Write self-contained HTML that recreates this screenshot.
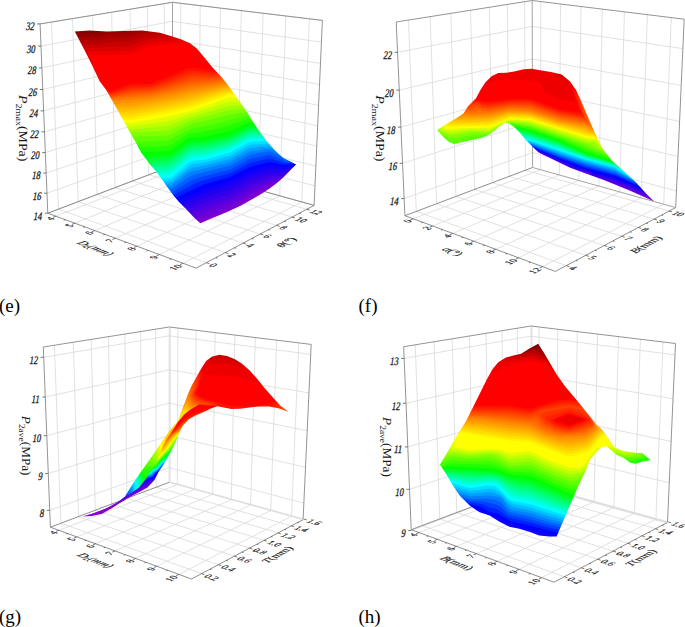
<!DOCTYPE html>
<html><head><meta charset="utf-8"><style>
html,body{margin:0;padding:0;background:#fff;}
body{width:685px;height:627px;overflow:hidden;}
svg{display:block;}
.gr{fill:none;stroke:#d9d9d9;stroke-width:0.8;}
.ed{fill:none;stroke:#7a7a7a;stroke-width:0.85;}
.ek{fill:none;stroke:#888;stroke-width:0.9;}
.tk{fill:none;stroke:#555;stroke-width:0.8;}
.em{fill:none;stroke:#a5a5a5;stroke-width:1;}
.el{fill:none;stroke:#d6d6d6;stroke-width:0.85;}
text{font-family:"Liberation Serif",serif;fill:#1a1a1a;}
.zl{font-size:11.5px;stroke:#1a1a1a;stroke-width:0.3px;}
.fl{font-size:9.5px;stroke:#1a1a1a;stroke-width:0.2px;}
.ft{font-size:11px;stroke:#1a1a1a;stroke-width:0.2px;}
.pl{font-size:19px;fill:#000;}

</style></head><body>
<svg width="685" height="627" viewBox="0 0 685 627">
<g id="pe"><path class="gr" d="M47.8 213.2L172.5 165.8M172.5 165.8L314.1 205.4M47.0 193.2L172.5 148.5M172.5 148.5L315.0 185.9M46.2 173.0L172.5 130.9M172.5 130.9L315.9 166.1M45.3 152.6L172.5 113.1M172.5 113.1L316.8 146.1M44.5 131.8L172.5 95.2M172.5 95.2L317.7 125.8M43.6 110.8L172.5 77.0M172.5 77.0L318.6 105.3M42.8 89.5L172.5 58.6M172.5 58.6L319.5 84.5M41.9 67.9L172.5 40.1M172.5 40.1L320.5 63.4M41.0 46.1L172.5 21.3M172.5 21.3L321.5 42.1M40.1 23.9L172.5 2.3M172.5 2.3L322.4 20.4M180.4 168.0L180.8 3.3M55.9 216.2L180.4 168.0M198.9 173.2L200.2 5.6M74.9 223.2L198.9 173.2M218.0 178.6L220.4 8.1M94.7 230.6L218.0 178.6M237.8 184.1L241.3 10.6M115.3 238.2L237.8 184.1M258.3 189.8L263.1 13.3M136.9 246.2L258.3 189.8M279.7 195.8L285.8 16.0M159.4 254.5L279.7 195.8M301.8 202.0L309.4 18.9M183.0 263.3L301.8 202.0M58.4 209.1L51.5 22.0M58.4 209.1L206.4 262.7M78.1 201.7L72.5 18.6M78.1 201.7L225.3 252.6M97.0 194.5L92.6 15.3M97.0 194.5L243.3 243.1M115.0 187.7L111.7 12.2M115.0 187.7L260.4 234.0M132.3 181.1L130.0 9.2M132.3 181.1L276.6 225.4M148.8 174.8L147.5 6.4M148.8 174.8L292.1 217.1M164.7 168.8L164.2 3.6M164.7 168.8L306.8 209.3"/>
<path class="ed" d="M47.8 213.2L196.1 268.1M196.1 268.1L314.1 205.4M47.8 213.2L172.5 165.8M172.5 165.8L314.1 205.4"/>
<path class="ek" d="M40.1 23.9L172.5 2.3M172.5 2.3L322.4 20.4M47.8 213.2L40.1 23.9M314.1 205.4L322.4 20.4"/>
<path class="em" d="M172.5 165.8L172.5 2.3"/>
<path class="tk" d="M55.9 216.2L53.0 217.3M74.9 223.2L72.0 224.4M94.7 230.6L91.8 231.8M115.3 238.2L112.4 239.5M136.9 246.2L134.0 247.5M159.4 254.5L156.6 255.9M183.0 263.3L180.2 264.7M65.3 219.7L63.8 220.2M84.7 226.8L83.2 227.4M104.9 234.3L103.4 235.0M126.0 242.2L124.5 242.8M148.0 250.3L146.6 251.0M171.1 258.9L169.7 259.6M206.4 262.7L209.5 263.8M225.3 252.6L228.4 253.7M243.3 243.1L246.3 244.1M260.4 234.0L263.4 235.0M276.6 225.4L279.6 226.3M292.1 217.1L295.0 218.0M306.8 209.3L309.7 210.1M216.0 257.6L217.5 258.1M234.4 247.8L235.9 248.3M251.9 238.5L253.4 239.0M268.6 229.6L270.1 230.1M284.4 221.2L285.9 221.6M299.5 213.2L301.0 213.6M44.8 213.2L47.8 213.2M44.0 193.2L47.0 193.2M43.2 173.0L46.2 173.0M42.3 152.6L45.3 152.6M41.5 131.8L44.5 131.8M40.6 110.8L43.6 110.8M39.8 89.5L42.8 89.5M38.9 67.9L41.9 67.9M38.0 46.1L41.0 46.1M37.1 23.9L40.1 23.9"/>
<text transform="matrix(0.74,0,-0.18,1,41.6,219.6)" text-anchor="end" class="zl">14</text>
<text transform="matrix(0.74,0,-0.18,1,40.8,199.6)" text-anchor="end" class="zl">16</text>
<text transform="matrix(0.74,0,-0.18,1,40.0,179.4)" text-anchor="end" class="zl">18</text>
<text transform="matrix(0.74,0,-0.18,1,39.1,159.0)" text-anchor="end" class="zl">20</text>
<text transform="matrix(0.74,0,-0.18,1,38.3,138.2)" text-anchor="end" class="zl">22</text>
<text transform="matrix(0.74,0,-0.18,1,37.4,117.2)" text-anchor="end" class="zl">24</text>
<text transform="matrix(0.74,0,-0.18,1,36.6,95.9)" text-anchor="end" class="zl">26</text>
<text transform="matrix(0.74,0,-0.18,1,35.7,74.3)" text-anchor="end" class="zl">28</text>
<text transform="matrix(0.74,0,-0.18,1,34.8,52.5)" text-anchor="end" class="zl">30</text>
<text transform="matrix(0.74,0,-0.18,1,33.9,30.3)" text-anchor="end" class="zl">32</text>
<text transform="matrix(0.933,-0.361,0.938,0.347,52.264,217.594)" y="3.3" text-anchor="end" class="fl">4</text>
<text transform="matrix(0.927,-0.374,0.938,0.347,71.270,224.681)" y="3.3" text-anchor="end" class="fl">5</text>
<text transform="matrix(0.921,-0.389,0.938,0.347,91.085,232.070)" y="3.3" text-anchor="end" class="fl">6</text>
<text transform="matrix(0.915,-0.404,0.938,0.347,111.759,239.781)" y="3.3" text-anchor="end" class="fl">7</text>
<text transform="matrix(0.907,-0.421,0.938,0.347,133.351,247.835)" y="3.3" text-anchor="end" class="fl">8</text>
<text transform="matrix(0.899,-0.439,0.938,0.347,155.923,256.255)" y="3.3" text-anchor="end" class="fl">9</text>
<text transform="matrix(0.889,-0.458,0.938,0.347,179.544,265.068)" y="3.3" text-anchor="end" class="fl">10</text>
<text transform="matrix(0.940,0.340,-0.883,0.469,211.082,264.374)" y="3.3" text-anchor="start" class="fl">0</text>
<text transform="matrix(0.945,0.327,-0.883,0.469,230.038,254.246)" y="3.3" text-anchor="start" class="fl">2</text>
<text transform="matrix(0.949,0.315,-0.883,0.469,248.026,244.637)" y="3.3" text-anchor="start" class="fl">4</text>
<text transform="matrix(0.953,0.304,-0.883,0.469,265.116,235.508)" y="3.3" text-anchor="start" class="fl">6</text>
<text transform="matrix(0.956,0.293,-0.883,0.469,281.376,226.822)" y="3.3" text-anchor="start" class="fl">8</text>
<text transform="matrix(0.959,0.283,-0.883,0.469,296.863,218.550)" y="3.3" text-anchor="start" class="fl">10</text>
<text transform="matrix(0.962,0.274,-0.883,0.469,311.632,210.662)" y="3.3" text-anchor="start" class="fl">12</text>
<text transform="matrix(0.930,0.368,-0.914,0.405,95.500,248.200)" y="3.5" text-anchor="middle" class="ft"><tspan font-style="italic">D</tspan><tspan style="font-size:7px" dy="1.5">2</tspan><tspan dy="-1.5" font-style="italic">(mm)</tspan></text>
<text transform="matrix(0.866,-0.500,0.953,0.304,286.300,242.300)" y="3.5" text-anchor="middle" class="ft"><tspan font-style="italic">θ</tspan>(°)</text>
<text transform="translate(19,95.1) rotate(90) scale(1.13,1)" style="font-size:12.3px"><tspan font-style="italic">P</tspan><tspan style="font-size:8.9px" dy="3.3">2max</tspan><tspan dy="-3.3">(MPa)</tspan></text>
<text x="-1" y="312" class="pl">(e)</text>
<g class="sf"><mask id="me0" maskUnits="userSpaceOnUse" x="0" y="0" width="685" height="627"><path d="M74.8 31.6L85.5 52.0L92.5 66.0L99.5 81.0L106.2 90.0L115.6 106.6L124.9 123.2L134.2 139.8L141.5 152.9L150.1 164.4L157.3 173.0L164.5 183.1L171.7 193.2L178.8 201.8L187.5 210.4L194.7 218.3L200.4 223.3L211.9 218.3L226.5 212.3L241.1 205.6L254.8 197.8L262.8 193.1L269.9 188.3L276.3 183.5L281.9 178.7L286.7 173.9L291.5 169.1L296.1 164.4L289.9 161.2L283.5 158.0L278.7 154.0L274.7 150.0L266.4 140.8L259.3 131.3L253.0 121.7L246.6 111.5L241.4 104.0L235.0 95.0L228.7 86.1L221.0 76.6L212.1 67.0L204.4 57.4L196.8 48.5L190.4 43.4L181.5 39.6L170.0 35.7L159.9 32.8L142.2 30.4L123.0 30.9L106.9 31.6L89.3 30.4Z" fill="#fff"/></mask>
<g mask="url(#me0)">
<path d="M74.6 29.6L73.2 30.5L72.9 32.4L97.7 81.8L104.5 91.1L139.8 153.9L177.3 203.1L193.2 219.6L199.4 225.0L201.2 225.1L241.9 207.4L263.8 194.8L283.2 180.2L297.8 165.5L298.1 164.0L297.3 162.8L284.6 156.3L280.1 152.5L267.9 139.5L230.3 84.8L198.3 47.2L191.5 41.7L182.1 37.7L160.5 30.9L142.5 28.4L106.9 29.6L89.3 28.4Z" fill="#8700cd"/>
<path d="M193.0 219.4L194.8 218.1L195.3 218.1L198.3 220.9L199.3 221.4L200.3 221.2L228.3 210.1L235.8 206.4L249.3 199.1L285.4 178.0L297.7 165.7L298.1 164.6L297.9 163.4L297.0 162.6L284.6 156.3L280.1 152.5L276.2 148.6L267.9 139.5L260.9 130.2L248.2 110.4L230.3 84.8L222.5 75.2L213.6 65.7L198.3 47.2L191.3 41.6L182.1 37.7L170.6 33.8L160.5 30.9L142.5 28.4L106.9 29.6L89.3 28.4L73.7 29.9L72.9 31.0L72.9 32.4L90.7 66.9L97.8 82.0L104.5 91.1L139.8 153.9L148.5 165.6L155.7 174.2L170.2 194.5L177.4 203.2L186.1 211.8Z" fill="#7600d3"/>
<path d="M192.8 219.0L194.8 217.4L197.8 217.9L232.3 204.4L254.3 192.1L271.3 183.5L282.8 178.6L284.3 177.5L286.1 177.3L297.7 165.7L298.1 164.6L297.9 163.4L297.0 162.6L284.6 156.3L280.1 152.5L276.2 148.6L267.9 139.5L260.9 130.2L248.2 110.4L230.3 84.8L222.5 75.2L213.6 65.7L198.3 47.2L191.3 41.6L182.1 37.7L170.6 33.8L160.5 30.9L142.5 28.4L106.9 29.6L89.3 28.4L73.7 29.9L72.9 31.0L72.9 32.4L90.7 66.9L97.8 82.0L104.5 91.1L139.8 153.9L148.5 165.6L155.7 174.2L170.2 194.5L177.4 203.2Z" fill="#6500da"/>
<path d="M192.5 218.8L194.6 216.9L194.3 215.4L194.8 214.9L207.3 209.8L231.3 201.2L252.8 189.1L270.4 181.4L282.3 177.9L285.3 175.9L286.6 176.8L297.7 165.7L298.1 164.6L297.9 163.4L297.0 162.6L284.6 156.3L280.1 152.5L276.2 148.6L267.9 139.5L260.9 130.2L248.2 110.4L230.3 84.8L222.5 75.2L213.6 65.7L198.3 47.2L191.3 41.6L182.1 37.7L170.6 33.8L160.5 30.9L142.5 28.4L106.9 29.6L89.3 28.4L73.7 29.9L72.9 31.0L72.9 32.4L90.7 66.9L97.8 82.0L104.5 91.1L139.8 153.9L148.5 165.6L155.7 174.2L170.2 194.5L177.4 203.2L186.1 211.8Z" fill="#5400e0"/>
<path d="M192.3 218.4L193.9 216.9L191.8 213.9L191.5 212.4L192.3 211.7L205.8 205.9L230.3 198.0L251.3 186.0L269.8 179.2L281.8 177.1L287.3 173.5L287.7 173.9L287.1 175.9L287.4 176.0L297.7 165.7L298.1 164.6L297.9 163.4L297.0 162.6L284.6 156.3L280.1 152.5L276.2 148.6L267.9 139.5L260.9 130.2L248.2 110.4L230.3 84.8L222.5 75.2L213.6 65.7L198.3 47.2L191.3 41.6L182.1 37.7L170.6 33.8L160.5 30.9L142.5 28.4L106.9 29.6L89.3 28.4L73.7 29.9L72.9 31.0L72.9 32.4L90.7 66.9L97.8 82.0L104.5 91.1L139.8 153.9L148.5 165.6L155.7 174.2L170.2 194.5L177.4 203.2Z" fill="#4400e6"/>
<path d="M181.4 207.2L183.0 205.9L183.8 205.8L186.8 208.6L188.3 209.3L204.3 202.1L229.3 194.3L248.8 183.4L253.8 181.4L269.8 176.3L282.3 175.3L288.3 171.6L288.8 171.7L288.9 173.4L289.5 174.0L297.7 165.7L298.0 163.8L297.0 162.6L284.6 156.3L280.1 152.5L276.2 148.6L267.9 139.5L260.9 130.2L248.2 110.4L230.3 84.8L222.5 75.2L213.6 65.7L198.3 47.2L191.3 41.6L182.1 37.7L170.6 33.8L160.5 30.9L142.5 28.4L106.9 29.6L89.3 28.4L73.7 29.9L72.9 31.0L72.9 32.4L90.7 66.9L97.8 82.0L104.5 91.1L139.8 153.9L148.5 165.6L155.7 174.2L170.2 194.5L177.4 203.2Z" fill="#3300ec"/>
<path d="M181.1 206.8L183.8 205.1L185.9 205.9L202.8 198.4L208.8 196.1L227.3 190.6L233.8 187.6L247.8 179.9L253.3 177.6L261.8 175.0L269.3 172.9L281.3 172.7L284.8 172.3L288.8 170.0L290.3 169.5L290.5 169.9L289.2 172.9L289.8 173.7L297.7 165.7L298.0 163.8L297.0 162.6L284.6 156.3L280.1 152.5L276.2 148.6L267.9 139.5L260.9 130.2L248.2 110.4L230.3 84.8L222.5 75.2L213.6 65.7L198.3 47.2L191.3 41.6L182.1 37.7L170.6 33.8L160.5 30.9L142.5 28.4L106.9 29.6L89.3 28.4L73.7 29.9L72.9 31.0L72.9 32.4L90.7 66.9L97.8 82.0L104.5 91.1L139.8 153.9L148.5 165.6L155.7 174.2L170.2 194.5L177.3 203.1Z" fill="#2200f2"/>
<path d="M180.8 206.6L183.6 204.4L183.4 202.9L184.3 201.9L192.3 198.8L207.3 192.1L225.3 186.8L231.8 184.3L245.8 176.9L252.3 174.0L268.8 169.4L271.8 169.3L281.8 169.9L287.3 169.3L290.3 167.9L291.8 167.6L292.2 167.9L291.7 169.4L289.6 172.4L290.0 173.4L297.7 165.7L298.0 163.8L297.0 162.6L284.6 156.3L280.1 152.5L276.2 148.6L267.9 139.5L260.9 130.2L248.2 110.4L230.3 84.8L222.5 75.2L213.6 65.7L198.3 47.2L191.3 41.6L182.1 37.7L170.6 33.8L160.5 30.9L142.5 28.4L106.9 29.6L89.3 28.4L73.7 29.9L72.9 31.0L72.9 32.4L90.7 66.9L97.8 82.0L104.5 91.1L139.8 153.9L148.5 165.6L155.7 174.2L170.2 194.5L177.4 203.2Z" fill="#1100f9"/>
<path d="M180.5 206.3L182.5 204.4L180.8 201.9L180.5 200.9L181.0 199.4L181.8 198.5L190.8 195.2L205.8 188.0L230.8 180.7L250.8 170.6L268.3 166.0L272.3 165.8L281.8 167.1L289.3 166.4L293.8 165.6L294.3 165.9L294.1 166.9L290.3 172.0L290.4 173.1L297.7 165.7L298.0 163.8L297.0 162.6L284.6 156.3L280.1 152.5L276.2 148.6L267.9 139.5L260.9 130.2L248.2 110.4L230.3 84.8L222.5 75.2L213.6 65.7L198.3 47.2L191.3 41.6L182.1 37.7L170.6 33.8L160.5 30.9L142.5 28.4L106.9 29.6L89.3 28.4L73.7 29.9L72.9 31.0L72.9 32.4L90.7 66.9L97.8 82.0L104.5 91.1L139.8 153.9L148.5 165.6L155.7 174.2L170.2 194.5L177.4 203.2Z" fill="#0000ff"/>
<path d="M172.0 196.7L173.8 194.9L176.3 197.0L177.6 197.4L179.6 195.4L189.3 191.5L203.8 184.4L229.3 177.3L249.3 167.2L254.3 165.7L269.8 162.0L282.8 164.8L293.3 164.0L294.3 163.6L294.4 162.9L293.3 160.7L284.6 156.3L280.1 152.5L267.9 139.5L260.9 130.2L248.2 110.4L230.3 84.8L222.5 75.2L213.6 65.7L198.3 47.2L191.5 41.7L182.1 37.7L170.6 33.8L160.5 30.9L142.5 28.4L106.9 29.6L89.3 28.4L73.7 29.9L72.9 31.0L72.9 32.4L90.7 66.9L97.8 82.0L104.5 91.1L139.8 153.9L148.5 165.6L155.7 174.2L170.1 194.4Z" fill="#0020ff"/>
<path d="M171.8 196.4L173.8 194.1L175.3 194.1L196.3 183.1L202.8 180.5L228.3 173.8L233.3 171.7L248.3 163.8L253.3 162.0L269.3 158.5L278.8 161.0L283.8 162.9L287.3 163.3L291.8 162.7L292.2 162.4L291.8 160.9L292.5 160.3L284.6 156.3L280.1 152.5L267.9 139.5L260.9 130.2L248.2 110.4L230.3 84.8L222.5 75.2L213.6 65.7L198.3 47.2L191.3 41.6L182.1 37.7L170.6 33.8L160.5 30.9L142.5 28.4L106.9 29.6L89.3 28.4L73.7 29.9L72.9 31.0L72.9 32.4L90.7 66.9L97.8 82.0L104.5 91.1L139.8 153.9L148.5 165.6L155.7 174.2Z" fill="#0040ff"/>
<path d="M171.6 196.2L173.3 193.9L172.8 191.7L191.8 180.3L201.3 176.9L226.3 170.5L231.3 168.9L247.3 160.3L252.8 158.2L269.3 155.1L271.3 155.4L279.3 158.3L284.3 160.9L287.3 161.9L289.8 161.6L289.9 160.9L288.5 158.9L289.0 158.5L284.6 156.3L280.1 152.5L267.9 139.5L260.9 130.2L248.2 110.4L230.3 84.8L222.5 75.2L213.6 65.7L198.3 47.2L191.5 41.7L182.1 37.7L170.6 33.8L160.5 30.9L142.5 28.4L106.9 29.6L89.3 28.4L73.7 29.9L72.9 31.0L72.9 32.4L90.7 66.9L97.8 82.0L104.5 91.1L139.8 153.9L148.5 165.6L155.7 174.2L170.1 194.4Z" fill="#0060ff"/>
<path d="M171.3 195.8L172.7 193.9L170.2 190.4L170.0 189.4L171.8 188.7L189.8 176.4L193.8 174.8L230.3 165.6L248.3 155.8L251.8 154.5L267.3 151.6L269.3 151.6L271.8 152.1L280.3 155.7L285.3 159.0L286.8 159.6L287.0 159.4L285.2 157.4L284.8 156.4L280.1 152.5L276.2 148.6L267.9 139.5L260.9 130.2L243.0 102.8L230.3 84.9L222.6 75.3L213.6 65.7L198.3 47.2L191.5 41.7L182.1 37.7L170.6 33.8L160.5 30.9L142.5 28.4L106.9 29.6L89.3 28.4L73.7 29.9L72.9 31.0L72.9 32.4L90.7 66.9L97.8 82.0L104.5 91.1L139.8 153.9L148.5 165.6L155.7 174.2Z" fill="#0080ff"/>
<path d="M162.9 184.4L164.6 183.9L166.3 185.6L167.8 186.5L171.3 185.5L189.8 172.2L194.8 170.7L229.3 162.5L249.8 151.4L269.3 148.4L281.4 153.7L276.2 148.6L267.9 139.5L260.9 130.2L248.2 110.4L230.3 84.8L222.5 75.2L213.6 65.7L198.3 47.2L191.3 41.6L182.1 37.7L170.6 33.8L160.5 30.9L142.5 28.4L106.9 29.6L89.3 28.4L73.9 29.8L73.0 30.8L72.9 32.4L90.7 66.9L97.8 82.0L104.5 91.1L139.8 153.9L148.5 165.6L155.7 174.2Z" fill="#009fff"/>
<path d="M162.8 184.0L164.3 183.2L167.3 183.9L171.3 182.9L187.8 170.1L192.8 167.8L205.8 165.3L228.3 159.6L232.8 157.5L248.3 149.0L251.3 148.0L268.3 146.0L273.8 148.4L278.4 150.9L267.9 139.5L260.9 130.2L248.2 110.4L230.3 84.8L222.5 75.2L213.6 65.7L198.3 47.2L191.3 41.6L182.1 37.7L170.6 33.8L160.5 30.9L142.5 28.4L106.9 29.6L89.3 28.4L73.9 29.8L73.0 30.8L72.9 32.4L90.7 66.9L97.8 82.0L104.5 91.1L139.8 153.9L148.5 165.6L155.7 174.2Z" fill="#00bfff"/>
<path d="M162.5 183.7L163.9 182.9L164.3 181.3L167.8 181.1L171.3 180.2L186.8 167.5L191.3 164.8L193.3 164.1L205.8 162.3L227.3 156.6L231.8 154.9L246.8 146.6L249.8 145.3L252.8 144.6L267.3 143.7L271.3 145.4L275.5 148.0L267.9 139.5L260.9 130.2L248.2 110.4L230.3 84.8L222.5 75.2L213.6 65.7L198.3 47.2L191.3 41.6L182.1 37.7L170.6 33.8L160.5 30.9L142.5 28.4L106.9 29.6L89.3 28.4L73.9 29.8L73.0 30.8L72.9 32.4L90.7 66.9L97.8 82.0L104.5 91.1L139.8 153.9L148.5 165.6L155.7 174.2Z" fill="#00dfff"/>
<path d="M162.3 183.4L163.4 182.4L161.9 179.4L162.3 178.4L167.8 178.3L170.6 177.9L185.8 164.8L189.3 162.2L191.8 161.1L205.3 159.4L229.8 152.5L248.3 142.6L251.8 141.6L266.3 141.3L273.1 145.3L267.9 139.5L260.9 130.2L248.2 110.4L230.3 84.8L222.5 75.2L213.6 65.7L198.3 47.2L191.3 41.6L182.1 37.7L170.6 33.8L160.5 30.9L142.5 28.4L106.9 29.6L89.3 28.4L73.9 29.8L73.0 30.8L72.9 32.4L90.7 66.9L97.8 82.0L104.5 91.1L139.8 153.9L148.5 165.6L155.7 174.2Z" fill="#00ffff"/>
<path d="M150.8 168.4L152.8 167.9L157.8 174.2L159.3 175.3L160.3 175.6L166.3 175.4L172.8 172.8L189.8 158.4L204.8 156.8L229.3 150.1L249.8 139.2L264.8 139.2L266.3 139.7L270.7 142.6L267.9 139.5L260.9 130.2L248.2 110.4L230.3 84.8L222.5 75.2L213.6 65.7L198.3 47.2L191.3 41.6L182.1 37.7L170.6 33.8L160.5 30.9L142.5 28.4L106.9 29.6L89.3 28.4L73.9 29.8L73.0 30.8L72.9 32.4L90.7 66.9L97.8 82.0L104.5 91.1L139.8 153.9L148.6 165.7Z" fill="#00ffdf"/>
<path d="M150.8 168.1L152.8 167.4L153.3 167.7L157.3 172.3L158.3 172.7L166.3 172.5L171.3 170.6L175.3 167.9L187.5 157.4L189.3 156.3L194.3 155.3L204.8 154.4L228.8 148.0L249.8 137.2L263.8 137.4L268.3 139.9L260.9 130.2L248.2 110.4L230.3 84.8L222.5 75.2L213.6 65.7L198.3 47.2L191.3 41.6L182.1 37.7L170.6 33.8L160.5 30.9L142.5 28.4L106.9 29.6L89.3 28.4L73.9 29.8L73.0 30.8L72.9 32.4L90.7 66.9L97.8 82.0L104.5 91.1L139.8 153.9L148.5 165.6Z" fill="#00ffbf"/>
<path d="M150.6 167.9L153.3 167.2L154.8 168.9L156.8 169.9L166.3 169.6L170.3 168.1L174.8 165.5L188.3 154.4L193.8 152.8L203.8 152.1L206.8 151.5L228.3 146.0L233.1 143.9L249.3 135.4L251.3 135.2L262.8 135.7L266.5 137.6L260.9 130.2L248.2 110.4L230.3 84.8L222.5 75.2L213.6 65.7L198.3 47.2L191.3 41.6L182.1 37.7L170.6 33.8L160.5 30.9L142.5 28.4L106.9 29.6L89.3 28.4L73.9 29.8L73.0 30.8L72.9 32.4L90.7 66.9L97.8 82.0L104.5 91.1L139.8 153.9L148.5 165.6Z" fill="#00ff9f"/>
<path d="M150.4 167.8L153.3 166.5L155.3 167.2L165.3 166.9L166.8 166.6L173.8 163.4L187.8 152.3L193.3 150.4L206.3 149.3L227.8 143.9L232.3 142.2L249.3 133.4L251.3 133.2L261.8 133.9L264.9 135.5L260.9 130.2L248.2 110.4L230.3 84.8L222.5 75.2L213.6 65.7L198.3 47.2L191.3 41.6L182.1 37.7L170.6 33.8L160.5 30.9L142.5 28.4L106.9 29.6L89.3 28.4L73.9 29.8L73.0 30.8L72.9 32.4L90.7 66.9L97.8 82.0L104.5 91.1L139.8 153.9L148.6 165.7Z" fill="#00ff80"/>
<path d="M150.3 167.7L152.7 166.4L152.4 164.9L152.8 164.4L165.8 163.9L172.8 161.3L186.3 150.8L192.3 148.2L205.8 147.0L227.3 141.9L231.8 140.3L249.3 131.5L251.8 131.3L257.3 132.1L260.8 132.2L263.3 133.3L248.2 110.4L230.3 84.8L222.5 75.2L213.6 65.7L198.3 47.2L191.3 41.6L182.1 37.7L170.6 33.8L160.5 30.9L142.5 28.4L106.9 29.6L89.3 28.4L73.9 29.8L73.0 30.8L72.9 32.4L90.7 66.9L97.8 82.0L104.5 91.1L139.8 153.9Z" fill="#00ff60"/>
<path d="M150.3 167.5L152.3 166.4L150.3 161.8L165.8 161.1L171.8 159.2L185.8 148.6L191.8 145.8L205.8 144.7L226.8 139.8L231.3 138.4L248.8 129.7L251.8 129.4L259.8 130.4L261.7 131.1L248.2 110.4L230.3 84.8L222.5 75.2L213.6 65.7L198.3 47.2L191.3 41.6L182.1 37.7L170.6 33.8L160.5 30.9L142.5 28.4L106.9 29.6L89.3 28.4L73.9 29.8L73.0 30.8L72.9 32.4L90.7 66.9L97.8 82.0L104.5 91.1L139.8 153.9L148.5 165.6Z" fill="#00ff40"/>
<path d="M150.0 167.4L152.0 166.4L149.3 161.9L148.3 158.9L165.3 158.2L171.1 156.9L185.3 146.5L190.3 143.8L192.8 143.0L205.4 142.4L230.3 136.7L248.8 127.7L252.3 127.5L260.2 129.0L248.2 110.4L230.3 84.8L222.5 75.2L213.6 65.7L198.3 47.2L191.3 41.6L182.1 37.7L170.6 33.8L160.5 30.9L142.5 28.4L106.9 29.6L89.3 28.4L73.9 29.8L73.0 30.8L72.9 32.4L90.7 66.9L97.8 82.0L104.5 91.1L139.8 153.9Z" fill="#00ff20"/>
<path d="M149.8 167.1L151.3 166.4L151.3 165.9L146.5 158.4L145.9 156.9L146.3 156.0L165.3 155.3L170.3 154.7L188.3 142.0L191.3 140.9L205.3 140.1L229.8 134.8L248.8 125.8L251.8 125.5L258.7 126.8L248.2 110.4L230.3 84.8L222.5 75.2L213.6 65.7L198.3 47.2L191.3 41.6L182.1 37.7L170.6 33.8L160.5 30.9L142.5 28.4L106.9 29.6L89.3 28.4L73.9 29.8L73.0 30.8L72.9 32.4L90.7 66.9L97.8 82.0L104.5 91.1L139.8 153.9Z" fill="#00ff00"/>
<path d="M135.8 146.4L137.8 145.9L141.3 150.3L143.3 151.8L165.8 151.2L172.8 148.8L189.3 137.7L204.8 136.4L227.3 131.6L231.3 130.3L249.3 122.4L255.8 123.8L256.7 123.6L248.2 110.4L230.3 84.8L222.5 75.2L213.6 65.7L198.3 47.2L191.3 41.6L182.1 37.7L170.6 33.8L160.5 30.9L142.5 28.4L106.9 29.6L89.3 28.4L73.9 29.8L73.0 30.8L72.9 32.4L90.7 66.9L97.8 82.0L104.5 91.1Z" fill="#20ff00"/>
<path d="M135.4 146.1L137.8 145.1L139.8 146.5L140.8 146.7L150.3 146.7L166.3 145.8L173.3 143.4L186.4 134.9L188.8 133.8L193.8 132.7L203.8 131.5L225.8 126.6L247.8 119.0L254.3 120.1L248.2 110.4L230.3 84.8L222.5 75.2L213.6 65.7L198.3 47.2L191.3 41.6L182.1 37.7L170.6 33.8L160.5 30.9L142.5 28.4L106.9 29.6L89.3 28.4L73.9 29.8L73.0 30.8L72.9 32.4L90.7 66.9L97.8 82.0L104.5 91.1Z" fill="#40ff00"/>
<path d="M135.3 145.8L137.4 144.4L136.7 142.4L136.8 141.7L150.3 141.5L166.3 140.6L171.8 139.1L185.3 131.2L192.3 128.5L202.8 126.5L224.8 121.4L232.8 118.9L246.3 115.5L247.3 115.4L252.1 116.4L248.2 110.4L230.3 84.9L222.6 75.3L213.6 65.7L198.3 47.2L191.3 41.6L182.1 37.7L170.6 33.8L160.5 30.9L142.5 28.4L106.9 29.6L89.3 28.4L73.9 29.8L73.0 30.8L72.9 32.4L90.7 66.9L97.7 81.8L104.5 91.1Z" fill="#60ff00"/>
<path d="M135.3 145.4L136.6 144.4L132.9 137.9L132.7 136.9L133.3 136.4L150.3 136.3L165.3 135.5L170.3 134.8L185.8 126.7L191.8 124.1L231.3 114.2L245.3 111.9L249.8 112.9L230.3 84.9L222.6 75.3L213.6 65.7L198.3 47.2L191.2 41.6L182.1 37.7L170.6 33.8L160.5 30.9L142.5 28.4L106.9 29.6L89.3 28.4L73.9 29.8L73.0 30.8L72.9 32.4L90.7 66.9L97.8 82.0L104.5 91.1Z" fill="#80ff00"/>
<path d="M126.0 128.9L126.8 129.2L129.3 131.9L130.8 132.3L150.3 131.7L167.8 130.4L171.8 129.3L189.3 121.0L207.3 115.7L230.3 109.9L243.8 108.5L247.5 109.2L230.3 84.9L222.6 75.3L213.6 65.7L198.3 47.2L191.2 41.6L182.1 37.7L170.6 33.8L160.5 30.9L142.5 28.4L106.9 29.6L89.3 28.4L73.9 29.8L73.0 30.8L72.9 32.4L90.7 66.9L97.7 81.8L104.5 91.1Z" fill="#9fff00"/>
<path d="M125.8 128.5L126.8 128.3L128.3 129.1L130.8 129.4L167.3 125.9L172.3 124.4L187.8 118.1L229.3 105.9L242.8 105.2L245.0 105.7L230.3 84.9L222.6 75.3L213.6 65.7L198.3 47.2L191.2 41.6L182.1 37.7L170.6 33.8L160.5 30.9L142.5 28.4L106.9 29.6L89.3 28.4L73.9 29.8L73.0 30.8L72.9 32.4L90.7 66.9L97.7 81.8L104.5 91.1Z" fill="#bfff00"/>
<path d="M125.4 128.2L126.4 127.4L126.3 126.2L126.8 126.0L130.8 126.4L165.8 121.6L169.3 120.8L228.8 101.9L231.8 101.6L242.5 102.1L230.3 84.9L222.6 75.3L213.6 65.7L198.3 47.2L191.2 41.6L182.1 37.7L170.6 33.8L160.5 30.9L142.5 28.4L106.9 29.6L89.3 28.4L73.9 29.8L73.0 30.8L72.9 32.4L90.7 66.9L97.7 81.8L104.5 91.1Z" fill="#dfff00"/>
<path d="M125.3 127.8L125.4 126.9L124.1 123.9L124.3 122.8L130.8 123.3L170.3 116.1L190.8 110.9L228.3 97.8L232.3 97.5L240.1 98.7L230.3 84.9L222.6 75.3L213.6 65.7L198.2 47.1L191.3 41.6L182.3 37.8L170.6 33.8L160.5 30.9L142.3 28.4L106.9 29.6L89.3 28.4L73.9 29.8L73.0 30.8L72.9 32.4L90.7 66.9L97.7 81.8L104.5 91.1Z" fill="#ffff00"/>
<path d="M104.5 91.1L119.3 116.9L121.8 119.5L127.8 120.3L131.8 120.1L149.8 116.2L169.8 112.7L189.3 108.4L229.4 94.4L230.8 94.4L238.0 95.8L230.3 84.9L222.6 75.3L213.6 65.7L198.2 47.1L191.3 41.6L182.3 37.8L170.6 33.8L160.5 30.9L142.3 28.4L106.9 29.6L89.3 28.4L73.9 29.8L73.0 30.8L72.9 32.4L90.7 66.9L97.7 81.8Z" fill="#ffef00"/>
<path d="M116.3 111.7L117.3 112.4L119.8 116.3L120.8 116.9L128.3 117.4L131.8 117.2L169.3 110.2L188.3 106.0L229.3 92.7L236.7 93.9L230.3 84.8L222.6 75.3L213.6 65.7L198.2 47.1L191.3 41.6L182.3 37.8L170.6 33.8L160.5 30.9L142.3 28.4L106.9 29.6L89.3 28.4L73.9 29.8L73.0 30.8L72.9 32.4L90.7 66.9L97.7 81.8L104.5 91.1Z" fill="#ffdf00"/>
<path d="M116.3 111.5L117.3 111.9L118.8 113.8L119.8 114.4L131.3 114.4L168.8 107.7L187.3 103.6L228.8 91.2L230.3 91.0L235.3 92.0L230.3 84.8L222.6 75.3L213.6 65.7L198.2 47.1L191.3 41.6L182.3 37.8L170.6 33.8L160.5 30.9L142.3 28.4L106.9 29.6L89.3 28.4L73.9 29.8L73.0 30.8L72.9 32.4L90.7 66.9L97.7 81.8L104.5 91.1Z" fill="#ffcf00"/>
<path d="M116.0 111.3L118.8 111.7L130.8 111.6L166.3 105.5L186.8 101.0L228.3 89.6L230.3 89.4L234.0 90.1L230.3 84.8L222.6 75.3L213.6 65.7L198.2 47.1L191.3 41.6L182.1 37.7L170.6 33.8L160.5 30.9L142.3 28.4L106.9 29.6L89.3 28.4L73.9 29.8L73.0 30.8L72.9 32.4L90.7 66.9L97.7 81.8L104.5 91.1Z" fill="#ffc000"/>
<path d="M115.9 111.2L117.0 110.4L117.1 109.4L117.8 109.1L130.8 108.7L151.3 105.6L167.8 102.6L185.8 98.6L227.8 88.1L229.8 87.8L232.7 88.2L222.6 75.3L213.6 65.7L198.2 47.1L191.3 41.6L182.1 37.7L170.6 33.8L160.5 30.9L142.3 28.4L106.9 29.6L89.3 28.4L73.9 29.8L73.0 30.8L72.9 32.4L90.7 66.9L97.7 81.8L104.5 91.1Z" fill="#ffb000"/>
<path d="M115.8 111.0L116.4 110.4L115.7 106.9L116.3 106.5L130.3 105.9L151.3 103.0L171.8 99.2L191.3 94.4L227.3 86.5L229.8 86.1L231.3 86.3L222.6 75.3L213.6 65.7L198.2 47.1L191.3 41.6L182.1 37.7L170.6 33.8L160.5 30.9L142.3 28.4L106.9 29.6L89.3 28.4L73.9 29.8L73.0 30.8L72.9 32.4L90.7 66.9L97.7 81.8L104.5 91.1Z" fill="#ffa000"/>
<path d="M115.8 110.6L115.9 109.9L114.3 105.4L114.3 104.4L114.8 103.9L129.8 103.0L150.8 100.5L170.8 96.8L190.3 92.1L201.3 89.9L230.0 84.5L222.5 75.2L213.6 65.7L198.2 47.1L191.3 41.6L182.1 37.7L170.6 33.8L160.5 30.9L142.3 28.4L106.9 29.6L89.3 28.4L73.9 29.8L73.0 30.8L72.9 32.4L90.7 66.9L97.7 81.8L104.5 91.1Z" fill="#ff9000"/>
<path d="M115.4 110.3L113.2 104.4L113.1 101.9L113.8 101.2L129.8 100.1L150.3 97.9L170.3 94.2L190.3 89.5L228.8 83.0L222.5 75.2L213.6 65.7L198.2 47.1L191.3 41.6L182.1 37.7L170.6 33.8L160.5 30.9L142.3 28.4L106.9 29.6L89.3 28.4L73.9 29.8L73.0 30.8L72.9 32.4L90.7 66.9L97.7 81.8L104.5 91.1Z" fill="#ff8000"/>
<path d="M108.3 97.1L110.4 100.4L111.3 101.1L111.9 99.9L112.7 99.4L150.3 95.8L169.3 92.1L190.3 86.9L227.5 81.5L222.5 75.2L213.6 65.7L198.0 46.9L191.2 41.6L182.1 37.7L170.6 33.8L160.2 30.8L142.3 28.4L106.9 29.6L89.3 28.4L73.9 29.8L73.0 30.8L72.9 32.4L90.7 66.9L97.7 81.8L104.5 91.1L107.9 97.0Z" fill="#ff7000"/>
<path d="M107.8 96.7L108.9 96.9L110.3 98.8L111.3 98.3L132.3 95.6L150.3 94.1L168.8 90.1L191.3 84.1L213.3 81.8L226.0 79.6L222.5 75.2L213.6 65.7L198.0 46.9L191.2 41.6L182.1 37.7L170.6 33.8L160.2 30.8L142.3 28.4L106.9 29.6L89.3 28.4L73.9 29.8L73.0 30.8L72.9 32.4L90.7 66.9L97.7 81.8L104.5 91.1Z" fill="#ff6000"/>
<path d="M107.8 96.4L112.3 97.1L132.3 93.6L150.8 92.3L168.3 88.0L190.8 81.4L213.3 80.0L223.3 78.5L224.3 77.9L222.6 75.3L213.6 65.7L198.0 46.9L191.2 41.6L182.1 37.7L170.6 33.8L160.2 30.8L142.3 28.4L106.9 29.6L89.3 28.4L73.9 29.8L73.0 30.8L72.9 32.4L90.7 66.9L97.7 81.8L104.5 91.1Z" fill="#ff5000"/>
<path d="M107.5 96.3L109.3 95.4L112.3 95.9L132.3 91.7L151.8 90.4L167.3 86.2L190.3 78.8L193.8 78.4L213.3 78.2L221.3 77.0L222.3 76.4L220.7 73.4L213.6 65.7L198.0 46.9L191.2 41.6L182.1 37.7L170.6 33.8L160.2 30.8L142.3 28.4L106.9 29.6L89.3 28.4L73.9 29.8L73.0 30.8L72.9 32.4L90.7 66.9L97.7 81.8L104.5 91.1Z" fill="#ff4000"/>
<path d="M107.4 96.2L108.5 95.4L108.3 93.9L111.8 94.8L131.8 89.8L151.3 88.7L170.8 82.8L189.3 76.3L193.8 75.7L213.3 76.4L219.8 75.4L220.3 74.9L217.5 69.8L213.6 65.7L198.0 46.9L191.2 41.6L182.1 37.7L170.6 33.8L160.2 30.8L142.3 28.4L106.9 29.6L89.3 28.4L73.9 29.8L73.0 30.8L72.9 32.4L90.7 66.9L97.7 81.8L104.5 91.1Z" fill="#ff3000"/>
<path d="M107.3 96.0L108.1 95.4L107.3 92.9L107.8 92.5L111.3 93.7L128.3 88.6L131.8 87.9L150.8 87.1L170.3 80.7L188.8 73.7L193.8 73.1L213.3 74.5L217.8 73.9L218.3 73.4L213.3 65.9L213.2 65.2L198.0 46.9L191.2 41.6L182.1 37.7L170.6 33.8L160.2 30.8L142.3 28.4L106.9 29.6L89.3 28.4L73.9 29.8L73.0 30.8L72.9 32.4L90.7 66.9L97.7 81.8L104.5 91.1Z" fill="#ff2000"/>
<path d="M107.3 95.7L107.7 95.4L106.4 91.4L106.8 91.0L110.8 92.5L128.3 86.7L131.3 86.0L150.8 85.4L171.3 78.0L187.8 71.1L193.8 70.4L213.3 72.7L215.8 72.4L216.3 71.9L210.2 62.9L209.7 61.4L210.6 61.9L198.0 46.9L191.2 41.6L182.1 37.7L170.6 33.8L160.2 30.8L142.3 28.4L106.9 29.6L89.3 28.4L73.9 29.8L73.0 30.8L72.9 32.4L90.7 66.9L97.7 81.8L104.5 91.1Z" fill="#ff1000"/>
<path d="M107.0 95.4L105.4 90.9L105.3 89.4L110.3 91.4L127.8 84.9L131.3 84.1L150.3 83.7L170.3 76.0L186.8 68.6L194.3 67.7L213.3 70.8L214.3 70.4L206.6 59.4L205.6 56.9L205.8 56.7L206.7 57.1L198.0 46.9L191.2 41.6L182.1 37.7L170.6 33.8L160.2 30.8L142.3 28.4L106.9 29.6L89.3 28.4L73.9 29.8L73.0 30.8L72.9 32.4L90.7 66.9L97.7 81.8L104.5 91.1Z" fill="#ff0000"/>
<path d="M96.7 72.4L90.3 58.0L89.7 56.4L89.8 55.3L128.3 54.5L132.3 53.5L150.3 46.2L169.8 44.3L180.8 42.7L185.8 43.0L189.8 42.7L193.3 45.4L194.6 45.9L191.9 42.9L192.4 42.4L191.3 41.6L185.7 39.2L185.3 39.6L178.8 37.5L178.4 36.9L178.7 36.5L170.6 33.8L160.2 30.8L142.5 28.4L106.9 29.6L89.3 28.4L73.9 29.8L73.0 30.8L72.9 32.4L80.4 46.6L81.3 46.5L81.8 47.1L95.1 71.9L96.8 73.9ZM198.7 47.6L198.1 48.9L198.8 49.9L200.8 51.6L202.0 51.5ZM194.9 46.4L195.3 46.9L195.7 46.4L195.3 46.3ZM196.3 46.9L195.8 46.4L195.3 46.9L196.3 47.6Z" fill="#ee0000"/>
<path d="M91.6 62.9L87.8 53.8L87.5 52.4L87.8 51.6L100.3 51.6L104.3 50.9L128.3 50.4L131.8 49.6L140.3 46.0L150.3 42.6L166.3 41.4L176.8 40.0L183.3 40.6L184.6 40.4L177.8 37.7L177.5 37.4L178.2 36.4L160.5 30.9L142.5 28.4L106.9 29.6L89.3 28.4L73.9 29.8L73.0 30.8L72.9 32.4L80.2 46.3L81.3 46.1L81.9 46.4L90.8 62.8L91.3 63.3ZM187.4 40.0L187.8 41.1L191.0 41.5Z" fill="#dc0000"/>
<path d="M86.8 53.9L85.2 48.9L85.3 48.2L85.8 48.0L99.3 48.0L105.3 46.8L128.8 46.3L131.3 45.7L138.8 42.6L150.3 39.0L172.3 37.3L176.3 37.6L177.7 36.2L160.5 30.9L142.3 28.4L106.9 29.6L89.3 28.4L73.9 29.8L73.0 30.8L72.9 32.4L80.1 46.1L81.8 45.9L82.3 46.4L85.8 53.1Z" fill="#ca0000"/>
<path d="M80.1 45.9L81.8 45.6L82.8 46.1L83.0 44.9L83.8 44.4L98.3 44.3L106.8 42.6L129.3 42.2L136.8 39.4L150.3 35.5L163.1 34.4L160.7 32.9L161.0 31.0L142.3 28.4L106.9 29.6L89.3 28.4L74.1 29.7L73.0 30.8L72.9 32.4Z" fill="#b90000"/>
<path d="M80.0 45.8L81.9 44.9L80.8 41.7L80.8 41.1L81.3 40.8L97.3 40.7L107.8 38.5L129.3 38.1L134.8 36.1L150.3 31.9L154.3 31.9L159.3 32.5L160.0 30.8L142.1 28.4L106.9 29.6L89.3 28.4L74.1 29.7L73.0 30.8L72.9 32.4Z" fill="#a80000"/>
<path d="M79.9 45.6L81.4 44.9L78.8 38.8L78.8 37.2L96.3 37.1L108.8 34.5L129.8 33.9L139.8 31.1L140.1 28.5L106.9 29.6L89.3 28.4L74.1 29.7L73.0 30.8L72.9 32.4Z" fill="#960000"/>
<path d="M79.8 45.3L80.7 44.9L80.7 44.4L77.2 36.9L76.3 33.8L77.3 33.5L95.8 33.5L102.9 31.9L105.5 30.9L103.3 30.2L103.2 29.3L89.4 28.4L73.9 29.8L73.0 30.8L72.9 32.4Z" fill="#840000"/>
</g></g></g><g id="pf"><path class="gr" d="M404.1 198.6L532.5 152.6M532.5 152.6L676.4 190.9M402.6 163.3L532.4 122.0M532.4 122.0L678.0 156.5M400.9 127.1L532.4 90.8M532.4 90.8L679.6 121.4M399.3 90.1L532.3 58.9M532.3 58.9L681.2 85.4M397.6 52.3L532.2 26.4M532.2 26.4L682.8 48.6M540.7 169.7L540.8 1.6M413.3 218.8L540.7 169.7M559.4 175.0L560.5 4.0M432.6 226.0L559.4 175.0M578.8 180.4L581.0 6.5M452.8 233.4L578.8 180.4M598.9 186.0L602.3 9.2M473.8 241.2L598.9 186.0M619.7 191.9L624.4 11.9M495.7 249.3L619.7 191.9M641.2 197.9L647.4 14.7M518.5 257.8L641.2 197.9M663.7 204.2L671.3 17.7M542.5 266.6L663.7 204.2M416.3 211.4L408.4 20.1M416.3 211.4L566.3 265.6M436.6 203.7L430.2 16.7M436.6 203.7L585.7 255.3M455.9 196.4L450.9 13.4M455.9 196.4L604.2 245.5M474.5 189.4L470.6 10.3M474.5 189.4L621.6 236.3M492.2 182.7L489.4 7.3M492.2 182.7L638.2 227.4M509.1 176.3L507.4 4.5M509.1 176.3L654.0 219.1M525.4 170.2L524.6 1.7M525.4 170.2L669.1 211.1"/>
<path class="ed" d="M404.9 215.7L555.4 271.4M555.4 271.4L675.7 207.6M404.9 215.7L532.6 167.5"/>
<path class="ek" d="M396.2 22.0L532.2 0.5M532.2 0.5L684.2 19.2M404.9 215.7L396.2 22.0M675.7 207.6L684.2 19.2"/>
<path class="em" d="M532.6 167.5L532.2 0.5M532.6 167.5L675.7 207.6"/>
<path class="tk" d="M413.3 218.8L410.3 220.0M432.6 226.0L429.7 227.2M452.8 233.4L449.8 234.7M473.8 241.2L470.8 242.5M495.7 249.3L492.7 250.6M518.5 257.8L515.6 259.2M542.5 266.6L539.6 268.1M422.9 222.3L421.4 222.9M442.6 229.6L441.1 230.2M463.2 237.2L461.7 237.9M484.6 245.2L483.1 245.8M507.0 253.5L505.5 254.2M530.4 262.1L528.9 262.9M566.3 265.6L569.5 266.7M585.7 255.3L588.9 256.4M604.2 245.5L607.2 246.5M621.6 236.3L624.7 237.2M638.2 227.4L641.2 228.4M654.0 219.1L657.0 219.9M669.1 211.1L672.0 211.9M576.2 260.4L577.7 260.9M595.1 250.3L596.6 250.9M613.0 240.8L614.5 241.3M630.0 231.8L631.5 232.3M646.2 223.2L647.7 223.6M661.7 215.0L663.1 215.4M401.1 198.6L404.1 198.6M399.6 163.3L402.6 163.3M397.9 127.1L400.9 127.1M396.3 90.1L399.3 90.1M394.6 52.3L397.6 52.3"/>
<text transform="matrix(0.74,0,-0.18,1,397.9,205.0)" text-anchor="end" class="zl">14</text>
<text transform="matrix(0.74,0,-0.18,1,396.4,169.7)" text-anchor="end" class="zl">16</text>
<text transform="matrix(0.74,0,-0.18,1,394.7,133.5)" text-anchor="end" class="zl">18</text>
<text transform="matrix(0.74,0,-0.18,1,393.1,96.5)" text-anchor="end" class="zl">20</text>
<text transform="matrix(0.74,0,-0.18,1,391.4,58.7)" text-anchor="end" class="zl">22</text>
<text transform="matrix(0.933,-0.359,0.938,0.347,409.683,220.201)" y="3.3" text-anchor="end" class="fl">0</text>
<text transform="matrix(0.928,-0.373,0.938,0.347,429.023,227.406)" y="3.3" text-anchor="end" class="fl">2</text>
<text transform="matrix(0.922,-0.388,0.938,0.347,449.174,234.914)" y="3.3" text-anchor="end" class="fl">4</text>
<text transform="matrix(0.915,-0.403,0.938,0.347,470.189,242.745)" y="3.3" text-anchor="end" class="fl">6</text>
<text transform="matrix(0.907,-0.420,0.938,0.347,492.125,250.920)" y="3.3" text-anchor="end" class="fl">8</text>
<text transform="matrix(0.899,-0.438,0.938,0.347,515.043,259.462)" y="3.3" text-anchor="end" class="fl">10</text>
<text transform="matrix(0.889,-0.458,0.938,0.347,539.011,268.398)" y="3.3" text-anchor="end" class="fl">12</text>
<text transform="matrix(0.941,0.340,-0.883,0.469,571.035,267.290)" y="3.3" text-anchor="start" class="fl">4</text>
<text transform="matrix(0.945,0.327,-0.883,0.469,590.474,256.922)" y="3.3" text-anchor="start" class="fl">5</text>
<text transform="matrix(0.949,0.315,-0.883,0.469,608.899,247.096)" y="3.3" text-anchor="start" class="fl">6</text>
<text transform="matrix(0.953,0.303,-0.883,0.469,626.388,237.769)" y="3.3" text-anchor="start" class="fl">7</text>
<text transform="matrix(0.956,0.293,-0.883,0.469,643.009,228.906)" y="3.3" text-anchor="start" class="fl">8</text>
<text transform="matrix(0.959,0.283,-0.883,0.469,658.827,220.471)" y="3.3" text-anchor="start" class="fl">9</text>
<text transform="matrix(0.962,0.274,-0.883,0.469,673.898,212.435)" y="3.3" text-anchor="start" class="fl">10</text>
<text transform="matrix(0.930,0.368,-0.915,0.404,452.700,251.500)" y="3.5" text-anchor="middle" class="ft"><tspan font-style="italic">α</tspan>(°)</text>
<text transform="matrix(0.866,-0.500,0.953,0.304,646.000,244.600)" y="3.5" text-anchor="middle" class="ft"><tspan font-style="italic">B</tspan>(mm)</text>
<text transform="translate(375.6,95.2) rotate(90) scale(1.13,1)" style="font-size:12.3px"><tspan font-style="italic">P</tspan><tspan style="font-size:8.9px" dy="3.3">2max</tspan><tspan dy="-3.3">(MPa)</tspan></text>
<text x="358.5" y="312" class="pl">(f)</text>
<g class="sf"><mask id="mf0" maskUnits="userSpaceOnUse" x="0" y="0" width="685" height="627"><path d="M437.2 130.1L443.0 136.7L448.8 141.8L453.9 144.0L460.5 142.6L469.6 140.5L480.7 138.1L488.7 135.0L495.1 130.2L500.7 125.4L504.7 122.7L509.4 123.8L514.2 127.0L520.6 133.4L527.0 141.3L533.4 147.5L538.6 152.6L570.1 167.8L605.1 180.6L630.8 191.1L654.2 201.6L646.0 193.5L635.5 181.8L623.8 171.3L612.1 160.7L602.8 149.0L595.8 135.0L588.8 118.7L580.6 100.0L576.0 90.0L570.0 81.6L561.8 74.4L550.9 72.0L541.3 70.4L531.8 68.8L523.8 69.3L514.2 71.5L506.3 72.8L498.3 73.1L491.9 76.0L485.5 82.3L480.7 89.5L476.0 98.3L468.0 106.3L463.4 113.4L454.7 119.2L445.9 124.3Z" fill="#fff"/></mask>
<g mask="url(#mf0)">
<path d="M436.1 128.4L435.2 129.7L435.5 131.1L441.7 138.2L447.6 143.4L453.9 146.0L481.4 140.0L489.7 136.7L505.1 124.8L508.6 125.7L512.9 128.6L525.6 142.7L537.7 154.4L569.4 169.7L604.4 182.5L653.6 203.5L655.1 203.4L656.1 202.2L655.7 200.3L637.0 180.5L613.6 159.3L604.5 147.9L597.6 134.2L577.7 89.0L571.5 80.3L562.4 72.5L531.9 66.8L523.5 67.3L506.1 70.8L497.5 71.3L490.8 74.4L484.0 81.0L474.4 97.1L466.4 105.0L461.9 112.0Z" fill="#8700cd"/>
<path d="M617.5 187.8L639.7 197.0L640.2 196.8L640.2 196.3L640.7 196.2L649.7 199.2L650.2 199.3L650.7 198.8L649.3 195.8L650.4 195.0L636.8 180.3L613.6 159.3L604.5 147.9L597.6 134.2L577.7 89.0L571.5 80.3L562.4 72.5L551.2 70.0L531.9 66.8L523.5 67.3L513.8 69.5L506.1 70.8L497.5 71.3L490.8 74.4L484.0 81.0L478.9 88.6L474.4 97.1L466.4 105.0L461.9 112.0L453.6 117.5L444.8 122.6L436.1 128.4L435.3 129.5L435.6 131.3L441.7 138.2L447.6 143.4L453.9 146.0L481.4 140.0L489.7 136.7L505.1 124.8L508.6 125.7L512.9 128.6L519.1 134.7L525.6 142.7L537.7 154.4L569.4 169.7L611.0 185.2L610.6 184.8L613.5 185.8L617.2 187.3L616.4 187.4L618.4 187.8ZM619.7 188.3L620.2 188.8L621.0 188.8L620.2 188.8L619.7 188.3L618.7 188.3ZM622.3 189.3L621.7 189.3L621.6 189.3ZM623.2 189.8L623.2 189.7L623.6 189.8ZM624.7 190.3L624.4 190.3L624.9 190.3ZM626.2 190.8L626.2 190.8L625.9 190.8ZM627.2 191.3L627.3 191.3L627.2 191.3ZM628.7 191.8L628.7 191.8L628.7 191.8Z" fill="#7600d3"/>
<path d="M601.6 181.4L595.8 178.3L596.8 178.3L604.1 180.8L648.2 197.6L648.7 197.7L649.1 197.3L648.6 195.8L648.9 195.3L650.0 194.7L636.8 180.3L613.6 159.3L604.5 147.9L597.6 134.2L577.7 89.0L571.5 80.3L562.4 72.5L551.2 70.0L531.9 66.8L523.5 67.3L513.8 69.5L506.1 70.8L497.5 71.3L490.8 74.4L484.0 81.0L478.9 88.6L474.4 97.1L466.4 105.0L461.9 112.0L453.6 117.5L444.8 122.6L436.1 128.4L435.3 129.5L435.6 131.3L441.7 138.2L447.6 143.4L453.9 146.0L481.4 140.0L489.7 136.7L505.1 124.8L508.6 125.7L512.9 128.6L519.1 134.7L525.6 142.7L536.4 153.2L537.7 153.0L539.2 153.3L571.4 168.3L568.2 167.8L559.7 165.0L569.2 169.6ZM588.7 174.9L585.5 173.8L584.0 172.8L587.8 173.8L589.4 174.8Z" fill="#6500da"/>
<path d="M595.9 179.3L591.7 176.9L591.7 176.5L595.5 177.3L614.7 183.5L646.7 196.1L647.7 196.3L648.3 195.3L649.8 194.4L636.8 180.3L613.6 159.3L604.5 147.9L597.6 134.2L577.7 89.0L571.5 80.3L562.4 72.5L551.2 70.0L531.9 66.8L523.5 67.3L513.8 69.5L506.1 70.8L497.5 71.3L490.8 74.4L484.0 81.0L478.9 88.6L474.4 97.1L466.4 105.0L461.9 112.0L453.6 117.5L444.8 122.6L436.1 128.4L435.3 129.5L435.6 131.3L441.7 138.2L447.6 143.4L453.9 146.0L481.4 140.0L489.7 136.7L505.1 124.8L508.6 125.7L512.9 128.6L519.1 134.7L525.6 142.7L535.4 152.3L537.2 152.1L539.1 152.8L577.5 170.8L576.1 170.8L563.6 166.9L569.2 169.6ZM578.8 171.3L580.0 171.3L579.7 171.8ZM581.7 171.5L581.9 172.3L581.4 172.3L581.3 171.8ZM589.7 175.7L583.7 173.4L583.2 172.8L583.4 172.3L584.7 172.0L589.7 173.8L590.0 174.8Z" fill="#5400e0"/>
<path d="M590.3 177.3L587.9 175.8L582.2 173.1L566.6 168.3L569.4 169.7ZM534.7 151.4L536.7 151.4L537.7 151.7L578.2 170.5L582.2 170.7L582.7 171.7L584.7 171.4L589.7 173.1L590.4 173.8L590.7 175.6L614.7 182.2L644.7 194.3L647.2 195.0L649.5 194.1L636.8 180.3L613.6 159.3L604.5 147.9L597.6 134.2L577.7 89.0L571.5 80.3L562.4 72.5L551.2 70.0L531.9 66.8L523.5 67.3L513.8 69.5L506.1 70.8L497.5 71.3L490.8 74.4L484.0 81.0L478.9 88.6L474.4 97.1L466.4 105.0L461.9 112.0L453.6 117.5L444.8 122.6L435.9 128.6L435.2 129.7L435.6 131.3L441.5 138.0L447.5 143.3L454.1 146.0L481.3 140.0L489.4 136.9L505.1 124.8L508.6 125.7L512.9 128.6L519.1 134.7L525.6 142.7Z" fill="#4400e6"/>
<path d="M583.6 174.9L580.3 173.3L569.8 169.8ZM533.8 150.6L536.7 150.7L578.2 169.9L582.2 170.0L583.2 170.8L584.7 170.7L590.2 172.6L590.7 173.1L591.1 174.8L591.7 175.2L615.2 181.1L643.2 192.6L645.7 193.5L646.2 193.3L644.8 189.2L637.0 180.5L613.6 159.3L604.5 147.9L597.6 134.2L577.7 89.0L571.5 80.3L562.4 72.5L551.2 70.0L531.9 66.8L523.5 67.3L513.8 69.5L506.1 70.8L497.5 71.3L490.8 74.4L484.0 81.0L478.9 88.6L474.4 97.1L466.4 105.0L461.9 112.0L453.6 117.5L444.8 122.6L435.9 128.6L435.2 129.7L435.6 131.3L441.5 138.0L447.5 143.3L454.1 146.0L481.3 140.0L489.4 136.9L505.1 124.8L508.6 125.7L512.9 128.6L519.1 134.7L525.6 142.7Z" fill="#3300ec"/>
<path d="M533.2 149.9L536.2 150.0L539.2 151.7L578.7 169.2L582.2 169.3L590.2 171.8L591.0 172.3L591.7 173.8L592.2 174.1L615.2 179.8L644.2 191.9L644.9 191.8L644.0 189.3L644.4 188.7L637.0 180.5L613.6 159.3L604.5 147.9L597.6 134.2L577.7 89.0L571.5 80.3L562.4 72.5L551.2 70.0L531.9 66.8L523.5 67.3L513.8 69.5L506.1 70.8L497.5 71.3L490.8 74.4L484.0 81.0L478.9 88.6L474.4 97.1L466.4 105.0L461.9 112.0L453.6 117.5L444.8 122.6L435.9 128.6L435.2 129.7L435.6 131.3L441.5 138.0L447.5 143.3L454.1 146.0L481.3 140.0L489.4 136.9L505.1 124.8L508.6 125.7L512.9 128.6L519.1 134.7L525.6 142.7Z" fill="#2200f2"/>
<path d="M532.2 149.1L535.7 149.3L539.2 151.3L579.7 168.4L582.7 168.7L590.7 171.3L592.7 172.8L615.2 178.6L640.2 188.9L643.2 190.5L643.7 190.7L643.9 190.3L643.5 188.8L644.1 188.4L637.0 180.5L613.6 159.3L604.5 147.9L597.6 134.2L577.7 89.0L571.5 80.3L562.4 72.5L551.2 70.0L531.9 66.8L523.5 67.3L513.8 69.5L506.1 70.8L497.5 71.3L490.8 74.4L484.0 81.0L478.9 88.6L474.4 97.1L466.4 105.0L461.9 112.0L453.6 117.5L444.8 122.6L435.9 128.6L435.2 129.7L435.6 131.3L441.5 138.0L447.5 143.3L454.1 146.0L481.3 140.0L489.4 136.9L505.1 124.8L508.6 125.7L512.9 128.6L519.1 134.7L525.6 142.7Z" fill="#1100f9"/>
<path d="M531.4 148.3L534.7 148.3L539.1 150.8L556.9 158.3L580.2 167.4L591.2 170.7L593.2 171.6L615.2 177.3L638.2 186.9L642.7 189.4L642.7 186.8L643.7 187.9L636.8 180.3L613.6 159.3L604.5 147.9L597.6 134.2L577.7 89.0L571.5 80.3L562.4 72.5L551.2 70.0L531.9 66.8L523.5 67.3L513.8 69.5L506.1 70.8L497.5 71.3L490.8 74.4L484.0 81.0L478.9 88.6L474.4 97.1L466.4 105.0L461.9 112.0L453.6 117.5L444.8 122.6L435.9 128.6L435.2 129.7L435.6 131.3L441.5 138.0L447.5 143.3L454.1 146.0L481.3 140.0L489.4 136.9L505.1 124.8L508.6 125.7L512.9 128.6L519.1 134.7L525.6 142.7Z" fill="#0000ff"/>
<path d="M530.7 147.5L534.2 147.6L538.2 149.8L560.0 158.8L585.7 168.2L615.2 176.1L637.7 185.7L641.2 187.9L641.9 187.8L640.4 184.3L637.0 180.5L613.6 159.3L604.5 147.9L597.6 134.2L577.7 89.0L571.5 80.3L562.4 72.5L551.2 70.0L531.9 66.8L523.5 67.3L513.8 69.5L506.1 70.8L497.5 71.3L490.8 74.4L484.0 81.0L478.9 88.6L474.4 97.1L466.4 105.0L461.9 112.0L453.6 117.5L444.8 122.6L435.9 128.6L435.2 129.7L435.6 131.3L441.5 138.0L447.5 143.3L454.1 146.0L481.3 140.0L489.4 136.9L505.1 124.8L508.6 125.7L512.9 128.6L519.1 134.7L525.6 142.7Z" fill="#0020ff"/>
<path d="M529.7 146.7L533.7 146.8L537.7 148.8L559.7 157.6L585.7 166.9L614.7 174.6L636.7 184.4L640.8 186.8L639.3 183.1L637.0 180.5L613.6 159.3L604.5 147.9L597.6 134.2L577.7 89.0L571.5 80.3L562.4 72.5L551.2 70.0L531.9 66.8L523.5 67.3L513.8 69.5L506.1 70.8L497.5 71.3L490.8 74.4L484.0 81.0L478.9 88.6L474.4 97.1L466.4 105.0L461.9 112.0L453.6 117.5L444.8 122.6L435.9 128.6L435.2 129.7L435.6 131.3L441.5 138.0L447.5 143.3L454.1 146.0L481.3 140.0L489.4 136.9L505.1 124.8L508.6 125.7L512.9 128.6L519.1 134.7L525.6 142.7Z" fill="#0040ff"/>
<path d="M529.2 145.9L533.2 146.0L560.2 156.7L586.2 165.7L614.7 173.4L635.7 183.1L639.2 185.4L639.8 185.3L638.5 182.2L637.0 180.5L613.6 159.3L604.5 147.9L597.6 134.2L577.7 89.0L571.5 80.3L562.2 72.4L551.2 70.0L531.9 66.8L523.5 67.3L513.8 69.5L506.1 70.8L497.5 71.3L490.8 74.4L484.0 81.0L478.9 88.6L474.4 97.1L466.4 105.0L461.9 112.0L453.6 117.5L444.8 122.6L435.9 128.6L435.2 129.7L435.6 131.3L441.5 138.0L447.5 143.3L454.1 146.0L481.3 140.0L489.4 136.9L505.1 124.8L508.6 125.7L512.9 128.6L519.1 134.7L525.6 142.7Z" fill="#0060ff"/>
<path d="M528.2 145.2L532.7 145.1L560.2 155.6L585.2 164.0L614.7 172.1L634.2 181.6L638.8 184.3L637.0 180.5L613.6 159.3L604.5 147.9L597.6 134.2L577.7 89.0L571.5 80.3L562.2 72.4L551.2 70.0L531.9 66.8L523.5 67.3L513.8 69.5L506.1 70.8L497.5 71.3L490.8 74.4L484.0 81.0L478.9 88.6L474.4 97.1L466.4 105.0L461.9 112.0L453.6 117.5L444.8 122.6L435.9 128.6L435.2 129.7L435.6 131.3L441.5 138.0L447.5 143.3L454.1 146.0L481.3 140.0L489.4 136.9L505.1 124.8L508.6 125.7L512.9 128.6L519.1 134.7L525.4 142.6Z" fill="#0080ff"/>
<path d="M527.3 144.4L532.2 144.1L560.2 154.4L585.2 162.8L614.7 170.8L633.2 180.3L637.2 182.9L637.8 182.8L636.5 180.0L613.6 159.3L604.5 147.9L597.6 134.2L577.7 89.0L571.5 80.3L562.2 72.4L551.2 70.0L531.9 66.8L523.5 67.3L513.8 69.5L506.1 70.8L497.5 71.3L490.8 74.4L484.0 81.0L478.9 88.6L474.4 97.1L466.4 105.0L461.9 112.0L453.6 117.5L444.8 122.6L435.9 128.6L435.2 129.7L435.6 131.3L441.5 138.0L447.5 143.3L454.1 146.0L481.3 140.0L489.4 136.9L505.1 124.8L508.6 125.7L512.9 128.6L519.1 134.7L525.6 142.7Z" fill="#009fff"/>
<path d="M526.7 143.5L530.2 142.8L531.7 143.0L560.7 153.4L585.7 161.8L614.7 169.6L636.8 181.8L635.8 179.4L613.6 159.3L604.5 147.9L597.6 134.2L577.7 89.0L571.5 80.3L562.2 72.4L551.2 70.0L531.9 66.8L523.5 67.3L513.8 69.5L506.1 70.8L497.5 71.3L490.8 74.4L484.0 81.0L478.9 88.6L474.4 97.1L466.4 105.0L461.9 112.0L453.6 117.5L444.8 122.6L435.9 128.6L435.2 129.7L435.6 131.3L441.5 138.0L447.5 143.3L454.1 146.0L481.3 140.0L489.4 136.9L505.1 124.8L508.6 125.7L512.9 128.6L519.1 134.7L525.4 142.6Z" fill="#00bfff"/>
<path d="M525.7 142.5L529.2 141.6L530.7 141.8L585.7 160.6L614.7 168.3L635.2 180.4L635.8 180.3L635.2 178.8L613.6 159.3L604.5 147.9L597.6 134.2L577.7 89.0L571.5 80.3L562.2 72.4L551.2 70.0L531.9 66.8L523.5 67.3L513.8 69.5L506.1 70.8L497.5 71.3L490.8 74.4L484.0 81.0L478.9 88.6L474.4 97.1L466.4 105.0L461.9 112.0L453.6 117.5L444.8 122.6L435.9 128.6L435.2 129.7L435.6 131.3L441.5 138.0L447.5 143.3L454.1 146.0L481.3 140.0L489.4 136.9L505.1 124.8L508.6 125.7L512.9 128.6L519.1 134.7Z" fill="#00dfff"/>
<path d="M524.6 141.3L528.2 140.3L529.7 140.5L585.7 159.5L614.7 167.1L634.8 179.3L634.4 178.1L613.6 159.3L604.5 147.9L597.6 134.2L577.7 89.0L571.5 80.3L562.2 72.4L551.2 70.0L531.9 66.8L523.5 67.3L513.8 69.5L506.1 70.8L497.5 71.3L490.8 74.4L484.0 81.0L478.9 88.6L474.4 97.1L466.4 105.0L461.9 112.0L436.1 128.4L435.2 129.9L435.6 131.3L441.5 138.0L447.5 143.3L454.1 146.0L481.3 140.0L489.4 136.9L505.1 124.8L508.6 125.7L512.9 128.6L519.1 134.7Z" fill="#00ffff"/>
<path d="M523.7 140.0L526.7 139.0L528.7 139.2L559.7 149.4L585.7 158.6L614.7 166.3L633.7 178.1L633.7 177.5L613.6 159.3L604.5 147.9L597.6 134.2L577.7 89.0L571.5 80.3L562.2 72.4L551.2 70.0L531.9 66.8L523.5 67.3L513.8 69.5L506.1 70.8L497.5 71.3L490.8 74.4L484.0 81.0L478.9 88.6L474.4 97.1L466.4 105.0L461.9 112.0L436.1 128.4L435.2 129.9L435.6 131.3L441.5 138.0L447.5 143.3L453.7 146.0L481.1 140.1L489.4 136.9L505.1 124.8L508.6 125.7L512.9 128.6L519.1 134.7Z" fill="#00ffdf"/>
<path d="M522.6 138.8L525.2 137.4L528.7 138.0L557.7 147.6L585.7 157.9L614.7 165.7L632.2 176.8L632.8 176.8L613.6 159.3L604.5 147.9L597.6 134.2L577.7 89.0L571.5 80.3L562.2 72.4L551.2 70.0L531.9 66.8L523.5 67.3L513.8 69.5L506.1 70.8L497.5 71.3L490.8 74.4L484.0 81.0L478.9 88.6L474.4 97.1L466.4 105.0L461.9 112.0L436.1 128.4L435.2 129.9L435.6 131.3L441.5 138.0L447.5 143.3L453.7 146.0L481.1 140.1L489.4 136.9L505.1 124.8L508.6 125.7L512.9 128.6Z" fill="#00ffbf"/>
<path d="M521.4 137.3L523.2 135.8L528.7 136.9L558.2 146.6L585.7 157.2L614.7 165.1L631.8 175.8L613.6 159.3L604.5 147.9L597.6 134.2L577.7 89.0L571.5 80.3L562.2 72.4L551.2 70.0L531.9 66.8L523.5 67.3L513.8 69.5L506.1 70.8L497.5 71.3L490.8 74.4L484.0 81.0L478.9 88.6L474.4 97.1L466.4 105.0L461.9 112.0L436.1 128.4L435.2 129.9L435.6 131.3L441.5 138.0L447.5 143.3L453.7 146.0L481.1 140.1L489.4 136.9L505.1 124.8L508.6 125.7L512.9 128.6Z" fill="#00ff9f"/>
<path d="M519.7 135.4L520.7 134.4L521.7 134.3L529.2 135.9L558.7 145.7L585.7 156.5L614.7 164.6L630.4 174.6L613.6 159.3L604.5 147.9L597.6 134.2L577.7 89.0L571.5 80.3L562.2 72.4L551.2 70.0L531.9 66.8L523.5 67.3L513.8 69.5L506.1 70.8L497.5 71.3L490.8 74.4L484.0 81.0L478.9 88.6L474.4 97.1L466.4 105.0L461.9 112.0L436.1 128.4L435.2 129.9L435.6 131.3L441.5 138.0L447.5 143.3L453.7 146.0L481.1 140.1L489.4 136.9L505.1 124.8L508.6 125.7L512.9 128.6Z" fill="#00ff80"/>
<path d="M517.9 133.6L518.8 132.8L520.2 132.7L529.7 134.9L558.7 144.5L585.7 155.8L614.7 164.0L628.8 173.1L613.6 159.3L604.5 147.9L597.6 134.2L577.7 89.0L571.5 80.3L562.2 72.4L551.2 70.0L531.9 66.8L523.5 67.3L513.8 69.5L506.1 70.8L497.5 71.3L490.8 74.4L484.0 81.0L478.9 88.6L474.4 97.1L466.4 105.0L461.9 112.0L436.1 128.4L435.2 129.9L435.6 131.3L441.5 138.0L447.5 143.3L453.9 146.0L481.1 140.1L489.4 136.9L505.1 124.8L508.6 125.7L512.9 128.6Z" fill="#00ff60"/>
<path d="M516.2 131.7L517.2 131.1L518.2 131.2L529.2 133.6L558.7 143.4L585.7 155.1L614.7 163.5L627.1 171.5L613.6 159.3L604.5 147.9L597.6 134.2L577.8 89.2L571.6 80.4L562.8 72.7L551.3 70.0L531.9 66.8L523.7 67.3L513.8 69.5L506.1 70.8L497.8 71.2L490.9 74.3L484.0 81.0L478.9 88.6L474.4 97.1L466.4 105.0L461.9 112.0L436.1 128.4L435.2 130.1L435.7 131.4L441.5 138.0L447.5 143.3L453.9 146.0L481.1 140.1L489.4 136.9L505.1 124.8L508.6 125.7L512.9 128.6Z" fill="#00ff40"/>
<path d="M514.4 130.0L516.7 129.7L529.7 132.6L559.2 142.4L585.7 154.4L614.7 163.0L625.0 169.7L613.6 159.3L604.5 147.9L597.6 134.2L577.8 89.2L571.6 80.4L562.8 72.7L551.3 70.0L531.9 66.8L523.7 67.3L513.8 69.5L506.1 70.8L497.8 71.2L490.9 74.3L484.0 81.0L478.9 88.6L474.4 97.1L466.4 105.0L461.9 112.0L436.1 128.4L435.2 130.1L435.7 131.4L441.5 138.0L447.5 143.3L453.9 146.0L481.1 140.1L489.4 136.9L505.1 124.8L508.6 125.7L512.9 128.6Z" fill="#00ff20"/>
<path d="M512.7 128.2L514.7 128.1L529.7 131.5L559.7 141.5L586.2 153.8L614.7 162.4L622.5 167.4L613.6 159.3L604.5 147.9L597.6 134.2L577.8 89.2L571.6 80.4L562.8 72.7L551.3 70.0L531.9 66.8L523.7 67.3L513.8 69.5L506.1 70.8L497.8 71.2L490.9 74.3L484.0 81.0L478.9 88.6L474.4 97.1L466.4 105.0L461.9 112.0L436.1 128.4L435.2 130.1L435.7 131.4L441.5 138.0L447.5 143.3L453.9 146.0L481.1 140.1L489.4 136.9L505.1 124.8L508.6 125.7Z" fill="#00ff00"/>
<path d="M476.7 141.0L483.9 139.0L489.7 136.7L505.1 124.8L509.2 126.1L513.2 126.6L530.2 130.3L559.7 140.1L586.2 152.3L612.7 160.6L619.2 164.4L613.6 159.3L604.5 147.9L597.6 134.2L577.8 89.2L571.5 80.3L562.4 72.5L551.2 70.0L532.1 66.8L523.5 67.3L513.8 69.5L506.1 70.8L498.0 71.1L490.8 74.4L484.0 81.0L478.9 88.6L474.4 97.1L466.4 105.0L461.9 112.0L453.6 117.5L444.8 122.6L436.1 128.4L435.3 129.5L435.6 131.3L441.7 138.2L447.6 143.4L453.3 145.9L454.3 146.0Z" fill="#20ff00"/>
<path d="M459.5 144.8L459.2 144.3L460.3 143.8L490.8 136.0L501.9 127.0L505.1 124.8L507.3 125.4L511.2 125.1L530.2 128.8L560.7 139.0L587.3 150.3L610.7 158.3L615.2 160.8L613.6 159.3L604.5 147.9L597.6 134.2L577.8 89.2L571.5 80.3L562.4 72.5L551.2 70.0L531.9 66.8L523.5 67.3L513.8 69.5L506.1 70.8L498.0 71.1L490.8 74.4L484.0 81.0L478.9 88.6L474.4 97.1L466.4 105.0L461.9 112.0L453.6 117.5L444.8 122.6L435.5 129.0L435.2 130.1L435.7 131.4L441.5 138.0L447.6 143.4L453.7 146.0Z" fill="#40ff00"/>
<path d="M442.7 138.7L443.7 138.4L446.2 140.0L452.7 142.6L457.5 142.8L493.3 134.0L501.9 127.0L505.1 124.8L506.0 125.1L508.7 124.4L511.7 124.1L530.2 127.3L561.7 137.8L603.7 154.3L608.2 155.7L612.4 157.9L604.5 147.9L597.6 134.2L577.8 89.2L571.5 80.3L562.4 72.5L551.2 70.0L532.1 66.8L523.5 67.3L513.8 69.5L506.1 70.8L498.0 71.1L490.6 74.5L484.0 81.0L478.9 88.6L474.4 97.1L466.4 105.0L461.9 112.0L453.6 117.5L444.8 122.6L435.6 128.8L435.2 129.9L435.6 131.3L441.5 138.0Z" fill="#60ff00"/>
<path d="M441.7 137.9L442.9 137.3L442.2 135.3L442.7 135.2L449.7 138.3L452.7 138.5L455.7 138.3L470.7 135.2L489.2 134.0L494.2 132.1L503.5 125.3L508.7 123.7L512.2 123.1L531.2 126.2L585.2 144.4L607.2 153.7L610.5 155.5L604.5 147.9L597.6 134.2L577.8 89.2L571.5 80.3L562.4 72.5L551.2 70.0L531.9 66.8L523.5 67.3L513.8 69.5L506.1 70.8L497.8 71.2L490.6 74.5L484.0 81.0L478.9 88.6L474.4 97.1L466.4 105.0L461.9 112.0L453.6 117.5L444.8 122.6L435.6 128.8L435.2 129.9L435.6 131.3Z" fill="#80ff00"/>
<path d="M439.2 126.4L439.6 127.8L438.3 129.8L438.6 130.8L447.7 134.8L451.7 135.4L469.9 132.3L489.7 132.7L502.7 124.7L511.7 122.1L529.2 124.2L587.2 143.2L590.5 143.8L593.7 145.2L598.7 148.3L608.5 153.0L604.5 147.9L597.6 134.2L577.8 89.2L571.5 80.3L562.4 72.5L551.2 70.0L532.1 66.8L523.5 67.3L513.8 69.5L506.1 70.8L498.0 71.1L490.8 74.4L484.0 81.0L478.9 88.6L474.4 97.1L466.4 105.0L461.9 112.0L453.6 117.5L444.8 122.6Z" fill="#9fff00"/>
<path d="M439.6 126.3L440.5 127.8L440.2 129.5L441.0 130.3L444.7 131.9L448.7 133.0L451.7 133.2L469.7 130.8L489.7 131.1L502.2 124.1L511.2 121.1L529.2 122.8L587.2 141.4L594.2 141.9L595.7 142.7L599.7 146.9L606.5 150.5L604.5 147.9L597.6 134.2L577.8 89.2L571.5 80.3L562.4 72.5L551.2 70.0L532.1 66.8L523.5 67.3L513.8 69.5L506.1 70.8L498.0 71.1L490.8 74.4L484.0 81.0L478.9 88.6L474.4 97.1L466.4 105.0L461.9 112.0L453.6 117.5L444.8 122.6Z" fill="#bfff00"/>
<path d="M439.8 125.9L440.7 127.0L442.2 126.8L442.2 128.8L443.2 129.7L444.7 130.3L449.2 130.9L451.7 131.0L469.7 129.3L489.2 129.4L490.2 129.3L501.9 123.3L510.7 120.1L529.7 121.5L586.7 139.5L596.2 140.0L600.7 145.6L604.6 148.0L597.6 134.2L577.8 89.2L571.5 80.3L562.4 72.5L551.2 70.0L532.1 66.8L523.5 67.3L513.8 69.5L506.1 70.8L498.0 71.1L490.8 74.4L484.0 81.0L478.9 88.6L474.4 97.1L466.4 105.0L461.9 112.0L453.6 117.5L444.8 122.6Z" fill="#dfff00"/>
<path d="M440.2 125.7L440.7 126.3L441.2 126.1L444.2 123.5L444.6 124.3L444.1 127.8L444.7 128.6L445.7 128.8L451.7 128.8L469.7 127.8L489.2 127.8L510.2 119.2L529.7 120.1L585.7 137.5L595.7 138.6L596.7 139.4L600.2 143.8L603.6 146.1L597.6 134.2L577.8 89.2L571.5 80.3L562.4 72.5L551.2 70.0L532.1 66.8L523.5 67.3L513.8 69.5L506.1 70.8L498.0 71.1L490.8 74.4L484.0 81.0L478.9 88.6L474.4 97.1L466.4 105.0L461.9 112.0Z" fill="#ffff00"/>
<path d="M447.0 121.4L446.2 126.3L446.4 126.8L447.2 127.0L469.7 126.2L487.7 126.1L492.2 125.2L509.7 118.2L529.7 118.9L560.2 128.5L585.7 136.0L595.2 137.4L599.7 142.3L602.6 144.2L597.6 134.2L577.8 89.2L571.5 80.3L562.4 72.5L551.2 70.0L532.1 66.8L523.5 67.3L513.8 69.5L506.1 70.8L498.0 71.1L490.8 74.4L484.0 81.0L478.9 88.6L474.4 97.1L466.4 105.0L461.9 112.0L453.6 117.5Z" fill="#ffef00"/>
<path d="M449.0 120.3L448.4 124.3L448.7 125.1L449.2 125.3L487.2 124.5L491.7 123.7L509.7 117.0L529.7 117.8L557.7 126.6L587.2 135.1L594.7 136.1L598.7 140.4L601.7 142.4L597.6 134.2L577.8 89.2L571.5 80.3L562.4 72.5L551.2 70.0L532.1 66.8L523.5 67.3L513.8 69.5L506.1 70.8L498.0 71.1L490.8 74.4L484.0 81.0L478.9 88.6L474.4 97.1L466.4 105.0L461.9 112.0Z" fill="#ffdf00"/>
<path d="M451.0 119.3L450.5 122.8L451.2 123.5L487.2 122.8L491.7 122.0L509.7 115.9L529.7 116.7L558.2 125.6L582.7 132.0L588.2 134.0L594.2 134.9L598.2 138.9L600.8 140.5L597.6 134.2L577.8 89.2L571.5 80.3L562.4 72.5L551.2 70.0L532.1 66.8L523.5 67.3L513.8 69.5L506.1 70.8L498.0 71.1L490.8 74.4L484.0 81.0L478.9 88.6L474.4 97.1L466.4 105.0L461.9 112.0Z" fill="#ffcf00"/>
<path d="M453.1 117.8L452.7 121.3L453.6 121.8L487.2 121.2L491.2 120.5L509.7 114.7L529.7 115.6L558.7 124.6L583.2 130.7L588.7 132.9L593.7 133.6L597.2 136.9L599.8 138.6L577.8 89.2L571.5 80.3L562.4 72.5L551.2 70.0L532.1 66.8L523.5 67.3L513.8 69.5L506.1 70.8L498.0 71.1L490.8 74.4L484.0 81.0L478.9 88.6L474.4 97.1L466.4 105.0L461.9 112.0Z" fill="#ffc000"/>
<path d="M455.1 116.8L454.7 119.3L454.9 119.8L455.7 120.0L486.7 119.5L491.2 118.9L509.7 113.6L529.7 114.6L558.7 123.5L584.2 129.4L589.2 131.7L593.2 132.4L596.7 135.4L598.8 136.5L577.8 89.2L571.5 80.3L562.4 72.5L551.2 70.0L532.1 66.8L523.5 67.3L513.8 69.5L506.1 70.8L498.0 71.1L490.8 74.4L484.0 81.0L478.9 88.6L474.4 97.1L466.4 105.0L461.9 112.0Z" fill="#ffb000"/>
<path d="M597.3 133.8L577.8 89.2L571.5 80.3L562.4 72.5L551.2 70.0L532.1 66.8L523.5 67.3L513.8 69.5L506.1 70.8L498.0 71.1L490.8 74.4L483.8 81.2L478.9 88.6L474.4 97.1L466.4 105.0L461.9 112.0L457.2 115.1L456.9 116.8L456.9 117.8L458.1 118.3L470.2 118.4L487.2 117.8L490.7 117.4L509.7 112.5L529.7 113.5L559.2 122.5L584.7 128.0L590.2 130.7L592.7 131.1L595.7 133.4L596.7 133.9Z" fill="#ffa000"/>
<path d="M595.2 130.8L594.9 127.9L577.8 89.2L571.5 80.3L562.4 72.5L551.2 70.0L532.1 66.8L523.5 67.3L513.8 69.5L506.1 70.8L498.0 71.1L490.8 74.4L484.0 81.0L478.9 88.6L474.4 97.1L466.4 105.0L461.9 112.0L459.3 113.7L459.0 115.3L459.2 116.3L460.2 116.5L470.2 116.8L486.7 116.2L490.7 115.7L509.7 111.4L529.7 112.4L559.7 121.6L584.7 126.5L594.7 131.3Z" fill="#ff9000"/>
<path d="M461.3 112.8L461.2 114.3L461.7 114.8L470.2 115.3L490.2 114.2L510.2 110.2L529.7 111.3L559.7 120.4L585.2 125.1L591.2 128.3L592.2 128.6L592.9 128.3L592.3 121.8L582.4 99.2L577.7 89.0L571.5 80.3L562.4 72.5L551.2 70.0L532.1 66.8L523.5 67.3L513.8 69.5L506.1 70.8L498.0 71.1L490.8 74.4L484.0 81.0L478.9 88.6L474.4 97.1L466.4 105.0Z" fill="#ff8000"/>
<path d="M590.7 126.2L589.7 115.8L577.8 89.2L571.5 80.3L562.4 72.5L551.2 70.0L531.9 66.8L523.5 67.3L513.8 69.5L506.1 70.8L498.0 71.1L490.8 74.4L483.8 81.2L478.9 88.6L474.4 97.1L466.3 105.2L463.8 109.1L463.3 111.8L463.4 112.8L464.2 113.2L470.2 113.5L479.7 112.6L482.7 113.0L489.7 112.7L510.2 108.9L529.7 110.0L560.1 119.3L584.7 123.6L590.2 126.3Z" fill="#ff7000"/>
<path d="M589.2 123.8L588.2 119.3L587.2 110.8L586.4 108.3L577.7 89.0L571.5 80.3L562.4 72.5L551.2 70.0L531.9 66.8L523.5 67.3L513.8 69.5L506.1 70.8L498.0 71.1L490.8 74.4L483.8 81.2L478.9 88.6L474.4 97.1L466.4 105.2L465.3 110.3L465.7 111.3L469.7 111.7L472.2 111.5L478.7 109.9L482.2 111.3L488.7 111.2L510.2 107.5L529.7 108.5L560.2 117.9L583.7 122.0L588.7 124.2Z" fill="#ff6000"/>
<path d="M587.7 121.8L585.7 114.3L584.3 105.3L584.7 104.9L585.4 105.9L577.7 89.0L571.5 80.3L562.4 72.5L551.2 70.0L531.9 66.8L523.5 67.3L513.8 69.5L506.1 70.8L498.0 71.1L490.8 74.4L484.0 81.0L478.9 88.6L474.4 97.1L468.6 102.9L467.3 108.8L467.4 109.3L468.2 109.7L471.2 109.7L477.7 107.2L482.2 109.6L489.2 109.6L510.2 106.1L527.7 106.7L531.2 107.2L560.7 116.6L583.2 120.4L587.2 122.2Z" fill="#ff5000"/>
<path d="M586.2 119.8L583.3 109.8L582.4 102.8L582.7 102.4L583.2 102.7L584.7 104.4L577.7 89.0L571.3 80.1L562.4 72.5L551.2 70.0L532.1 66.8L523.5 67.3L513.8 69.5L506.1 70.8L498.0 71.1L490.8 74.4L484.0 81.0L478.9 88.6L474.4 97.1L470.8 100.7L469.3 106.8L469.7 107.8L470.7 107.7L476.2 104.6L477.7 105.1L481.7 107.7L483.2 108.0L490.2 108.0L510.2 104.8L528.2 105.2L531.7 105.8L558.7 114.8L582.2 118.8L585.7 120.2Z" fill="#ff4000"/>
<path d="M584.7 117.8L580.8 104.8L579.9 98.8L580.2 98.4L584.2 103.1L577.7 89.0L571.3 80.1L562.4 72.5L551.2 70.0L532.1 66.8L523.5 67.3L513.8 69.5L506.1 70.8L498.0 71.1L490.9 74.3L484.0 81.0L479.0 88.4L474.4 97.1L472.9 98.6L471.4 104.3L471.7 105.3L475.7 103.0L476.7 102.9L482.2 106.3L489.2 106.5L510.2 103.4L528.2 103.6L531.7 104.2L559.2 113.5L581.2 117.2L584.2 118.2Z" fill="#ff3000"/>
<path d="M583.2 115.8L578.7 101.5L577.9 95.8L578.7 96.1L580.7 98.2L583.9 102.6L577.7 89.0L571.3 80.1L562.4 72.5L551.2 70.0L532.1 66.8L523.5 67.3L513.8 69.5L506.1 70.8L498.0 71.1L490.9 74.3L484.0 81.0L479.0 88.4L475.2 95.6L472.9 102.8L473.2 103.4L475.7 102.1L477.2 102.0L478.7 102.4L482.2 104.6L489.2 104.9L510.2 102.0L528.2 102.0L532.2 102.8L559.2 112.2L582.7 116.2Z" fill="#ff2000"/>
<path d="M581.4 114.3L581.7 113.8L581.5 112.8L576.2 96.5L575.5 92.3L578.3 94.8L583.6 101.9L577.7 89.0L571.3 80.1L562.4 72.5L551.2 70.0L532.1 66.8L523.5 67.3L513.8 69.5L506.1 70.8L498.0 71.1L490.9 74.3L484.0 81.0L479.0 88.4L478.1 90.2L474.5 100.8L474.7 101.6L476.2 101.2L478.7 101.3L482.7 103.0L489.7 103.3L510.2 100.6L528.2 100.5L532.2 101.2L559.7 110.9Z" fill="#ff1000"/>
<path d="M480.5 86.3L476.1 98.8L475.9 99.8L476.2 100.3L480.2 100.6L482.7 101.3L489.7 101.7L510.2 99.2L528.2 98.9L532.2 99.6L559.7 109.5L579.7 112.6L580.2 112.3L580.2 111.8L574.2 93.2L573.3 89.8L573.6 89.3L578.9 94.8L582.8 100.1L577.7 89.0L571.6 80.4L563.0 72.8L551.2 70.0L532.1 66.8L523.5 67.3L513.8 69.5L506.1 70.8L497.7 71.2L490.6 74.5L484.0 81.0Z" fill="#ff0000"/>
<path d="M575.2 101.6L574.7 98.2L571.2 86.2L571.7 86.0L572.7 86.7L578.2 93.8L579.2 94.1L580.0 93.9L577.7 89.0L571.6 80.4L562.8 72.7L551.3 70.0L531.7 66.8L523.5 67.3L513.8 69.5L506.1 70.8L498.0 71.1L490.8 74.4L483.4 81.8L483.5 84.3L485.2 84.5L493.2 81.0L507.2 78.6L521.2 80.2L531.2 80.5L537.2 81.2L539.2 81.9L540.2 82.9L544.3 91.8L545.2 92.9L561.7 99.6L574.2 101.7Z" fill="#ee0000"/>
<path d="M548.5 69.8L548.2 71.3L552.7 72.9L555.1 75.3L567.2 81.6L569.2 81.3L573.6 86.3L578.2 92.8L578.7 93.1L579.5 92.9L577.7 89.0L571.5 80.3L563.0 72.8L551.3 70.0Z" fill="#dc0000"/>
</g></g></g><g id="pg"><path class="gr" d="M49.8 510.3L169.1 467.6M169.1 467.6L303.9 503.1M48.3 473.5L169.1 435.7M169.1 435.7L305.5 467.3M46.8 435.7L169.2 403.1M169.2 403.1L307.2 430.6M45.3 397.0L169.2 369.8M169.2 369.8L309.0 392.9M43.7 357.3L169.2 335.8M169.2 335.8L310.8 354.4M177.3 484.6L177.9 328.1M58.9 530.3L177.3 484.6M194.7 489.4L196.2 330.3M76.8 536.9L194.7 489.4M212.7 494.4L215.2 332.6M95.6 543.7L212.7 494.4M231.3 499.6L234.9 335.1M115.1 550.9L231.3 499.6M250.6 505.0L255.4 337.6M135.4 558.4L250.6 505.0M270.7 510.5L276.7 340.2M156.7 566.2L270.7 510.5M291.5 516.3L298.8 342.9M178.9 574.4L291.5 516.3M60.8 523.2L54.4 345.2M60.8 523.2L201.4 573.6M78.5 516.6L73.3 342.2M78.5 516.6L218.3 564.7M95.3 510.2L91.2 339.4M95.3 510.2L234.3 556.2M111.5 504.1L108.4 336.7M111.5 504.1L249.6 548.1M127.0 498.2L124.9 334.1M127.0 498.2L264.1 540.3M141.9 492.6L140.6 331.6M141.9 492.6L278.0 532.9M156.3 487.1L155.7 329.2M156.3 487.1L291.3 525.9M170.1 481.9L170.3 326.9M170.1 481.9L304.0 519.1"/>
<path class="ed" d="M50.4 527.2L191.5 579.0M191.5 579.0L303.1 519.6M50.4 527.2L169.1 482.3"/>
<path class="ek" d="M43.3 347.0L169.3 327.0M169.3 327.0L311.2 344.4M50.4 527.2L43.3 347.0M303.1 519.6L311.2 344.4"/>
<path class="el" d="M169.1 482.3L169.3 327.0M169.1 482.3L303.1 519.6"/>
<path class="tk" d="M58.9 530.3L56.1 531.3M76.8 536.9L74.1 538.0M95.6 543.7L92.8 544.9M115.1 550.9L112.3 552.1M135.4 558.4L132.7 559.7M156.7 566.2L154.0 567.5M178.9 574.4L176.2 575.7M67.8 533.5L66.4 534.1M86.1 540.3L84.7 540.8M105.2 547.3L103.8 547.9M125.2 554.6L123.8 555.2M146.0 562.3L144.6 562.9M167.7 570.2L166.3 570.9M201.4 573.6L204.4 574.7M218.3 564.7L221.2 565.7M234.3 556.2L237.2 557.1M249.6 548.1L252.4 549.0M264.1 540.3L266.9 541.2M278.0 532.9L280.8 533.8M291.3 525.9L294.0 526.7M304.0 519.1L306.7 519.9M210.0 569.1L211.4 569.6M226.4 560.4L227.8 560.9M242.0 552.1L243.5 552.5M256.9 544.1L258.3 544.6M271.1 536.6L272.5 537.0M284.7 529.4L286.1 529.8M297.7 522.5L299.1 522.8M46.8 510.3L49.8 510.3M45.3 473.5L48.3 473.5M43.8 435.7L46.8 435.7M42.3 397.0L45.3 397.0M40.7 357.3L43.7 357.3"/>
<text transform="matrix(0.74,0,-0.18,1,43.6,516.7)" text-anchor="end" class="zl">8</text>
<text transform="matrix(0.74,0,-0.18,1,42.1,479.9)" text-anchor="end" class="zl">9</text>
<text transform="matrix(0.74,0,-0.18,1,40.6,442.1)" text-anchor="end" class="zl">10</text>
<text transform="matrix(0.74,0,-0.18,1,39.1,403.4)" text-anchor="end" class="zl">11</text>
<text transform="matrix(0.74,0,-0.18,1,37.5,363.7)" text-anchor="end" class="zl">12</text>
<text transform="matrix(0.933,-0.360,0.939,0.345,55.216,531.674)" y="3.3" text-anchor="end" class="fl">4</text>
<text transform="matrix(0.928,-0.374,0.939,0.345,73.219,538.329)" y="3.3" text-anchor="end" class="fl">5</text>
<text transform="matrix(0.922,-0.388,0.939,0.345,91.970,545.262)" y="3.3" text-anchor="end" class="fl">6</text>
<text transform="matrix(0.915,-0.404,0.939,0.345,111.517,552.489)" y="3.3" text-anchor="end" class="fl">7</text>
<text transform="matrix(0.907,-0.421,0.939,0.345,131.910,560.031)" y="3.3" text-anchor="end" class="fl">8</text>
<text transform="matrix(0.899,-0.439,0.939,0.345,153.206,567.908)" y="3.3" text-anchor="end" class="fl">9</text>
<text transform="matrix(0.889,-0.458,0.939,0.345,175.468,576.143)" y="3.3" text-anchor="end" class="fl">10</text>
<text transform="matrix(0.941,0.337,-0.883,0.470,206.148,575.325)" y="3.3" text-anchor="start" class="fl">0.2</text>
<text transform="matrix(0.946,0.325,-0.883,0.470,223.009,566.310)" y="3.3" text-anchor="start" class="fl">0.4</text>
<text transform="matrix(0.949,0.314,-0.883,0.470,239.049,557.735)" y="3.3" text-anchor="start" class="fl">0.6</text>
<text transform="matrix(0.953,0.304,-0.883,0.470,254.324,549.568)" y="3.3" text-anchor="start" class="fl">0.8</text>
<text transform="matrix(0.956,0.294,-0.883,0.470,268.890,541.782)" y="3.3" text-anchor="start" class="fl">1.0</text>
<text transform="matrix(0.959,0.284,-0.883,0.470,282.794,534.350)" y="3.3" text-anchor="start" class="fl">1.2</text>
<text transform="matrix(0.961,0.276,-0.883,0.470,296.080,527.248)" y="3.3" text-anchor="start" class="fl">1.4</text>
<text transform="matrix(0.964,0.268,-0.883,0.470,308.789,520.455)" y="3.3" text-anchor="start" class="fl">1.6</text>
<text transform="matrix(0.931,0.365,-0.915,0.404,95.600,560.400)" y="3.5" text-anchor="middle" class="ft"><tspan font-style="italic">D</tspan><tspan style="font-size:7px" dy="1.5">2</tspan><tspan dy="-1.5" font-style="italic">(mm)</tspan></text>
<text transform="matrix(0.866,-0.501,0.953,0.302,277.300,554.800)" y="3.5" text-anchor="middle" class="ft"><tspan font-style="italic">T</tspan>(mm)</text>
<text transform="translate(22.4,415.8) rotate(90) scale(1.13,1)" style="font-size:11.7px"><tspan font-style="italic">P</tspan><tspan style="font-size:8.4px" dy="3.2">2ave</tspan><tspan dy="-3.2">(MPa)</tspan></text>
<text x="-1" y="623" class="pl">(g)</text>
<g class="sf"><mask id="mg0" maskUnits="userSpaceOnUse" x="0" y="0" width="685" height="627"><path d="M82.4 516.6L105.0 511.0L125.0 500.0L138.0 489.0L148.0 478.0L157.0 465.0L166.0 450.0L177.0 432.0L190.0 418.0L205.0 409.0L217.0 406.3L221.2 407.0L231.3 408.9L240.2 408.7L249.7 407.4L259.2 406.4L268.7 406.4L278.2 408.3L288.6 411.7L280.1 405.5L272.5 396.9L264.9 388.4L257.3 378.9L249.7 370.4L242.1 363.7L234.5 359.0L226.9 356.1L219.3 354.8L211.7 356.7L206.1 360.9L201.3 368.5L196.6 377.0L192.0 385.0L188.4 393.1L184.0 404.8L178.2 420.6L169.5 431.0L163.5 439.6L156.9 449.1L150.2 458.7L145.8 465.0L142.3 470.0L135.3 480.0L130.5 487.4L125.0 496.6L118.2 502.0L110.9 506.4L102.1 510.1L91.9 513.7Z" fill="#fff"/></mask>
<g mask="url(#mg0)">
<path d="M101.4 508.2L80.7 515.5L80.4 517.0L82.5 518.6L105.6 512.9L126.3 501.5L139.3 490.5L149.6 479.1L158.7 466.0L178.6 433.2L191.3 419.6L205.8 410.9L217.1 408.3L231.3 410.9L240.5 410.7L259.3 408.4L268.5 408.4L277.7 410.2L288.6 413.7L290.2 412.9L290.4 410.8L281.5 404.0L251.2 369.1L243.3 362.1L235.4 357.2L227.4 354.2L219.2 352.8L210.8 354.9L204.5 359.7L190.3 384.0L176.4 419.6L167.9 429.9L133.7 478.9L123.5 495.3L117.1 500.4L110.0 504.6Z" fill="#8700cd"/>
<path d="M87.4 513.0L86.8 514.3L87.4 514.6L91.9 513.4L92.4 513.6L93.4 515.9L105.8 512.8L126.1 501.6L139.3 490.5L149.6 479.1L158.6 466.1L178.6 433.2L191.3 419.6L205.8 410.9L217.1 408.3L231.3 410.9L240.5 410.7L259.3 408.4L268.5 408.4L277.7 410.2L288.6 413.7L290.2 412.9L290.6 412.0L290.4 410.8L281.5 404.0L266.4 387.1L258.9 377.7L251.2 369.1L243.3 362.1L235.4 357.2L227.4 354.2L219.2 352.8L210.8 354.9L204.5 359.7L199.5 367.5L190.3 384.0L186.5 392.4L176.4 419.6L167.9 429.9L133.7 478.9L123.5 495.3L117.1 500.4L110.0 504.6L101.4 508.2Z" fill="#7600d3"/>
<path d="M89.4 512.7L104.4 508.9L104.9 509.3L106.3 512.6L126.1 501.6L139.3 490.5L149.6 479.1L158.6 466.1L178.6 433.2L191.3 419.6L205.8 410.9L217.1 408.3L231.3 410.9L240.5 410.7L259.3 408.4L268.5 408.4L277.7 410.2L288.6 413.7L290.2 412.9L290.6 412.0L290.4 410.8L281.5 404.0L266.4 387.1L258.9 377.7L251.2 369.1L243.3 362.1L235.4 357.2L227.4 354.2L219.2 352.8L210.8 354.9L204.5 359.7L199.5 367.5L190.3 384.0L186.5 392.4L176.4 419.6L167.9 429.9L133.7 478.9L123.5 495.3L117.1 500.4L110.0 504.6L101.4 508.2L89.1 512.5Z" fill="#6500da"/>
<path d="M101.2 508.3L104.4 507.6L105.1 507.8L107.0 512.2L126.1 501.6L139.3 490.5L149.6 479.1L158.6 466.1L178.6 433.2L191.3 419.6L205.8 410.9L217.1 408.3L231.3 410.9L240.5 410.7L259.3 408.4L268.5 408.4L277.7 410.2L288.6 413.7L290.2 412.9L290.6 412.0L290.4 410.8L281.5 404.0L266.4 387.1L258.9 377.7L251.2 369.1L243.3 362.1L235.4 357.2L227.4 354.2L219.2 352.8L210.8 354.9L204.5 359.7L199.5 367.5L190.3 384.0L186.5 392.4L176.4 419.6L167.9 429.9L133.7 478.9L123.5 495.3L117.1 500.4L110.0 504.6Z" fill="#5400e0"/>
<path d="M107.6 505.6L113.9 504.8L115.6 507.5L126.1 501.6L139.5 490.3L149.6 479.1L158.6 466.1L178.6 433.2L191.3 419.6L205.8 410.9L217.1 408.3L231.3 410.9L240.5 410.7L259.3 408.4L268.5 408.4L277.7 410.2L288.6 413.7L290.2 412.9L290.6 412.0L290.4 410.8L281.5 404.0L266.4 387.1L258.9 377.7L251.2 369.1L243.3 362.1L235.4 357.2L227.4 354.2L219.2 352.8L210.8 354.9L204.5 359.7L199.5 367.5L190.3 384.0L186.5 392.4L176.4 419.6L167.9 429.9L133.7 478.9L123.5 495.3L117.1 500.4L110.0 504.6Z" fill="#4400e6"/>
<path d="M111.9 503.4L113.9 503.8L116.1 507.2L126.1 501.6L139.5 490.3L149.6 479.1L158.6 466.1L178.6 433.2L191.3 419.6L205.8 410.9L217.1 408.3L231.3 410.9L240.5 410.7L259.3 408.4L268.5 408.4L277.7 410.2L288.6 413.7L290.2 412.9L290.6 412.0L290.4 410.8L281.5 404.0L266.4 387.1L258.9 377.7L251.2 369.1L243.3 362.1L235.4 357.2L227.4 354.2L219.2 352.8L210.8 354.9L204.5 359.7L199.5 367.5L190.3 384.0L186.5 392.4L176.4 419.6L167.9 429.9L133.7 478.9L123.5 495.3L117.1 500.4Z" fill="#3300ec"/>
<path d="M114.9 501.7L115.5 502.3L114.7 503.8L116.5 507.0L126.1 501.6L139.5 490.3L149.6 479.1L158.6 466.1L178.6 433.2L191.3 419.6L205.8 410.9L217.1 408.3L231.3 410.9L240.5 410.7L259.3 408.4L268.5 408.4L277.7 410.2L288.6 413.7L290.2 412.9L290.6 412.0L290.4 410.8L281.5 404.0L266.4 387.1L258.9 377.7L251.2 369.1L243.3 362.1L235.4 357.2L227.4 354.2L219.2 352.8L210.8 354.9L204.5 359.7L199.5 367.5L190.3 384.0L186.5 392.4L176.4 419.6L167.9 429.9L133.7 478.9L123.5 495.3Z" fill="#2200f2"/>
<path d="M117.4 500.1L119.4 501.2L121.9 500.3L122.4 500.5L124.2 502.7L126.3 501.5L139.5 490.3L149.6 479.1L158.6 466.1L178.6 433.2L191.3 419.6L205.8 410.9L217.1 408.3L231.3 410.9L240.5 410.7L259.3 408.4L268.5 408.4L277.7 410.2L288.6 413.7L290.2 412.9L290.6 412.0L290.4 410.8L281.5 404.0L266.4 387.1L258.9 377.7L251.2 369.1L243.3 362.1L235.4 357.2L227.4 354.2L219.2 352.8L210.8 354.9L204.5 359.7L199.5 367.5L190.3 384.0L186.5 392.4L176.4 419.6L167.9 429.9L133.7 478.9L123.5 495.3Z" fill="#1100f9"/>
<path d="M119.7 498.3L120.9 499.3L122.4 499.3L124.9 502.3L126.3 501.5L139.5 490.3L149.6 479.1L158.6 466.1L178.6 433.2L191.3 419.6L205.8 410.9L217.1 408.3L231.3 410.9L240.5 410.7L259.3 408.4L268.5 408.4L277.7 410.2L288.6 413.7L290.2 412.9L290.6 412.0L290.4 410.8L281.5 404.0L266.4 387.1L258.9 377.7L251.2 369.1L243.3 362.1L235.4 357.2L227.4 354.2L219.2 352.8L210.8 354.9L204.5 359.7L199.5 367.5L190.3 384.0L186.5 392.4L176.4 419.6L167.9 429.9L133.7 478.9L123.5 495.3Z" fill="#0000ff"/>
<path d="M121.9 496.5L122.9 497.8L123.8 498.3L123.3 499.3L125.3 502.1L139.5 490.3L149.6 479.1L158.6 466.1L178.6 433.2L191.3 419.6L205.8 410.9L217.1 408.3L231.3 410.9L240.5 410.7L259.3 408.4L268.5 408.4L277.7 410.2L288.6 413.7L290.2 412.9L290.6 412.0L290.4 410.8L281.5 404.0L266.4 387.1L258.9 377.7L251.2 369.1L243.3 362.1L235.4 357.2L227.4 354.2L219.2 352.8L210.8 354.9L204.5 359.7L199.5 367.5L190.3 384.0L186.5 392.4L176.4 419.6L167.9 429.9L133.7 478.9L123.5 495.3Z" fill="#0020ff"/>
<path d="M123.9 494.5L125.4 496.5L127.3 496.8L127.2 497.3L125.9 498.7L124.7 499.3L124.5 499.8L125.9 501.8L139.5 490.3L149.6 479.1L158.6 466.1L178.6 433.2L191.3 419.6L205.8 410.9L217.1 408.3L231.3 410.9L240.5 410.7L259.3 408.4L268.5 408.4L277.7 410.2L288.6 413.7L290.2 412.9L290.6 412.0L290.4 410.8L281.5 404.0L266.4 387.1L258.9 377.7L251.2 369.1L243.3 362.1L235.4 357.2L227.4 354.2L219.2 352.8L210.8 354.9L204.5 359.7L199.5 367.5L190.3 384.0L186.5 392.4L176.4 419.6L167.9 429.9L133.7 478.9Z" fill="#0040ff"/>
<path d="M125.4 492.0L126.8 493.3L127.4 494.9L128.7 495.8L128.2 496.8L128.6 499.6L139.5 490.3L149.6 479.1L158.6 466.1L178.6 433.2L191.3 419.6L205.8 410.9L217.1 408.3L231.3 410.9L240.5 410.7L259.3 408.4L268.5 408.4L277.7 410.2L288.6 413.7L290.2 412.9L290.6 412.0L290.4 410.8L281.5 404.0L266.4 387.1L258.9 377.7L251.2 369.1L243.3 362.1L235.4 357.2L227.4 354.2L219.2 352.8L210.8 354.9L204.5 359.7L199.5 367.5L190.3 384.0L186.5 392.4L176.4 419.6L167.9 429.9L133.7 478.9Z" fill="#0060ff"/>
<path d="M126.9 489.5L128.9 491.1L129.8 493.8L134.5 492.8L134.0 493.8L128.9 496.7L129.1 499.1L139.5 490.3L149.6 479.1L158.7 466.0L178.6 433.2L191.3 419.6L205.8 410.9L217.1 408.3L231.3 410.9L240.5 410.7L259.3 408.4L268.5 408.4L277.7 410.2L288.6 413.7L290.2 412.9L290.6 412.0L290.4 410.8L281.5 404.0L266.4 387.1L258.9 377.7L251.2 369.1L243.3 362.1L235.4 357.2L227.4 354.2L219.2 352.8L210.8 354.9L204.5 359.7L199.5 367.5L190.3 384.0L186.5 392.4L176.4 419.6L167.9 429.9L133.7 478.9Z" fill="#0080ff"/>
<path d="M128.4 487.3L130.9 488.7L131.5 492.3L131.9 492.8L135.4 491.8L136.1 493.2L139.5 490.3L149.6 479.1L158.6 466.1L178.6 433.2L191.3 419.6L205.8 410.9L217.1 408.3L231.3 410.9L240.5 410.7L259.3 408.4L268.5 408.4L277.7 410.2L288.6 413.7L290.2 412.9L290.6 412.0L290.4 410.8L281.5 404.0L266.4 387.1L258.9 377.7L251.2 369.1L243.3 362.1L235.4 357.2L227.4 354.2L219.2 352.8L210.8 354.9L204.5 359.7L199.5 367.5L190.3 384.0L186.5 392.4L176.4 419.6L167.9 429.9L133.7 478.9Z" fill="#009fff"/>
<path d="M129.5 485.3L132.2 486.3L133.1 491.8L137.4 490.7L136.3 491.8L136.4 493.0L139.5 490.3L149.6 479.1L158.6 466.1L178.6 433.2L191.3 419.6L205.8 410.9L217.1 408.3L231.3 410.9L240.5 410.7L259.3 408.4L268.5 408.4L277.7 410.2L288.6 413.7L290.2 412.9L290.6 412.0L290.4 410.8L281.5 404.0L266.4 387.1L258.9 377.7L251.2 369.1L243.3 362.1L235.4 357.2L227.4 354.2L219.2 352.8L210.8 354.9L204.5 359.7L199.5 367.5L190.3 384.0L186.5 392.4L176.4 419.6L167.9 429.9L133.7 478.9Z" fill="#00bfff"/>
<path d="M130.5 483.7L132.4 483.3L133.4 483.8L134.0 490.3L134.4 490.9L136.4 490.4L141.3 488.4L149.6 479.1L158.6 466.1L178.6 433.2L191.3 419.6L205.8 410.9L217.1 408.3L231.3 410.9L240.5 410.7L259.3 408.4L268.5 408.4L277.7 410.2L288.6 413.7L290.2 412.9L290.6 412.0L290.4 410.8L281.5 404.0L266.4 387.1L258.9 377.7L251.2 369.1L243.3 362.1L235.4 357.2L227.4 354.2L219.2 352.8L210.8 354.9L204.5 359.7L199.5 367.5L190.3 384.0L186.5 392.4L176.4 419.6L167.9 429.9ZM139.7 490.1L136.9 491.6L136.4 492.3L136.6 492.8Z" fill="#00dfff"/>
<path d="M131.4 482.4L133.9 481.4L134.7 481.8L135.6 489.8L136.9 489.7L142.0 487.6L149.6 479.1L158.6 466.1L178.6 433.2L191.3 419.6L205.8 410.9L217.1 408.3L231.3 410.9L240.5 410.7L259.3 408.4L268.5 408.4L277.7 410.2L288.6 413.7L290.2 412.9L290.6 412.0L290.4 410.8L281.5 404.0L266.4 387.1L258.9 377.7L251.2 369.1L243.3 362.1L235.4 357.2L227.4 354.2L219.2 352.8L210.8 354.9L204.5 359.7L199.5 367.5L190.3 384.0L186.5 392.4L176.4 419.6L167.9 429.9ZM139.1 490.7L137.0 491.8L136.8 492.7Z" fill="#00ffff"/>
<path d="M132.2 481.3L134.9 480.1L136.0 480.3L136.8 488.8L137.9 488.8L142.7 486.8L149.6 479.1L158.6 466.1L178.6 433.2L191.3 419.6L205.8 410.9L217.1 408.3L231.3 410.9L240.5 410.7L259.3 408.4L268.5 408.4L277.7 410.2L288.6 413.7L290.2 412.9L290.6 412.0L290.4 410.8L281.5 404.0L266.4 387.1L258.9 377.7L251.2 369.1L243.3 362.1L235.4 357.2L227.4 354.2L219.2 352.8L210.8 354.9L204.5 359.7L199.5 367.5L190.3 384.0L186.5 392.4L176.4 419.6L167.9 429.9ZM138.4 491.3L137.4 491.8L137.0 492.5Z" fill="#00ffdf"/>
<path d="M132.8 480.3L135.9 478.9L136.9 479.3L137.3 480.8L137.8 487.3L138.2 487.8L139.4 487.7L143.4 486.0L149.6 479.1L158.6 466.1L178.6 433.2L191.3 419.6L205.8 410.9L217.1 408.3L231.3 410.9L240.5 410.7L259.3 408.4L268.5 408.4L277.7 410.2L288.6 413.7L290.2 412.9L290.6 412.0L290.4 410.8L281.5 404.0L266.4 387.1L258.9 377.7L251.2 369.1L243.3 362.1L235.4 357.2L227.4 354.2L219.2 352.8L210.8 354.9L204.5 359.7L199.5 367.5L190.3 384.0L186.5 392.4L176.4 419.6L167.9 429.9Z" fill="#00ffbf"/>
<path d="M133.4 479.3L136.4 477.9L137.4 478.0L138.5 480.3L139.0 485.8L139.4 486.8L144.2 485.2L149.6 479.1L158.6 466.1L178.6 433.2L191.3 419.6L205.8 410.9L217.1 408.3L231.3 410.9L240.5 410.7L259.3 408.4L268.5 408.4L277.7 410.2L288.6 413.7L290.2 412.9L290.6 412.0L290.4 410.8L281.5 404.0L266.4 387.1L258.9 377.7L251.2 369.1L243.3 362.1L235.4 357.2L227.4 354.2L219.2 352.8L210.8 354.9L204.5 359.7L199.5 367.5L190.3 384.0L186.5 392.4L176.4 419.6L167.9 429.9Z" fill="#00ff9f"/>
<path d="M134.1 478.3L137.4 476.8L138.3 477.3L139.6 480.3L140.4 485.5L141.4 485.5L145.1 484.2L149.6 479.1L158.6 466.1L178.6 433.2L191.3 419.6L205.8 410.9L217.1 408.3L231.3 410.9L240.5 410.7L259.3 408.4L268.5 408.4L277.7 410.2L288.6 413.7L290.2 412.9L290.6 412.0L290.4 410.8L281.5 404.0L266.4 387.1L258.9 377.7L251.2 369.1L243.3 362.1L235.4 357.2L227.4 354.2L219.2 352.8L210.8 354.9L204.5 359.7L199.5 367.5L190.3 384.0L186.5 392.4L176.4 419.6L167.9 429.9Z" fill="#00ff80"/>
<path d="M134.9 477.2L137.9 475.8L138.9 476.2L140.7 479.8L141.4 484.1L142.4 484.2L146.2 482.9L149.6 479.1L158.6 466.1L178.6 433.2L191.3 419.6L205.8 410.9L217.1 408.3L231.3 410.9L240.5 410.7L259.3 408.4L268.5 408.4L277.7 410.2L288.6 413.7L290.2 412.9L290.5 411.0L289.8 410.1L281.5 404.0L266.4 387.1L258.9 377.7L251.2 369.1L243.3 362.1L235.4 357.2L227.4 354.2L219.2 352.8L210.8 354.9L204.5 359.7L199.5 367.5L190.3 384.0L186.5 392.4L176.4 419.6L167.9 429.9Z" fill="#00ff60"/>
<path d="M135.6 476.0L138.4 474.9L139.4 474.9L141.9 479.8L142.5 482.8L143.4 482.9L147.5 481.5L149.6 479.1L158.7 466.0L178.6 433.2L191.3 419.6L205.8 410.9L217.1 408.3L231.3 410.9L240.5 410.7L259.3 408.4L268.5 408.4L277.7 410.2L288.6 413.7L290.2 412.9L290.5 411.0L289.8 410.1L281.5 404.0L266.4 387.1L258.9 377.7L251.2 369.1L243.3 362.1L235.4 357.2L227.4 354.2L219.2 352.8L210.8 354.9L204.5 359.7L199.5 367.5L190.3 384.0L186.5 392.4L176.4 419.6L167.9 429.9Z" fill="#00ff40"/>
<path d="M136.9 474.5L139.9 473.8L142.9 479.3L143.4 481.3L143.9 481.6L148.8 480.1L158.7 466.0L178.6 433.2L191.3 419.6L205.8 410.9L217.1 408.3L231.3 410.9L240.5 410.7L259.3 408.4L268.5 408.4L277.7 410.2L288.6 413.7L290.2 412.9L290.5 411.0L289.8 410.1L281.5 404.0L266.4 387.1L258.9 377.7L251.2 369.1L243.3 362.1L235.4 357.2L227.4 354.2L219.2 352.8L211.0 354.8L204.5 359.7L199.5 367.5L190.3 384.0L186.5 392.4L176.4 419.6L167.9 429.9Z" fill="#00ff20"/>
<path d="M138.5 472.3L138.9 472.7L140.4 472.7L140.9 473.0L144.9 480.3L149.9 478.8L158.7 466.0L178.6 433.2L191.3 419.6L205.8 410.9L217.1 408.3L231.3 410.9L240.5 410.7L259.3 408.4L268.5 408.4L277.7 410.2L288.6 413.7L290.2 412.9L290.5 411.0L289.8 410.1L281.5 404.0L266.4 387.1L258.9 377.7L251.2 369.1L243.3 362.1L235.4 357.2L227.4 354.2L219.2 352.8L211.0 354.8L204.5 359.7L199.5 367.5L190.3 384.0L186.5 392.4L176.4 419.6L167.9 429.9Z" fill="#00ff00"/>
<path d="M140.8 468.8L140.9 470.8L144.4 475.5L147.9 477.7L150.9 477.3L158.7 466.0L178.6 433.2L191.3 419.6L205.8 410.9L217.1 408.3L231.3 410.9L240.5 410.7L259.3 408.4L268.5 408.4L277.7 410.2L288.6 413.7L290.2 412.9L290.5 411.0L289.8 410.1L281.5 404.0L266.4 387.1L258.9 377.7L251.2 369.1L243.3 362.1L235.4 357.2L227.4 354.2L219.2 352.8L211.0 354.8L204.5 359.7L199.5 367.5L190.3 384.0L186.5 392.4L176.4 419.6L167.9 429.9Z" fill="#20ff00"/>
<path d="M143.7 464.8L143.1 466.8L143.4 468.4L149.2 470.8L153.7 473.3L158.7 466.0L178.6 433.2L191.3 419.6L205.8 410.9L217.1 408.3L231.3 410.9L240.5 410.7L259.3 408.4L268.5 408.4L277.7 410.2L288.6 413.7L290.2 412.9L290.5 411.0L289.8 410.1L281.5 404.0L266.4 387.1L258.9 377.7L251.2 369.1L243.3 362.1L235.4 357.2L227.4 354.2L219.2 352.8L211.0 354.8L204.5 359.7L199.5 367.5L190.3 384.0L186.5 392.4L176.4 419.6L167.9 429.9Z" fill="#40ff00"/>
<path d="M147.1 459.8L145.9 463.3L146.0 464.8L152.9 467.5L157.4 468.0L178.6 433.2L191.3 419.6L205.8 410.9L217.1 408.3L231.3 410.9L240.5 410.7L259.3 408.4L268.5 408.4L277.7 410.2L288.6 413.7L290.2 412.9L290.5 411.0L289.8 410.1L281.5 404.0L266.4 387.1L258.9 377.7L251.2 369.1L243.3 362.1L235.4 357.2L227.4 354.2L219.2 352.8L211.0 354.8L204.5 359.7L199.5 367.5L190.3 384.0L186.5 392.4L176.4 419.6L167.9 429.9Z" fill="#60ff00"/>
<path d="M150.3 455.3L148.9 459.3L148.9 460.9L155.9 464.0L159.8 464.2L178.6 433.2L191.3 419.6L205.8 410.9L217.1 408.3L231.3 410.9L240.5 410.7L259.3 408.4L268.5 408.4L277.7 410.2L288.4 413.7L290.1 413.0L290.5 411.2L289.8 410.1L281.5 404.0L266.4 387.1L258.9 377.7L251.2 369.1L243.3 362.1L235.4 357.2L227.4 354.2L219.2 352.8L211.0 354.8L204.5 359.7L199.5 367.5L190.3 384.0L186.5 392.4L176.4 419.6L167.9 429.9Z" fill="#80ff00"/>
<path d="M153.3 450.8L152.1 455.3L152.4 456.9L157.0 460.8L161.7 461.1L178.6 433.2L191.3 419.6L205.8 410.9L217.1 408.3L231.3 410.9L240.5 410.7L259.3 408.4L268.5 408.4L277.7 410.2L288.4 413.7L290.1 413.0L290.5 411.2L289.8 410.1L281.5 404.0L266.4 387.1L258.9 377.7L251.2 369.1L243.3 362.1L235.4 357.2L227.4 354.2L219.2 352.8L211.2 354.8L204.5 359.7L199.5 367.5L190.3 384.0L186.5 392.4L176.4 419.6L167.9 429.9Z" fill="#9fff00"/>
<path d="M156.2 446.8L155.4 450.8L158.0 457.3L158.9 457.9L163.4 458.2L178.6 433.2L191.3 419.6L205.8 410.9L217.1 408.3L231.3 410.9L240.5 410.7L259.3 408.4L268.5 408.4L277.7 410.2L288.4 413.7L290.1 413.0L290.5 411.2L289.8 410.1L281.5 404.0L266.4 387.1L258.9 377.7L251.2 369.1L243.3 362.1L235.4 357.2L227.4 354.2L219.2 352.8L211.2 354.8L204.6 359.5L199.6 367.4L190.3 384.0L186.6 392.3L176.4 419.6L167.9 429.9Z" fill="#bfff00"/>
<path d="M159.0 442.8L157.5 448.8L159.0 453.8L159.9 454.7L165.2 455.1L178.6 433.2L191.3 419.6L205.8 410.9L217.1 408.3L231.3 410.9L240.5 410.7L259.3 408.4L268.5 408.4L277.7 410.2L288.4 413.7L290.1 413.0L290.5 411.2L289.8 410.1L281.5 404.0L266.4 387.1L258.9 377.7L251.2 369.1L243.4 362.2L235.4 357.2L227.6 354.2L218.8 352.9L210.8 354.9L204.4 359.8L199.5 367.5L190.2 384.2L186.5 392.4L176.4 419.6L167.9 429.9Z" fill="#dfff00"/>
<path d="M162.0 438.3L159.7 445.3L160.0 450.3L160.9 451.5L167.1 452.1L178.6 433.2L191.3 419.6L205.8 410.9L217.1 408.3L231.3 410.9L240.5 410.7L259.3 408.4L268.5 408.4L277.7 410.2L288.6 413.7L290.1 413.0L290.6 411.4L289.9 410.2L281.5 404.0L266.4 387.1L258.9 377.7L251.2 369.1L243.4 362.2L235.4 357.2L227.6 354.2L218.8 352.9L210.8 354.9L204.4 359.8L199.5 367.5L190.2 384.2L186.5 392.4L176.4 419.6L168.0 429.7Z" fill="#ffff00"/>
<path d="M164.8 434.3L161.9 441.8L162.0 446.8L162.4 447.7L163.4 448.4L169.0 449.0L178.6 433.2L191.3 419.6L205.8 410.9L217.1 408.3L231.3 410.9L240.5 410.7L259.3 408.4L268.5 408.4L277.7 410.2L288.6 413.7L290.1 413.0L290.6 411.4L289.9 410.2L281.5 404.0L266.4 387.1L258.9 377.7L251.2 369.1L243.4 362.2L235.2 357.1L227.4 354.2L219.0 352.8L210.8 354.9L204.4 359.8L199.5 367.5L190.2 384.2L186.5 392.4L176.4 419.6L168.0 429.7Z" fill="#ffef00"/>
<path d="M167.6 430.3L164.3 438.3L163.9 440.3L164.0 442.3L164.4 443.2L165.9 443.6L167.4 445.3L170.8 445.9L178.6 433.2L191.3 419.6L205.8 410.9L217.1 408.3L231.3 410.9L240.5 410.7L259.3 408.4L268.5 408.4L277.7 410.2L288.4 413.7L290.1 413.0L290.6 411.4L289.9 410.2L281.5 404.0L266.4 387.1L258.9 377.7L251.2 369.1L243.4 362.2L235.2 357.1L227.4 354.2L219.0 352.8L210.8 354.9L204.4 359.8L199.5 367.5L190.2 384.2L186.5 392.4L176.4 419.6Z" fill="#ffdf00"/>
<path d="M169.7 427.8L166.5 435.3L166.3 438.3L166.9 438.9L167.9 438.6L168.7 438.8L171.7 442.3L172.7 442.8L178.6 433.2L191.3 419.6L205.8 410.9L217.1 408.3L231.3 410.9L240.5 410.7L259.3 408.4L268.5 408.4L277.7 410.2L288.4 413.7L290.1 413.0L290.6 411.4L289.9 410.2L281.5 404.0L266.4 387.1L258.9 377.7L251.2 369.1L243.4 362.2L235.2 357.1L227.4 354.2L219.0 352.8L210.8 354.9L204.4 359.8L199.5 367.5L190.2 384.2L186.5 392.4L176.4 419.6ZM177.3 420.8L178.4 418.2L181.4 413.5L183.9 410.8L184.9 410.7L185.6 411.3L185.5 412.3L179.4 419.3L177.9 420.7Z" fill="#ffcf00"/>
<path d="M171.7 425.3L168.9 431.8L168.8 433.3L169.4 433.8L171.4 433.9L175.4 438.5L178.6 433.2L191.3 419.6L205.8 410.9L217.1 408.3L231.3 410.9L240.5 410.7L259.3 408.4L268.5 408.4L277.7 410.2L288.4 413.7L290.1 413.0L290.6 411.4L289.9 410.2L281.5 404.0L266.4 387.1L258.9 377.7L251.2 369.1L243.4 362.2L235.2 357.1L227.4 354.2L219.0 352.8L210.8 354.9L204.4 359.8L199.5 367.5L190.2 384.2L186.5 392.4L176.4 419.6ZM173.3 427.8L172.9 427.8L172.7 427.3L173.3 425.8L178.9 416.3L182.9 410.3L184.4 408.7L185.4 408.5L186.5 409.8L188.3 410.8L188.3 411.3L175.9 425.8Z" fill="#ffc000"/>
<path d="M176.9 418.4L182.9 409.2L185.4 406.3L186.0 406.3L187.9 408.8L190.6 409.8L191.0 410.3L175.2 429.3L175.3 430.3L178.2 433.8L191.3 419.6L205.8 410.9L217.1 408.3L231.3 410.9L240.5 410.7L259.3 408.4L268.5 408.4L277.7 410.2L288.6 413.7L290.1 413.0L290.6 411.6L289.9 410.2L281.5 404.0L266.4 387.1L258.9 377.7L251.2 369.1L243.4 362.2L235.2 357.1L227.4 354.2L219.2 352.8L210.8 354.9L204.4 359.8L199.5 367.5L190.2 384.2L186.5 392.4Z" fill="#ffb000"/>
<path d="M181.1 406.8L179.7 411.8L179.6 412.3L179.9 412.4L184.9 405.3L186.4 404.0L188.9 407.5L192.9 409.0L193.6 409.8L179.7 426.3L179.3 427.3L181.8 429.8L191.3 419.6L205.8 410.9L217.1 408.3L231.3 410.9L240.5 410.7L259.3 408.4L268.5 408.4L277.7 410.2L288.4 413.7L289.8 413.3L290.6 411.8L289.9 410.2L281.5 404.0L266.4 387.1L258.9 377.7L251.2 369.1L243.4 362.2L235.2 357.1L227.4 354.2L219.4 352.8L210.8 354.9L204.5 359.7L199.5 367.5L190.2 384.2L186.5 392.4Z" fill="#ffa000"/>
<path d="M183.1 401.5L183.9 402.8L183.6 404.8L183.9 405.1L186.9 401.9L187.6 402.3L190.4 406.6L196.2 408.8L195.8 409.8L183.8 423.8L183.4 424.8L185.3 426.0L191.3 419.6L205.8 410.9L217.1 408.3L231.3 410.9L240.5 410.7L259.3 408.4L268.5 408.4L277.7 410.2L288.4 413.7L289.8 413.3L290.6 412.0L289.9 410.2L281.5 404.0L266.4 387.1L258.9 377.7L251.2 369.1L243.4 362.2L235.2 357.1L227.4 354.2L219.4 352.8L210.8 354.9L204.5 359.7L199.5 367.5L190.2 384.2L186.5 392.4Z" fill="#ff9000"/>
<path d="M184.6 397.5L186.5 399.3L187.9 399.7L191.4 405.4L198.4 407.8L198.8 408.3L188.0 421.3L187.5 422.3L188.2 422.9L191.3 419.6L205.8 410.9L217.1 408.3L231.3 410.9L240.5 410.7L259.3 408.4L268.5 408.4L277.7 410.2L288.4 413.7L289.8 413.3L290.6 412.0L289.9 410.2L281.5 404.0L266.4 387.1L258.9 377.7L251.2 369.1L243.4 362.2L235.2 357.1L227.4 354.2L219.6 352.8L210.8 354.9L204.5 359.7L199.5 367.5L190.3 384.0L186.5 392.4Z" fill="#ff8000"/>
<path d="M186.1 393.6L188.4 395.8L188.9 398.3L192.6 404.3L201.4 407.3L201.1 408.3L191.9 419.2L205.8 410.9L217.1 408.3L231.3 410.9L240.5 410.7L259.3 408.4L268.5 408.4L277.7 410.2L288.4 413.7L289.8 413.3L290.6 412.0L289.9 410.2L281.5 404.0L266.4 387.1L258.8 377.6L251.0 368.9L243.2 362.0L235.4 357.2L227.2 354.1L218.8 352.9L210.8 354.9L204.8 359.4L199.5 367.5L190.3 384.0L186.5 392.4Z" fill="#ff7000"/>
<path d="M187.8 389.8L190.4 392.4L190.5 393.8L189.8 397.3L193.4 403.0L194.4 403.6L203.4 406.3L204.1 406.8L196.0 416.7L205.8 410.9L217.1 408.3L231.3 410.9L240.5 410.7L259.3 408.4L268.5 408.4L277.7 410.2L288.4 413.7L289.8 413.3L290.5 412.2L290.5 411.2L289.9 410.2L281.5 404.0L266.4 387.1L258.8 377.6L251.0 368.9L243.2 362.0L235.4 357.2L227.2 354.1L218.8 352.9L210.8 354.9L204.8 359.4L199.5 367.5L190.3 384.0Z" fill="#ff6000"/>
<path d="M188.6 387.8L189.4 386.9L190.2 386.8L192.3 388.8L192.2 391.8L190.8 396.3L194.4 401.9L196.2 402.8L206.5 405.8L206.4 406.8L200.2 414.2L205.8 410.9L217.1 408.3L231.3 410.9L240.5 410.7L259.3 408.4L268.5 408.4L277.7 410.2L288.4 413.7L289.8 413.3L290.5 412.2L290.5 411.2L289.9 410.2L281.5 404.0L266.4 387.1L258.8 377.6L251.0 368.9L243.2 362.0L235.4 357.2L227.4 354.2L218.8 352.9L210.8 354.9L204.8 359.4L199.5 367.5L190.3 384.0Z" fill="#ff5000"/>
<path d="M281.9 411.6L283.9 411.2L284.6 410.8L284.6 410.3L285.9 409.9L285.1 408.3L266.4 387.1L258.9 377.7L251.2 369.1L243.2 362.0L235.4 357.2L227.4 354.2L218.8 352.9L210.8 354.9L204.8 359.4L199.5 367.5L189.2 386.4L191.4 384.2L192.4 383.7L194.2 385.3L194.3 386.8L193.7 390.3L191.8 395.8L195.4 400.8L197.4 401.8L209.3 405.3L208.9 406.3L204.3 411.8L205.8 410.9L217.1 408.3L231.3 410.9L240.5 410.7L259.3 408.4L268.5 408.4L277.7 410.2Z" fill="#ff4000"/>
<path d="M276.4 410.0L277.4 409.8L278.7 408.3L282.8 407.3L280.8 404.3L281.2 403.7L266.4 387.1L258.8 377.6L251.2 369.1L243.3 362.1L235.4 357.2L227.4 354.2L218.8 352.9L210.8 354.9L204.8 359.4L199.5 367.5L189.5 385.7L193.4 381.4L194.9 380.6L195.9 381.4L196.2 383.3L195.2 388.3L192.9 394.3L193.0 395.3L196.4 399.6L197.4 400.3L211.5 404.3L211.9 404.8L211.7 405.3L208.4 409.3L208.1 410.4L217.1 408.3L231.3 410.9L240.5 410.7L259.3 408.4L268.5 408.4Z" fill="#ff3000"/>
<path d="M269.9 408.5L280.0 405.3L280.1 403.8L281.0 403.5L266.4 387.1L258.8 377.6L251.0 368.9L243.2 362.0L235.4 357.2L227.4 354.2L218.8 352.9L210.8 354.9L204.9 359.3L199.5 367.5L189.8 385.1L194.9 379.1L196.9 377.5L197.8 377.8L198.1 379.8L196.6 387.3L194.0 393.3L193.9 394.3L197.4 398.5L198.4 399.2L214.4 403.8L214.2 404.8L212.3 407.3L212.1 407.8L212.9 408.4L214.8 408.8L217.1 408.3L231.3 410.9L240.5 410.7L259.3 408.4Z" fill="#ff2000"/>
<path d="M245.4 409.1L266.4 406.7L269.4 405.9L277.4 403.3L277.6 402.3L276.4 400.2L279.9 403.1L280.7 403.2L266.4 387.1L258.9 377.7L251.2 369.1L243.3 362.1L235.6 357.3L227.4 354.2L219.2 352.8L210.8 354.9L204.8 359.4L199.5 367.5L190.5 383.6L196.9 376.3L198.9 374.6L199.4 374.4L199.9 374.6L199.9 376.8L197.9 386.3L194.9 392.8L195.4 394.2L198.4 397.4L199.9 398.2L202.9 399.4L216.5 402.8L217.1 403.3L216.2 405.3L217.4 406.1L226.4 408.4Z" fill="#ff1000"/>
<path d="M249.9 406.2L263.4 405.2L275.1 401.3L275.4 400.8L274.8 399.8L269.4 393.3L268.9 392.2L280.1 402.5L266.4 387.1L258.9 377.7L251.2 369.1L243.3 362.1L235.6 357.3L227.4 354.2L219.2 352.8L210.8 354.9L204.6 359.5L199.5 367.5L191.3 382.2L196.4 376.0L200.9 371.7L201.4 371.5L201.9 371.7L199.2 385.8L195.9 392.3L196.4 393.3L199.4 396.3L204.0 398.3L218.4 401.9L219.6 402.3L220.9 403.5L227.4 405.0L231.4 405.6Z" fill="#ff0000"/>
<path d="M257.9 381.9L257.2 380.8L257.4 380.3L259.9 379.0L251.2 369.1L243.3 362.1L235.2 357.1L227.4 354.2L219.6 352.8L210.8 354.9L204.8 359.4L199.6 367.4L196.1 373.8L197.4 373.9L198.4 373.4L202.4 369.0L203.4 368.5L203.8 369.3L203.3 374.3L203.9 375.1L229.9 375.9L236.9 376.4L250.4 380.6L255.4 381.3L257.9 382.8Z" fill="#ee0000"/>
<path d="M242.9 367.8L241.1 365.3L239.3 363.8L240.0 362.8L242.2 361.4L235.4 357.2L227.4 354.2L219.0 352.8L210.8 354.9L206.5 358.1L210.1 360.8L209.3 362.8L209.4 363.3L209.9 363.5L222.9 363.8L237.9 365.7Z" fill="#dc0000"/>
<path d="M239.4 362.3L241.4 360.9L235.4 357.2L227.4 354.2L219.6 352.8L211.0 354.8L207.2 357.6L210.9 360.0L214.4 358.6L223.9 358.1L226.9 358.6L235.9 361.5L237.9 362.6Z" fill="#ca0000"/>
</g>
<mask id="mg1" maskUnits="userSpaceOnUse" x="0" y="0" width="685" height="627"><path d="M217.0 406.3L210.0 405.5L199.6 404.3L190.4 409.4L184.3 414.5L178.2 421.7L173.0 430.0L166.4 439.6L161.6 449.1L158.0 458.0L155.0 465.0L150.0 472.0L145.0 480.0L139.0 487.4L130.0 494.0L118.0 502.0L105.0 509.0L95.0 513.0L82.4 516.6L91.9 515.9L102.1 513.7L112.3 507.9L121.1 502.0L131.3 496.2L140.1 491.6L147.5 487.4L154.5 480.0L158.5 472.0L163.2 465.0L167.0 458.7L171.6 450.0L176.5 440.0L180.5 430.0L183.3 424.7L188.4 419.6L195.5 415.5L203.7 412.0L210.9 408.4Z" fill="#fff"/></mask>
<g mask="url(#mg1)">
<path d="M217.7 408.2L219.0 406.4L217.6 404.4L199.6 402.3L189.1 407.9L182.9 413.1L176.5 420.6L164.6 438.7L153.2 464.0L143.4 478.8L137.6 485.9L117.0 500.3L104.2 507.2L94.4 511.1L81.5 514.8L80.4 516.2L80.8 517.8L82.4 518.6L92.0 517.9L102.9 515.5L122.2 503.7L148.8 488.9L156.2 481.1L160.2 473.0L168.7 459.7L184.9 425.9L189.6 421.2L196.4 417.3Z" fill="#8700cd"/>
<path d="M87.5 513.3L87.1 514.3L87.9 514.5L101.9 510.6L111.7 505.8L114.9 504.6L132.0 495.8L132.9 495.7L134.1 497.0L148.8 488.9L156.2 481.1L160.2 473.0L168.7 459.7L178.3 440.9L182.3 430.8L184.9 425.9L189.6 421.2L196.4 417.3L204.5 413.8L211.7 410.2L218.0 408.0L218.9 406.8L218.6 405.1L217.2 404.3L199.4 402.3L189.1 407.9L182.9 413.1L176.5 420.6L164.6 438.7L159.7 448.4L153.2 464.0L148.3 470.9L143.4 478.8L137.6 485.9L128.9 492.4L117.0 500.3L104.2 507.2L94.4 511.1Z" fill="#7600d3"/>
<path d="M89.4 512.6L104.9 508.2L125.4 497.9L132.4 493.8L136.9 491.8L137.9 491.8L133.9 494.0L133.7 495.3L134.8 496.6L144.2 491.6L143.7 488.8L143.9 488.6L147.4 487.2L150.6 484.8L151.4 484.8L152.1 485.5L156.2 481.1L160.2 473.0L168.8 459.6L178.3 440.9L182.3 430.8L184.9 425.9L189.6 421.2L196.4 417.3L204.5 413.8L211.7 410.2L218.0 408.0L218.9 406.8L218.6 405.1L217.2 404.3L199.4 402.3L189.1 407.9L182.9 413.1L176.5 420.6L164.6 438.7L159.7 448.4L153.2 464.0L148.3 470.9L143.4 478.8L137.6 485.9L128.9 492.4L117.0 500.3L104.2 507.2L94.4 511.1ZM139.4 490.8L139.5 490.8L139.3 490.8ZM138.0 491.3L138.4 491.2L138.7 491.3L138.4 491.4Z" fill="#6500da"/>
<path d="M104.4 507.1L108.9 505.4L124.4 497.6L136.4 490.3L141.7 487.8L146.9 486.0L150.4 483.7L151.4 483.9L152.6 485.0L156.2 481.1L160.2 473.0L168.8 459.6L178.3 440.9L182.3 430.8L184.9 425.9L189.6 421.2L196.4 417.3L204.5 413.8L211.7 410.2L218.0 408.0L219.0 406.6L218.5 404.9L217.2 404.3L199.2 402.3L189.3 407.8L183.0 413.0L176.5 420.6L164.8 438.5L159.7 448.4L153.2 464.0L148.3 470.9L143.4 478.8L137.6 485.9L128.9 492.4L117.0 500.3ZM143.5 491.8L143.4 490.4L142.9 490.0L134.7 494.3L134.3 495.3L135.2 496.4Z" fill="#5400e0"/>
<path d="M111.4 503.3L128.4 494.7L139.9 487.2L146.9 484.8L154.4 480.1L156.9 477.7L158.0 477.5L160.2 473.0L168.7 459.7L173.4 450.9L178.3 440.9L182.3 430.8L184.9 425.9L189.6 421.2L196.4 417.3L204.5 413.8L211.7 410.2L218.0 408.0L219.0 406.6L218.5 404.9L217.2 404.3L199.2 402.3L189.3 407.8L182.9 413.1L176.5 420.6L164.8 438.5L159.7 448.4L153.2 464.0L148.3 470.9L143.4 478.8L137.6 485.9L128.9 492.4L117.0 500.3Z" fill="#4400e6"/>
<path d="M120.5 497.9L130.4 492.8L140.9 485.7L146.9 483.5L150.9 480.8L153.9 479.3L156.6 476.8L157.4 476.6L158.2 477.0L160.2 473.0L168.7 459.7L173.4 450.9L178.3 440.9L182.3 430.8L184.9 425.9L189.6 421.2L196.4 417.3L204.5 413.8L211.7 410.2L218.0 408.0L219.0 406.6L218.5 404.9L217.2 404.3L199.2 402.3L189.3 407.8L182.9 413.1L176.5 420.6L164.8 438.5L159.7 448.4L153.2 464.0L148.3 470.9L143.4 478.8L137.6 485.9Z" fill="#3300ec"/>
<path d="M125.6 494.5L132.4 490.9L141.9 484.3L146.4 482.6L149.9 480.3L153.5 478.8L156.9 475.3L157.4 475.3L158.4 476.6L160.2 473.0L168.7 459.7L173.4 450.9L178.3 440.9L182.3 430.8L184.9 425.9L189.6 421.2L196.4 417.3L204.5 413.8L211.7 410.2L218.0 408.0L219.0 406.6L218.5 404.9L217.2 404.3L199.2 402.3L189.3 407.8L182.9 413.1L176.5 420.6L164.8 438.5L159.7 448.4L153.2 464.0L148.3 470.9L143.4 478.8L137.6 485.9Z" fill="#2200f2"/>
<path d="M130.3 491.3L133.9 489.3L143.4 482.7L149.1 479.8L153.4 478.1L158.4 472.7L159.7 474.1L168.7 459.7L173.4 450.9L178.3 440.9L182.3 430.8L184.9 425.9L189.6 421.2L196.4 417.3L204.5 413.8L211.7 410.2L218.0 408.0L219.0 406.6L218.5 404.9L217.2 404.3L199.2 402.3L189.3 407.8L182.9 413.1L176.5 420.6L164.8 438.5L159.7 448.4L153.2 464.0L148.3 470.9L143.4 478.8L137.6 485.9Z" fill="#1100f9"/>
<path d="M134.0 488.6L144.4 481.3L147.2 479.8L153.4 477.4L157.1 472.8L159.4 470.9L159.9 470.6L160.4 471.3L161.4 471.3L168.7 459.7L173.4 450.9L178.3 440.9L182.3 430.8L184.9 425.9L189.6 421.2L196.4 417.3L204.5 413.8L211.7 410.2L218.0 408.0L219.0 406.6L218.5 404.9L217.2 404.3L199.2 402.3L189.3 407.8L182.9 413.1L176.5 420.6L164.6 438.7L159.7 448.4L153.2 464.0L148.3 470.9L143.4 478.8L137.6 485.9Z" fill="#0000ff"/>
<path d="M138.2 485.3L145.9 479.7L152.9 477.0L156.9 472.3L160.9 468.7L161.4 468.5L161.8 469.8L162.3 469.9L168.7 459.7L173.4 450.9L178.3 440.9L182.3 430.8L184.9 425.9L189.6 421.2L196.4 417.3L204.5 413.8L211.7 410.2L218.0 408.0L219.0 406.6L218.5 404.9L217.2 404.3L199.2 402.3L189.3 407.8L182.9 413.1L176.5 420.6L164.8 438.5L159.7 448.4L153.2 464.0L148.3 470.9L143.4 478.8Z" fill="#0020ff"/>
<path d="M139.1 484.2L146.4 478.8L152.8 476.3L156.1 472.3L158.2 470.8L162.4 466.5L163.0 466.8L163.2 468.7L168.7 459.7L173.4 450.9L178.3 440.9L182.3 430.8L184.9 425.9L189.6 421.2L196.4 417.3L204.5 413.8L211.7 410.2L218.0 408.0L219.0 406.6L218.5 404.9L217.2 404.3L199.2 402.3L189.3 407.8L182.9 413.1L176.5 420.6L164.8 438.5L159.7 448.4L153.2 464.0L148.3 470.9L143.4 478.8Z" fill="#0040ff"/>
<path d="M140.2 482.8L146.9 478.0L152.4 475.9L155.4 472.3L158.2 470.3L163.4 464.7L164.3 464.8L164.5 466.7L168.8 459.6L173.4 450.9L178.3 440.9L182.3 430.8L184.9 425.9L189.6 421.2L196.4 417.3L204.5 413.8L211.7 410.2L218.0 408.0L219.0 406.6L218.5 404.9L217.2 404.3L199.2 402.3L189.3 407.8L182.9 413.1L176.5 420.6L164.8 438.5L159.7 448.4L153.2 464.0L148.3 470.9L143.4 478.8Z" fill="#0060ff"/>
<path d="M141.1 481.6L147.4 477.2L152.1 475.3L154.7 472.3L157.9 470.2L163.4 464.1L165.4 463.1L165.8 464.6L173.4 450.9L178.3 440.9L182.3 430.8L184.9 425.9L189.6 421.2L196.4 417.3L204.5 413.8L211.7 410.2L218.0 408.0L219.0 406.6L218.5 404.9L217.2 404.3L199.2 402.3L189.3 407.8L182.9 413.1L176.5 420.6L164.8 438.5L159.7 448.4L153.2 464.0L148.3 470.9L143.4 478.8Z" fill="#0080ff"/>
<path d="M142.4 480.2L147.9 476.4L151.9 474.7L154.0 472.3L157.9 469.7L163.4 463.5L166.4 461.7L166.9 461.7L167.1 462.5L173.4 450.9L178.3 440.9L182.3 430.8L184.9 425.9L189.6 421.2L196.4 417.3L204.5 413.8L211.7 410.2L218.0 408.0L219.0 406.6L218.5 404.9L217.2 404.3L199.2 402.3L189.3 407.8L182.9 413.1L176.5 420.6L164.8 438.5L159.7 448.4L153.2 464.0Z" fill="#009fff"/>
<path d="M143.4 478.9L148.4 475.5L151.4 474.3L153.9 471.8L157.8 469.3L162.9 463.4L167.4 460.3L168.4 460.3L178.3 440.9L182.3 430.8L184.9 425.9L189.6 421.2L196.4 417.3L204.5 413.8L211.7 410.2L218.0 408.0L219.0 406.6L218.5 404.9L217.2 404.3L199.2 402.3L189.3 407.8L182.9 413.1L176.5 420.6L164.8 438.5L159.7 448.4L153.2 464.0L148.3 470.9Z" fill="#00bfff"/>
<path d="M144.0 477.8L151.0 473.8L153.2 471.8L157.3 469.3L162.4 463.4L169.3 458.6L178.3 440.9L182.3 430.8L184.9 425.9L189.6 421.2L196.4 417.3L204.5 413.8L211.7 410.2L218.0 408.0L219.0 406.6L218.5 404.9L217.2 404.3L199.2 402.3L189.3 407.8L182.9 413.1L176.5 420.6L164.8 438.5L159.7 448.4L153.2 464.0L148.4 470.8Z" fill="#00dfff"/>
<path d="M144.9 476.5L150.9 473.2L152.5 471.8L156.9 469.2L162.4 462.9L170.0 457.4L178.3 440.9L182.3 430.8L184.9 425.9L189.6 421.2L196.4 417.3L204.5 413.8L211.7 410.2L218.0 408.0L219.0 406.6L218.5 404.9L217.2 404.3L199.2 402.3L189.3 407.8L182.9 413.1L176.5 420.6L164.8 438.5L159.7 448.4L153.2 464.0Z" fill="#00ffff"/>
<path d="M145.6 475.2L156.9 468.8L161.9 462.8L170.5 456.4L178.3 440.9L182.3 430.8L184.9 425.9L189.6 421.2L196.4 417.3L204.5 413.8L211.7 410.2L218.0 408.0L219.0 406.6L218.5 404.9L217.2 404.3L199.2 402.3L189.3 407.8L182.9 413.1L176.5 420.6L164.8 438.5L159.7 448.4L153.2 464.0Z" fill="#00ffdf"/>
<path d="M146.4 474.1L156.9 468.4L161.9 462.3L170.9 455.5L178.3 440.9L182.3 430.8L184.9 425.9L189.6 421.2L196.4 417.3L204.5 413.8L211.7 410.2L218.0 408.0L219.0 406.6L218.5 404.9L217.2 404.3L199.2 402.3L189.3 407.8L182.9 413.1L176.5 420.6L164.8 438.5L159.7 448.4L153.2 464.0Z" fill="#00ffbf"/>
<path d="M147.0 473.1L156.4 468.3L161.4 462.3L171.4 454.7L178.3 440.9L182.3 430.8L184.9 425.9L189.6 421.2L196.4 417.3L204.5 413.8L211.7 410.2L218.0 408.0L219.0 406.6L218.5 404.9L217.2 404.3L199.2 402.3L189.3 407.8L182.9 413.1L176.5 420.6L164.8 438.5L159.7 448.4L153.2 464.0Z" fill="#00ff9f"/>
<path d="M147.6 472.1L152.9 469.8L156.4 467.9L161.4 461.8L171.8 453.9L178.3 440.9L182.3 430.8L184.9 425.9L189.6 421.2L196.4 417.3L204.5 413.8L211.7 410.2L218.0 408.0L219.0 406.6L218.5 404.9L217.2 404.3L199.2 402.3L189.3 407.8L182.9 413.1L176.5 420.6L164.8 438.5L159.7 448.4L153.2 464.0Z" fill="#00ff80"/>
<path d="M148.4 471.0L150.9 469.8L152.9 469.4L156.4 467.4L160.9 461.7L164.9 458.8L168.9 455.1L172.3 453.0L178.3 440.9L182.3 430.8L184.9 425.9L189.6 421.2L196.4 417.3L204.5 413.8L211.7 410.2L218.0 408.0L219.0 406.6L218.5 404.9L217.2 404.3L199.2 402.3L189.3 407.8L182.9 413.1L176.5 420.6L164.8 438.5L159.7 448.4L153.2 464.0Z" fill="#00ff60"/>
<path d="M149.0 470.0L151.9 468.7L153.4 468.7L156.4 467.0L160.9 461.2L164.4 458.7L169.4 453.9L172.8 452.0L178.3 440.9L182.3 430.8L184.9 425.9L189.6 421.2L196.4 417.3L204.5 413.8L211.7 410.2L218.0 408.0L219.0 406.6L218.5 404.9L217.2 404.3L199.2 402.3L189.3 407.8L182.9 413.1L176.5 420.6L164.6 438.7L159.7 448.4L153.2 464.0Z" fill="#00ff40"/>
<path d="M149.9 468.8L152.4 467.8L153.9 468.0L156.1 466.8L160.8 460.8L164.2 458.3L169.9 452.7L173.4 450.8L178.3 440.9L182.3 430.8L184.9 425.9L189.6 421.2L196.4 417.3L204.5 413.8L211.7 410.2L218.0 408.0L219.0 406.6L218.5 404.9L217.2 404.3L199.2 402.3L189.3 407.8L182.9 413.1L176.5 420.6L164.6 438.7L159.7 448.4L153.2 464.0Z" fill="#00ff20"/>
<path d="M150.6 467.8L152.9 466.8L153.9 467.4L155.9 466.5L160.4 460.7L163.5 458.3L170.4 451.5L174.0 449.6L178.4 440.7L182.3 430.8L184.9 425.9L189.6 421.2L196.4 417.3L204.5 413.8L211.7 410.2L218.0 408.0L219.0 406.6L218.5 404.9L217.2 404.3L199.2 402.3L189.3 407.8L182.9 413.1L176.5 420.6L164.6 438.7L159.7 448.4L153.2 464.0Z" fill="#00ff00"/>
<path d="M151.4 466.7L153.4 465.9L154.4 466.7L155.9 466.1L160.2 460.3L162.9 458.3L165.4 455.4L171.9 449.4L174.7 448.2L178.4 440.7L182.3 430.8L184.9 425.9L189.6 421.2L196.4 417.3L204.5 413.8L211.7 410.2L218.0 408.0L219.0 406.6L218.5 404.9L217.2 404.3L199.2 402.3L189.3 407.8L182.9 413.1L176.5 420.6L164.6 438.7L159.7 448.4L153.2 464.0Z" fill="#20ff00"/>
<path d="M152.0 465.7L153.9 464.9L154.9 466.0L155.9 465.6L159.9 460.1L162.4 458.1L165.3 454.8L170.6 449.8L172.9 447.0L173.9 446.3L174.4 446.8L175.4 446.8L178.4 440.7L182.3 430.8L184.9 425.9L189.6 421.2L196.4 417.3L204.5 413.8L211.7 410.2L218.0 408.0L219.0 406.6L218.5 404.9L217.2 404.3L199.2 402.3L189.3 407.8L182.9 413.1L176.5 420.6L164.6 438.7L159.8 448.2L153.2 464.0Z" fill="#40ff00"/>
<path d="M152.9 464.6L154.4 463.9L154.9 464.0L155.4 465.2L155.9 465.0L159.7 459.8L161.9 458.0L164.9 454.5L169.9 449.8L174.4 443.9L175.4 443.2L176.3 445.0L182.3 430.8L184.9 425.9L189.6 421.2L196.4 417.3L204.5 413.8L211.7 410.2L218.0 408.0L219.0 406.6L218.5 404.9L217.2 404.3L199.2 402.3L189.3 407.8L183.0 413.0L176.5 420.6L164.6 438.7L159.7 448.4Z" fill="#60ff00"/>
<path d="M153.4 463.6L155.4 463.0L155.9 463.8L156.4 463.6L159.4 459.6L169.5 449.3L176.4 440.3L177.1 440.3L177.6 442.2L182.3 430.8L184.9 425.9L189.6 421.2L196.4 417.3L204.5 413.8L211.7 410.2L218.0 408.0L219.0 406.6L218.5 404.9L217.2 404.3L199.2 402.3L189.3 407.8L183.0 413.0L176.5 420.6L164.6 438.7L159.7 448.4Z" fill="#80ff00"/>
<path d="M153.9 462.7L155.4 462.0L156.9 462.2L157.4 461.7L164.2 453.8L168.8 449.3L177.9 437.1L178.6 437.3L179.1 438.9L182.3 430.8L184.9 425.9L189.6 421.2L196.4 417.3L204.5 413.8L211.7 410.2L218.0 408.0L219.0 406.6L218.5 404.9L217.2 404.3L199.2 402.3L189.3 407.8L183.0 413.0L176.5 420.6L164.6 438.7L159.7 448.4Z" fill="#9fff00"/>
<path d="M154.4 461.7L157.4 460.7L163.9 453.4L167.6 449.8L178.2 435.3L179.9 434.7L180.4 435.5L182.3 430.8L184.9 425.9L189.6 421.2L196.4 417.3L204.5 413.8L211.7 410.2L218.0 408.0L219.0 406.6L218.5 404.9L217.2 404.3L199.2 402.3L189.3 407.8L183.0 413.0L176.5 420.6L164.6 438.7L159.7 448.4Z" fill="#bfff00"/>
<path d="M154.9 460.5L157.9 459.4L166.9 449.8L175.3 438.8L177.5 435.3L179.4 433.9L181.4 433.1L184.9 425.9L189.6 421.2L196.4 417.3L204.5 413.8L211.7 410.2L218.0 408.0L219.0 406.6L218.5 404.9L217.2 404.3L199.2 402.3L189.3 407.8L183.0 413.0L176.5 420.6L164.6 438.7L159.7 448.4Z" fill="#dfff00"/>
<path d="M155.4 459.1L157.9 458.5L159.4 457.2L168.9 446.4L174.9 438.5L176.9 435.3L181.8 432.1L184.9 425.9L189.6 421.2L196.4 417.3L204.5 413.8L211.7 410.2L218.0 408.0L219.0 406.6L218.5 404.9L217.2 404.3L199.2 402.3L189.3 407.8L183.0 413.0L176.5 420.6L164.8 438.5L159.7 448.4Z" fill="#ffff00"/>
<path d="M157.4 457.3L159.4 456.3L165.8 449.3L174.5 438.3L176.8 434.8L182.1 431.4L184.9 425.9L189.6 421.2L196.4 417.3L204.5 413.8L211.7 410.2L218.0 408.0L218.9 406.8L218.6 405.1L217.2 404.3L199.2 402.3L189.3 407.8L183.0 413.0L176.5 420.6L164.6 438.7L159.8 448.2L156.1 457.4Z" fill="#ffef00"/>
<path d="M156.9 455.7L158.9 455.5L160.4 454.4L168.3 445.3L174.2 437.8L175.8 435.3L182.3 430.8L184.9 425.9L189.6 421.2L196.4 417.3L204.5 413.8L211.7 410.2L218.0 408.0L218.9 406.8L218.6 405.1L217.2 404.3L199.4 402.3L189.1 407.9L182.9 413.1L176.5 420.6L164.6 438.7L159.7 448.4Z" fill="#ffdf00"/>
<path d="M159.7 453.8L160.9 453.0L164.3 449.3L175.7 434.8L182.7 430.2L184.9 425.9L189.6 421.2L196.4 417.3L204.5 413.8L211.7 410.2L218.0 408.0L218.9 406.8L218.6 405.1L217.2 404.3L199.4 402.3L189.1 407.9L182.9 413.1L176.7 420.4L164.8 438.5L159.8 448.2L157.4 454.0Z" fill="#ffcf00"/>
<path d="M158.4 452.1L160.4 452.1L161.9 451.0L175.1 434.8L183.0 429.6L184.9 425.9L189.6 421.2L196.4 417.3L204.5 413.8L211.7 410.2L218.0 408.0L218.9 406.8L218.6 405.1L217.2 404.3L199.4 402.3L189.1 407.9L182.9 413.1L176.5 420.6L164.6 438.7L159.8 448.2Z" fill="#ffc000"/>
<path d="M159.1 450.0L160.9 450.4L162.4 449.6L174.5 434.8L183.3 429.0L184.9 425.9L189.6 421.2L196.4 417.3L204.5 413.8L211.7 410.2L218.0 408.0L218.9 406.8L218.6 405.1L217.2 404.3L199.4 402.3L189.1 407.9L182.9 413.1L176.5 420.6L164.6 438.7L159.8 448.2Z" fill="#ffb000"/>
<path d="M160.0 447.9L161.9 448.3L163.4 447.5L174.0 434.8L183.6 428.4L184.9 425.9L189.6 421.2L196.4 417.3L204.5 413.8L211.7 410.2L218.0 408.0L218.9 406.8L218.6 405.1L217.2 404.3L199.4 402.3L189.3 407.8L182.9 413.1L176.5 420.6L164.6 438.7Z" fill="#ffa000"/>
<path d="M161.0 445.8L162.9 446.2L163.9 445.8L173.4 434.8L184.0 427.7L184.9 425.9L189.6 421.2L196.4 417.3L204.5 413.8L211.7 410.2L218.0 408.0L218.9 406.8L218.6 405.1L217.2 404.3L199.4 402.3L189.3 407.8L182.9 413.1L176.5 420.6L164.8 438.5Z" fill="#ff9000"/>
<path d="M162.1 443.7L163.9 444.1L164.9 443.6L172.9 434.8L181.4 428.5L184.4 426.8L184.9 425.9L189.6 421.2L196.4 417.3L204.5 413.8L211.7 410.2L218.0 408.0L218.9 406.8L218.7 405.2L217.2 404.3L199.4 402.3L189.3 407.8L182.9 413.1L176.7 420.4L164.8 438.5Z" fill="#ff8000"/>
<path d="M163.0 442.0L164.9 442.0L165.9 441.5L172.9 434.3L178.6 430.3L181.9 427.2L185.4 425.5L189.6 421.2L196.4 417.3L204.5 413.8L211.7 410.2L218.0 408.0L218.9 406.8L218.7 405.2L217.2 404.3L199.4 402.3L189.3 407.8L182.9 413.1L176.7 420.4L164.8 438.5Z" fill="#ff7000"/>
<path d="M176.7 420.4L164.0 439.9L164.4 440.3L166.9 439.4L172.3 434.3L178.6 429.8L182.4 426.0L187.3 423.5L189.6 421.2L196.4 417.3L204.5 413.8L211.7 410.2L218.0 408.0L218.9 406.8L218.7 405.2L217.2 404.3L199.4 402.3L189.4 407.7L182.9 413.1ZM164.0 440.0L163.9 440.4L164.3 440.3Z" fill="#ff6000"/>
<path d="M166.6 435.8L167.2 435.8L165.9 438.5L168.4 437.4L171.8 434.3L177.3 430.3L183.9 424.0L189.4 421.4L196.4 417.3L204.5 413.8L211.7 410.2L218.0 408.0L218.9 406.8L218.7 405.2L217.2 404.3L199.4 402.3L189.4 407.7L182.9 413.1L176.7 420.4Z" fill="#ff5000"/>
<path d="M168.0 433.8L169.4 432.6L170.0 432.8L168.0 435.8L167.9 436.6L176.7 430.3L182.4 424.3L184.9 422.4L187.9 420.7L194.4 418.4L211.7 410.2L217.8 408.1L218.9 406.8L218.7 405.2L217.2 404.3L199.4 402.3L189.4 407.7L182.9 413.1L176.7 420.4Z" fill="#ff4000"/>
<path d="M169.4 432.0L170.5 432.8L169.9 434.5L176.0 430.3L182.9 423.1L186.9 420.3L190.4 418.4L198.9 415.7L204.9 412.8L207.6 412.3L211.7 410.2L217.8 408.1L218.9 407.0L218.8 405.4L217.2 404.3L199.8 402.3L198.6 402.6L189.3 407.8L182.9 413.1L176.5 420.6Z" fill="#ff3000"/>
<path d="M169.5 431.6L171.1 432.3L171.4 432.9L174.7 430.8L183.4 421.8L190.4 417.2L202.1 413.3L206.9 411.2L208.9 410.9L210.1 411.0L217.8 408.1L218.9 407.0L218.8 405.4L217.2 404.3L199.8 402.3L198.6 402.6L189.3 407.8L182.9 413.1L176.5 420.6Z" fill="#ff2000"/>
<path d="M169.6 431.3L170.9 431.7L172.9 430.5L173.4 430.9L174.4 430.4L183.9 420.6L191.4 415.7L200.4 412.3L208.4 409.8L211.4 409.4L211.8 409.8L211.7 410.3L217.7 408.2L218.8 407.2L218.8 405.4L217.2 404.3L199.8 402.3L198.6 402.6L189.3 407.8L182.9 413.1L176.5 420.6Z" fill="#ff1000"/>
<path d="M170.4 431.2L171.4 430.8L185.9 418.0L192.9 413.7L203.9 409.7L210.4 408.2L213.4 408.0L213.6 408.8L212.9 409.8L218.2 407.9L218.9 406.8L218.8 405.4L217.2 404.3L199.8 402.3L198.6 402.6L189.3 407.8L182.9 413.1L176.5 420.6L169.9 431.0Z" fill="#ff0000"/>
</g></g></g><g id="ph"><path class="gr" d="M411.2 530.5L531.1 485.1M531.1 485.1L667.4 523.2M409.5 489.3L531.1 449.2M531.1 449.2L669.2 482.8M407.8 446.9L531.1 412.4M531.1 412.4L671.1 441.4M406.0 403.3L531.0 374.7M531.0 374.7L673.0 398.8M404.1 358.4L531.0 336.1M531.0 336.1L674.9 354.9M538.8 486.5L539.1 327.0M419.1 532.6L538.8 486.5M556.6 491.5L557.8 329.3M437.4 539.3L556.6 491.5M575.0 496.6L577.3 331.6M456.5 546.4L575.0 496.6M594.1 501.9L597.5 334.1M476.4 553.7L594.1 501.9M613.9 507.5L618.5 336.6M497.2 561.3L613.9 507.5M634.5 513.2L640.4 339.3M518.9 569.3L634.5 513.2M655.9 519.1L663.1 342.0M541.6 577.7L655.9 519.1M422.0 525.6L415.2 344.8M422.0 525.6L564.4 576.7M439.7 518.9L434.1 341.7M439.7 518.9L581.4 567.8M456.7 512.5L452.2 338.8M456.7 512.5L597.6 559.2M473.0 506.3L469.5 336.0M473.0 506.3L613.1 551.1M488.6 500.4L486.1 333.3M488.6 500.4L627.8 543.3M503.7 494.7L502.0 330.7M503.7 494.7L641.9 535.8M518.1 489.3L517.3 328.3M518.1 489.3L655.4 528.7M532.1 484.0L532.0 325.9M532.1 484.0L668.3 521.9"/>
<path class="ed" d="M411.2 529.7L554.0 582.2M554.0 582.2L667.5 522.4M411.2 529.7L531.1 484.4"/>
<path class="ek" d="M403.7 346.7L531.0 326.0M531.0 326.0L675.5 343.5M411.2 529.7L403.7 346.7M667.5 522.4L675.5 343.5"/>
<path class="el" d="M531.1 484.4L531.0 326.0M531.1 484.4L667.5 522.4"/>
<path class="tk" d="M419.1 532.6L416.3 533.7M437.4 539.3L434.6 540.5M456.5 546.4L453.7 547.5M476.4 553.7L473.6 554.9M497.2 561.3L494.4 562.6M518.9 569.3L516.1 570.7M541.6 577.7L538.9 579.1M428.1 535.9L426.7 536.5M446.8 542.8L445.4 543.4M466.3 550.0L464.9 550.6M486.7 557.5L485.3 558.1M507.9 565.3L506.5 565.9M530.1 573.5L528.7 574.1M564.4 576.7L567.4 577.8M581.4 567.8L584.4 568.8M597.6 559.2L600.6 560.2M613.1 551.1L616.0 552.0M627.8 543.3L630.7 544.2M641.9 535.8L644.8 536.7M655.4 528.7L658.2 529.5M668.3 521.9L671.1 522.7M573.0 572.2L574.5 572.7M589.6 563.4L591.1 563.9M605.5 555.1L606.9 555.6M620.5 547.1L622.0 547.6M635.0 539.5L636.4 540.0M648.8 532.2L650.2 532.7M662.0 525.3L663.4 525.7M408.2 530.5L411.2 530.5M406.5 489.3L409.5 489.3M404.8 446.9L407.8 446.9M403.0 403.3L406.0 403.3M401.1 358.4L404.1 358.4"/>
<text transform="matrix(0.74,0,-0.18,1,405.0,536.9)" text-anchor="end" class="zl">9</text>
<text transform="matrix(0.74,0,-0.18,1,403.3,495.7)" text-anchor="end" class="zl">10</text>
<text transform="matrix(0.74,0,-0.18,1,401.6,453.3)" text-anchor="end" class="zl">11</text>
<text transform="matrix(0.74,0,-0.18,1,399.8,409.7)" text-anchor="end" class="zl">12</text>
<text transform="matrix(0.74,0,-0.18,1,397.9,364.8)" text-anchor="end" class="zl">13</text>
<text transform="matrix(0.933,-0.359,0.938,0.345,415.419,534.002)" y="3.3" text-anchor="end" class="fl">4</text>
<text transform="matrix(0.928,-0.373,0.938,0.345,433.761,540.795)" y="3.3" text-anchor="end" class="fl">5</text>
<text transform="matrix(0.922,-0.387,0.938,0.345,452.875,547.876)" y="3.3" text-anchor="end" class="fl">6</text>
<text transform="matrix(0.915,-0.402,0.938,0.345,472.811,555.261)" y="3.3" text-anchor="end" class="fl">7</text>
<text transform="matrix(0.908,-0.419,0.938,0.345,493.624,562.973)" y="3.3" text-anchor="end" class="fl">8</text>
<text transform="matrix(0.900,-0.437,0.938,0.345,515.373,571.032)" y="3.3" text-anchor="end" class="fl">9</text>
<text transform="matrix(0.890,-0.456,0.938,0.345,538.123,579.463)" y="3.3" text-anchor="end" class="fl">10</text>
<text transform="matrix(0.941,0.338,-0.884,0.467,569.132,578.427)" y="3.3" text-anchor="start" class="fl">0.2</text>
<text transform="matrix(0.945,0.326,-0.884,0.467,586.162,569.393)" y="3.3" text-anchor="start" class="fl">0.4</text>
<text transform="matrix(0.949,0.315,-0.884,0.467,602.383,560.788)" y="3.3" text-anchor="start" class="fl">0.6</text>
<text transform="matrix(0.953,0.304,-0.884,0.467,617.852,552.583)" y="3.3" text-anchor="start" class="fl">0.8</text>
<text transform="matrix(0.956,0.294,-0.884,0.467,632.619,544.750)" y="3.3" text-anchor="start" class="fl">1.0</text>
<text transform="matrix(0.959,0.285,-0.884,0.467,646.732,537.264)" y="3.3" text-anchor="start" class="fl">1.2</text>
<text transform="matrix(0.961,0.276,-0.884,0.467,660.234,530.104)" y="3.3" text-anchor="start" class="fl">1.4</text>
<text transform="matrix(0.963,0.268,-0.884,0.467,673.162,523.247)" y="3.3" text-anchor="start" class="fl">1.6</text>
<text transform="matrix(0.931,0.366,-0.915,0.403,456.800,563.100)" y="3.5" text-anchor="middle" class="ft"><tspan font-style="italic">B</tspan>(mm)</text>
<text transform="matrix(0.868,-0.497,0.953,0.302,640.900,557.800)" y="3.5" text-anchor="middle" class="ft"><tspan font-style="italic">T</tspan>(mm)</text>
<text transform="translate(383.4,417.1) rotate(90) scale(1.13,1)" style="font-size:11.7px"><tspan font-style="italic">P</tspan><tspan style="font-size:8.4px" dy="3.2">2ave</tspan><tspan dy="-3.2">(MPa)</tspan></text>
<text x="358.5" y="623" class="pl">(h)</text>
<g class="sf"><mask id="mh0" maskUnits="userSpaceOnUse" x="0" y="0" width="685" height="627"><path d="M439.9 464.7L444.9 472.1L452.3 484.5L459.8 495.7L469.7 505.6L479.6 512.3L489.6 515.5L499.5 521.7L509.4 526.7L519.3 528.7L529.3 531.7L539.2 535.4L549.1 536.6L556.6 536.6L564.0 519.3L571.4 501.9L578.9 484.5L586.3 469.6L590.0 459.7L597.0 451.5L601.7 446.9L606.4 446.3L609.9 449.2L616.9 455.0L623.9 458.0L629.7 462.6L635.6 463.8L642.6 461.5L650.7 460.3L642.6 453.3L634.4 452.7L623.9 451.0L614.5 447.5L608.7 438.7L601.7 429.3L596.5 424.8L589.5 416.0L582.5 407.3L573.8 396.8L565.0 386.3L556.3 374.0L549.5 362.3L543.9 352.8L538.2 343.7L528.7 349.0L521.1 353.7L513.5 355.6L505.9 357.5L498.3 362.3L492.6 368.9L486.9 379.3L481.2 390.7L473.6 405.9L466.1 421.1L457.3 434.9L447.4 452.3Z" fill="#fff"/></mask>
<g mask="url(#mh0)">
<path d="M438.2 463.7L438.1 465.7L458.3 497.0L468.4 507.1L478.5 514.0L488.8 517.3L498.6 523.5L508.8 528.6L518.8 530.6L538.7 537.3L548.9 538.6L556.6 538.6L558.4 537.4L580.7 485.3L588.1 470.5L591.8 460.7L602.6 448.8L605.8 448.4L615.8 456.7L622.9 459.7L629.3 464.6L636.0 465.8L643.1 463.5L651.4 462.2L652.7 460.2L652.0 458.8L643.3 451.4L624.4 449.1L615.8 445.9L603.3 428.1L597.9 423.4L566.6 385.1L558.0 372.9L539.9 342.6L538.2 341.7L520.3 351.8L505.0 355.7L497.1 360.7L491.1 367.6L464.4 420.1Z" fill="#1100f9"/>
<path d="M476.1 512.4L478.4 510.3L479.9 510.7L489.4 515.8L495.9 517.7L509.4 523.9L520.4 527.5L551.4 534.9L551.9 535.2L553.5 538.6L557.2 538.5L558.4 537.4L580.7 485.3L588.1 470.5L591.8 460.7L598.5 452.9L602.6 448.8L605.8 448.4L615.8 456.7L622.9 459.7L629.3 464.6L636.0 465.8L643.1 463.5L651.4 462.2L652.5 461.1L652.6 459.8L652.0 458.8L643.3 451.4L634.6 450.7L624.4 449.1L615.8 445.9L610.3 437.5L603.3 428.1L597.9 423.4L566.6 385.1L558.0 372.9L539.9 342.6L539.0 341.9L537.6 341.8L520.3 351.8L505.0 355.7L497.1 360.7L491.1 367.6L485.1 378.4L464.4 420.1L455.6 433.9L438.0 464.0L438.2 465.8L443.2 473.2L450.6 485.6L458.3 497.0L468.4 507.1Z" fill="#0000ff"/>
<path d="M463.4 501.8L467.4 504.1L480.4 506.8L489.4 511.9L492.4 512.7L497.4 513.4L504.4 517.7L510.4 520.9L529.9 525.5L550.4 531.0L558.4 532.5L559.9 532.5L560.7 532.2L580.7 485.3L588.1 470.5L591.8 460.7L598.5 452.9L602.6 448.8L605.8 448.4L615.8 456.7L622.9 459.7L629.3 464.6L636.0 465.8L643.1 463.5L651.4 462.2L652.5 461.1L652.6 459.8L652.0 458.8L643.3 451.4L634.6 450.7L624.4 449.1L615.8 445.9L610.3 437.5L603.3 428.1L597.9 423.4L566.6 385.1L558.0 372.9L539.9 342.6L539.0 341.9L537.8 341.7L527.7 347.3L520.3 351.8L505.0 355.7L497.1 360.7L491.1 367.6L485.1 378.4L464.4 420.1L455.6 433.9L438.1 463.8L438.1 465.7L443.2 473.2L450.6 485.6L458.3 497.0Z" fill="#0020ff"/>
<path d="M462.9 501.5L464.4 501.0L470.4 502.8L481.4 504.1L490.9 507.8L494.9 508.5L498.9 510.0L505.9 515.7L510.9 518.1L528.4 522.0L551.4 528.3L560.9 530.2L561.6 529.9L580.7 485.3L588.1 470.5L591.8 460.7L598.5 452.9L602.6 448.8L605.8 448.4L615.8 456.7L622.9 459.7L629.3 464.6L636.0 465.8L643.1 463.5L651.4 462.2L652.5 461.1L652.6 459.8L652.0 458.8L643.3 451.4L634.6 450.7L624.4 449.1L615.8 445.9L610.3 437.5L603.3 428.1L597.9 423.4L566.6 385.1L558.0 372.9L539.9 342.6L539.0 341.9L537.8 341.7L527.7 347.3L520.3 351.8L505.0 355.7L497.1 360.7L491.1 367.6L485.1 378.4L464.4 420.1L455.6 433.9L438.1 463.8L438.1 465.7L443.2 473.2L450.6 485.6L458.3 497.0Z" fill="#0040ff"/>
<path d="M462.7 501.2L463.4 500.7L462.9 499.2L463.4 498.8L469.9 500.7L482.4 501.4L495.4 504.2L500.4 506.6L507.4 513.6L509.4 514.7L528.9 519.1L550.4 525.2L561.9 527.8L562.6 527.6L580.7 485.3L588.1 470.5L591.8 460.7L598.5 452.9L602.6 448.8L605.8 448.4L615.8 456.7L622.9 459.7L629.3 464.6L636.0 465.8L643.1 463.5L651.4 462.2L652.5 461.1L652.6 459.8L652.0 458.8L643.3 451.4L634.6 450.7L624.4 449.1L615.8 445.9L610.3 437.5L603.3 428.1L597.9 423.4L566.6 385.1L558.0 372.9L539.9 342.6L539.0 341.9L537.8 341.7L527.7 347.3L520.3 351.8L505.0 355.7L497.1 360.7L491.1 367.6L485.1 378.4L464.4 420.1L455.6 433.9L438.1 463.8L438.1 465.7L443.2 473.2L450.6 485.6L458.3 497.0Z" fill="#0060ff"/>
<path d="M462.4 500.8L462.6 500.2L460.4 496.7L460.4 496.0L470.4 498.8L489.4 498.8L495.4 499.8L501.9 503.2L508.7 511.2L509.9 512.1L529.9 516.2L549.9 522.2L562.9 525.5L563.6 525.3L580.7 485.3L588.1 470.5L591.8 460.7L598.5 452.9L602.6 448.8L605.8 448.4L615.8 456.7L622.9 459.7L629.3 464.6L636.0 465.8L643.1 463.5L651.4 462.2L652.4 461.3L652.7 460.0L652.0 458.8L643.3 451.4L634.6 450.7L624.4 449.1L615.8 445.9L610.3 437.5L603.3 428.1L597.9 423.4L566.6 385.1L558.0 372.9L539.9 342.6L539.0 341.9L537.8 341.7L527.7 347.3L520.3 351.8L505.0 355.7L497.1 360.7L491.1 367.6L485.1 378.4L464.4 420.1L455.6 433.9L438.1 463.8L438.1 465.7L443.2 473.2L450.6 485.6L458.3 497.0Z" fill="#0080ff"/>
<path d="M453.4 489.7L454.7 489.7L457.9 492.6L469.9 496.3L489.9 495.4L499.9 497.2L500.9 497.8L509.4 507.9L512.4 509.8L530.4 513.3L550.4 519.5L563.9 523.1L564.6 523.0L580.7 485.3L588.1 470.5L591.8 460.7L598.5 452.9L602.6 448.8L605.8 448.4L615.8 456.7L622.9 459.7L629.3 464.6L636.0 465.8L643.1 463.5L651.4 462.2L652.4 461.3L652.7 460.0L652.0 458.8L643.3 451.4L634.6 450.7L624.4 449.1L615.8 445.9L610.3 437.5L603.3 428.1L597.9 423.4L566.6 385.1L558.0 372.9L539.9 342.6L539.0 341.9L538.0 341.7L527.7 347.3L520.3 351.8L505.0 355.7L496.9 360.9L490.8 367.9L485.1 378.4L464.4 420.1L455.6 433.9L438.0 464.2L438.1 465.7L443.2 473.2Z" fill="#009fff"/>
<path d="M453.2 489.4L454.9 488.8L456.4 489.6L470.4 493.6L488.4 492.1L492.9 492.4L501.1 495.7L507.4 503.1L512.9 506.9L530.9 510.5L551.4 516.9L565.4 520.7L580.7 485.3L588.1 470.5L591.8 460.7L598.5 452.9L602.6 448.8L605.8 448.4L615.8 456.7L622.9 459.7L629.3 464.6L636.0 465.8L643.1 463.5L651.4 462.2L652.4 461.3L652.7 460.0L652.0 458.8L643.3 451.4L634.6 450.7L624.4 449.1L615.8 445.9L610.3 437.5L603.3 428.1L597.9 423.4L566.6 385.1L558.0 372.9L539.9 342.6L539.0 341.9L538.0 341.7L527.7 347.3L520.3 351.8L505.0 355.7L496.9 360.9L490.8 367.9L485.1 378.4L464.4 420.1L455.6 433.9L438.0 464.2L438.2 465.8L443.2 473.2L450.6 485.6Z" fill="#00bfff"/>
<path d="M453.0 489.1L454.2 488.2L453.8 486.7L454.4 486.4L470.4 490.8L488.4 488.7L493.4 489.1L496.9 490.7L501.9 494.0L508.4 501.5L513.4 504.1L529.4 507.1L551.9 514.2L566.4 518.3L580.7 485.3L588.1 470.5L591.8 460.7L598.5 452.9L602.6 448.8L605.8 448.4L615.8 456.7L622.9 459.7L629.3 464.6L636.0 465.8L643.1 463.5L651.4 462.2L652.4 461.3L652.7 460.0L652.0 458.8L643.3 451.4L634.6 450.7L624.4 449.1L615.8 445.9L610.3 437.5L603.3 428.1L597.9 423.4L566.6 385.1L558.0 372.9L539.9 342.6L539.0 341.9L538.0 341.7L527.7 347.3L520.3 351.8L505.0 355.7L496.9 360.9L490.8 367.9L485.1 378.4L464.4 420.1L455.6 433.9L438.0 464.2L438.2 465.8L443.2 473.2L450.6 485.6Z" fill="#00dfff"/>
<path d="M452.8 488.7L453.4 488.2L451.1 483.7L451.4 483.1L469.9 488.0L487.9 485.4L493.9 485.8L498.3 488.2L509.9 500.1L514.4 501.5L529.9 504.1L567.4 516.0L580.7 485.3L588.1 470.5L591.8 460.7L598.5 452.9L602.6 448.8L605.8 448.4L615.8 456.7L622.9 459.7L629.3 464.6L636.0 465.8L643.1 463.5L651.4 462.2L652.4 461.3L652.7 460.0L652.0 458.8L643.3 451.4L634.6 450.7L624.4 449.1L615.8 445.9L610.3 437.5L603.3 428.1L597.9 423.4L566.6 385.1L558.0 372.9L539.9 342.6L539.0 341.9L538.0 341.7L527.7 347.3L520.3 351.8L505.0 355.7L496.9 360.9L490.8 367.9L485.1 378.4L464.4 420.1L455.6 433.9L438.0 464.2L438.1 465.7Z" fill="#00ffff"/>
<path d="M445.4 475.8L446.2 476.2L448.9 480.1L467.9 485.0L472.4 485.2L489.9 482.6L496.9 483.9L497.9 484.5L507.4 494.5L513.9 498.3L530.4 501.3L550.9 508.2L568.4 513.7L580.7 485.3L588.1 470.5L591.8 460.7L598.5 452.9L602.6 448.8L605.8 448.4L615.8 456.7L622.9 459.7L629.3 464.6L636.0 465.8L643.1 463.5L651.4 462.2L652.3 461.5L652.7 460.2L652.0 458.8L643.3 451.4L634.6 450.7L624.4 449.1L615.8 445.9L610.3 437.5L603.3 428.1L597.9 423.4L566.6 385.1L558.0 372.9L539.9 342.6L539.0 341.9L538.0 341.7L527.7 347.3L520.3 351.8L505.0 355.7L497.1 360.7L491.0 367.8L485.1 378.4L464.4 420.1L455.6 433.9L438.0 464.0L438.2 465.8L444.9 476.0Z" fill="#00ffdf"/>
<path d="M444.9 475.6L446.4 475.7L447.9 477.8L448.9 478.5L468.4 482.8L472.4 483.0L489.9 481.0L497.4 482.3L498.9 483.1L508.7 492.2L514.4 495.4L531.4 498.6L563.9 510.0L567.9 511.3L569.4 511.4L580.7 485.3L588.1 470.5L591.8 460.7L598.5 452.9L602.6 448.8L605.8 448.4L615.8 456.7L622.9 459.7L629.3 464.6L636.0 465.8L643.1 463.5L651.4 462.2L652.3 461.5L652.7 460.2L652.0 458.8L643.3 451.4L634.6 450.7L624.4 449.1L615.8 445.9L610.3 437.5L603.3 428.1L597.9 423.4L566.6 385.1L558.0 372.9L539.9 342.6L539.0 341.9L538.0 341.7L527.7 347.3L520.3 351.8L505.0 355.7L497.1 360.7L491.0 367.8L485.1 378.4L464.4 420.1L455.6 433.9L438.1 463.8L438.1 465.7Z" fill="#00ffbf"/>
<path d="M444.6 475.5L446.4 475.3L448.4 476.9L469.4 480.7L471.9 480.8L489.9 479.3L497.4 480.6L499.9 481.7L504.9 486.2L509.9 489.8L515.4 492.7L526.4 494.4L531.9 495.7L564.9 507.9L568.4 509.0L570.4 509.0L580.7 485.3L588.1 470.5L591.8 460.7L598.5 452.9L602.6 448.8L605.8 448.4L615.8 456.7L622.9 459.7L629.3 464.6L636.0 465.8L643.1 463.5L651.4 462.2L652.3 461.5L652.7 460.2L652.0 458.8L643.3 451.4L634.6 450.7L624.4 449.1L615.8 445.9L610.3 437.5L603.3 428.1L597.9 423.4L566.6 385.1L558.0 372.9L539.9 342.6L539.0 341.9L538.0 341.7L527.7 347.3L520.3 351.8L505.0 355.7L497.1 360.7L491.0 367.8L485.1 378.4L464.4 420.1L455.6 433.9L438.1 463.8L438.1 465.7Z" fill="#00ff9f"/>
<path d="M444.5 475.4L446.4 474.9L450.4 475.4L470.4 478.5L489.4 477.7L495.9 478.6L500.4 480.0L505.9 484.3L515.9 489.8L526.4 491.3L532.9 493.1L565.9 505.7L568.9 506.6L571.4 506.7L580.7 485.3L588.1 470.5L591.8 460.7L598.5 452.9L602.6 448.8L605.8 448.4L615.8 456.7L622.9 459.7L629.3 464.6L636.0 465.8L643.1 463.5L651.4 462.2L652.3 461.5L652.7 460.2L652.0 458.8L643.3 451.4L634.6 450.7L624.4 449.1L615.8 445.9L610.3 437.5L603.3 428.1L597.9 423.4L566.6 385.1L558.0 372.9L539.9 342.6L539.0 341.9L538.0 341.7L527.7 347.3L520.3 351.8L505.0 355.7L497.1 360.7L491.0 367.8L485.1 378.4L464.4 420.1L455.6 433.9L438.1 463.8L438.1 465.7Z" fill="#00ff80"/>
<path d="M444.5 475.2L446.0 474.7L446.9 473.7L449.9 473.7L470.4 476.3L489.4 476.0L495.9 476.8L501.4 478.7L506.9 482.5L516.4 486.9L526.9 488.3L533.4 490.2L566.9 503.6L569.4 504.3L572.6 504.3L580.7 485.3L588.1 470.5L591.8 460.7L598.5 452.9L602.6 448.8L605.8 448.4L615.8 456.7L622.9 459.7L629.3 464.6L636.0 465.8L643.1 463.5L651.4 462.2L652.3 461.5L652.7 460.2L652.0 458.8L643.3 451.4L634.6 450.7L624.4 449.1L615.8 445.9L610.3 437.5L603.3 428.1L597.9 423.4L566.6 385.1L558.0 372.9L539.9 342.6L539.0 341.9L538.0 341.7L527.7 347.3L520.3 351.8L505.0 355.7L497.1 360.7L491.0 367.8L485.1 378.4L464.4 420.1L455.6 433.9L438.1 463.8L438.1 465.7Z" fill="#00ff60"/>
<path d="M444.4 475.0L445.9 474.2L445.7 472.7L445.9 472.1L446.4 472.1L450.9 472.2L470.9 474.1L489.4 474.4L496.2 475.2L502.4 477.4L507.9 480.6L516.9 484.0L526.9 485.3L529.9 486.0L546.4 492.2L567.9 501.5L569.9 501.9L573.6 501.9L580.7 485.3L588.1 470.5L591.8 460.7L598.5 452.9L602.6 448.8L605.8 448.4L615.8 456.7L622.9 459.7L629.3 464.6L636.0 465.8L643.1 463.5L651.4 462.2L652.3 461.5L652.7 460.2L652.0 458.8L643.3 451.4L634.6 450.7L624.4 449.1L615.8 445.9L610.3 437.5L603.3 428.1L597.9 423.4L566.6 385.1L558.0 372.9L539.9 342.6L539.0 341.9L538.0 341.7L527.7 347.3L520.3 351.8L505.0 355.7L497.1 360.7L491.0 367.8L485.1 378.4L464.4 420.1L455.6 433.9L438.1 463.8L438.1 465.7Z" fill="#00ff40"/>
<path d="M444.4 474.8L445.5 474.2L444.7 471.2L444.9 470.6L445.4 470.4L489.4 472.8L496.4 473.5L503.4 476.0L508.9 478.8L517.9 481.2L527.4 482.3L530.9 483.2L547.9 489.9L568.6 499.2L569.9 499.5L574.6 499.6L580.7 485.3L588.1 470.5L591.8 460.7L598.5 452.9L602.6 448.8L605.8 448.4L615.8 456.7L622.9 459.7L629.3 464.6L636.0 465.8L643.1 463.5L651.4 462.2L652.3 461.5L652.7 460.2L652.0 458.8L643.3 451.4L634.6 450.7L624.4 449.1L615.8 445.9L610.3 437.5L603.3 428.1L597.9 423.4L566.6 385.1L558.0 372.9L539.9 342.6L539.0 341.9L538.0 341.7L527.7 347.3L520.3 351.8L505.0 355.7L497.1 360.7L491.0 367.8L485.1 378.4L464.4 420.1L455.6 433.9L438.1 463.8L438.1 465.7Z" fill="#00ff20"/>
<path d="M444.0 474.6L444.9 473.7L444.1 471.7L443.8 469.7L443.9 469.1L444.9 468.8L469.4 469.6L496.4 471.8L509.9 476.9L527.4 479.3L531.4 480.2L549.4 487.5L569.4 497.0L575.6 497.2L580.7 485.3L588.1 470.5L591.8 460.7L598.5 452.9L602.6 448.8L605.8 448.4L615.8 456.7L622.9 459.7L629.3 464.6L636.0 465.8L643.1 463.5L651.4 462.2L652.3 461.5L652.7 460.2L652.0 458.8L643.3 451.4L634.6 450.7L624.4 449.1L615.8 445.9L610.3 437.5L603.3 428.1L597.9 423.4L566.6 385.1L558.0 372.9L539.9 342.6L539.0 341.9L538.0 341.7L527.7 347.3L520.3 351.8L505.0 355.7L497.1 360.7L491.0 367.8L485.1 378.4L464.4 420.1L455.6 433.9L438.1 463.8L438.1 465.7Z" fill="#00ff00"/>
<path d="M441.0 469.9L443.4 467.2L446.4 467.1L449.4 466.4L472.9 467.2L487.9 468.3L496.9 469.5L509.9 474.5L530.4 476.3L550.9 484.9L568.4 493.1L571.9 493.9L576.9 493.8L588.1 470.5L591.8 460.7L598.5 452.9L602.6 448.8L605.8 448.4L615.8 456.7L622.9 459.7L629.3 464.6L630.9 464.9L633.9 463.6L643.9 461.0L644.6 461.2L644.5 461.7L643.2 463.4L651.0 462.3L652.3 461.5L652.7 460.2L652.0 458.8L643.3 451.4L634.6 450.7L624.4 449.1L615.8 445.9L610.3 437.5L603.3 428.1L597.9 423.4L566.6 385.1L558.0 372.9L539.9 342.6L539.2 341.9L538.2 341.7L527.7 347.3L520.3 351.8L505.0 355.7L497.1 360.7L491.0 367.8L485.1 378.4L464.4 420.1L455.6 433.9L438.1 463.8L438.1 465.7Z" fill="#20ff00"/>
<path d="M570.9 489.7L577.4 489.3L579.4 488.4L588.1 470.5L591.8 460.7L598.5 452.9L602.6 448.8L605.8 448.4L615.8 456.7L622.9 459.7L626.6 462.7L630.4 460.9L635.9 460.5L645.4 458.3L645.8 457.7L644.9 455.7L646.2 453.7L643.1 451.4L634.6 450.7L624.4 449.1L615.8 445.9L610.3 437.5L603.3 428.1L597.9 423.4L566.6 385.1L558.0 372.9L539.9 342.6L539.0 341.9L537.8 341.7L527.7 347.3L520.3 351.8L505.0 355.7L497.1 360.7L491.1 367.6L485.1 378.4L464.4 420.1L455.6 433.9L438.2 463.7L437.9 465.1L440.7 469.4L442.2 467.2L442.5 465.7L449.9 463.2L470.9 464.3L487.4 464.5L493.4 465.3L498.4 466.7L509.9 471.8L524.9 472.2L530.9 472.8L568.4 489.0Z" fill="#40ff00"/>
<path d="M570.9 485.6L577.9 484.7L582.2 482.3L588.1 470.5L591.8 460.7L598.5 452.9L602.6 448.8L605.8 448.4L615.8 456.7L622.4 459.5L624.9 458.7L632.9 459.0L642.3 457.2L643.3 456.7L643.4 455.7L644.4 455.2L645.8 453.4L643.1 451.4L634.6 450.7L624.4 449.1L615.8 445.9L610.3 437.5L603.3 428.1L597.9 423.4L566.6 385.1L558.0 372.9L539.9 342.6L539.0 341.9L537.8 341.7L527.7 347.3L520.3 351.8L505.0 355.7L497.1 360.7L491.1 367.6L485.1 378.4L464.4 420.1L455.6 433.9L441.7 457.8L442.6 458.7L441.4 462.7L441.9 463.2L442.4 463.1L450.9 459.9L470.4 461.3L487.4 460.8L491.4 461.2L494.9 462.0L499.4 463.8L507.4 468.1L509.9 469.0L525.4 468.7L531.4 469.3L569.4 485.3Z" fill="#60ff00"/>
<path d="M572.4 481.2L577.9 480.2L585.4 475.9L588.2 470.3L591.8 460.7L598.5 452.9L602.6 448.8L605.8 448.4L615.6 456.5L617.4 457.4L619.4 456.4L631.4 457.3L639.9 455.9L640.9 455.2L640.9 454.7L639.8 451.1L634.6 450.7L624.4 449.1L615.8 445.9L610.3 437.5L603.3 428.1L597.9 423.4L566.6 385.1L558.0 372.9L539.9 342.6L539.0 341.9L537.8 341.7L527.7 347.3L520.3 351.8L505.0 355.7L497.1 360.7L491.1 367.6L485.1 378.4L464.4 420.1L455.6 433.9L442.1 457.2L443.7 458.2L444.4 459.3L451.9 456.7L469.9 458.4L487.4 457.1L491.9 457.5L496.4 458.7L509.9 466.3L527.9 465.1L531.9 465.8L549.4 473.5L569.4 481.3ZM640.5 451.2L643.9 454.2L644.4 454.2L645.4 453.1L643.3 451.4Z" fill="#80ff00"/>
<path d="M571.4 477.4L578.4 476.3L587.7 471.3L591.8 460.7L598.5 452.9L602.6 448.8L605.8 448.4L613.2 454.5L617.4 453.6L621.9 455.0L629.9 455.5L636.4 454.4L637.9 453.3L637.9 452.2L637.4 450.9L624.4 449.1L615.8 445.9L610.3 437.5L603.3 428.1L597.9 423.4L566.6 385.1L558.0 372.9L539.9 342.6L539.0 341.9L537.6 341.8L520.3 351.8L505.0 355.7L497.1 360.7L491.1 367.6L485.1 378.4L464.4 420.1L455.6 433.9L442.3 456.8L443.9 457.5L444.4 457.4L446.4 455.6L451.9 453.9L469.9 456.0L490.4 454.2L497.4 456.0L508.4 462.2L511.4 463.0L530.4 461.5L550.4 470.5L567.4 476.8Z" fill="#9fff00"/>
<path d="M571.4 474.2L579.4 473.1L589.1 467.8L591.8 460.7L598.5 452.9L602.6 448.8L605.8 448.4L610.0 451.9L615.9 450.9L622.9 453.5L626.9 453.9L630.9 453.4L632.0 452.7L628.8 449.8L624.4 449.1L615.8 445.9L610.3 437.5L603.3 428.1L597.9 423.4L566.6 385.1L558.0 372.9L545.6 351.8L539.3 342.1L538.4 341.7L537.2 342.0L520.3 351.8L505.0 355.7L497.2 360.6L490.8 367.9L485.1 378.4L464.4 420.1L455.6 433.9L442.7 456.2L443.9 456.3L445.5 453.7L446.9 452.3L452.4 451.7L469.9 454.0L490.9 452.5L498.4 454.0L508.9 459.0L510.9 459.5L528.4 457.9L530.4 458.1L547.4 465.9L568.1 473.7ZM632.9 450.4L634.4 450.8L634.9 450.7Z" fill="#bfff00"/>
<path d="M570.9 470.9L579.4 470.3L590.4 464.3L591.8 460.7L598.5 452.9L602.6 448.8L605.8 448.4L607.0 449.4L614.4 448.2L623.9 451.9L626.4 452.1L627.4 451.7L627.2 451.2L624.7 449.1L615.8 445.9L610.3 437.5L603.3 428.1L597.9 423.4L566.6 385.1L558.0 372.9L545.6 351.8L539.3 342.1L538.4 341.7L537.2 342.0L520.3 351.8L505.0 355.7L497.1 360.7L490.8 367.9L485.1 378.4L464.4 420.1L455.6 433.8L448.7 446.0L449.4 447.4L450.4 447.6L450.4 449.2L451.4 449.6L454.4 449.5L469.9 452.0L490.4 450.8L495.9 451.2L499.4 452.0L510.9 456.1L529.4 454.5L531.9 455.2L548.4 463.1L568.4 470.5Z" fill="#dfff00"/>
<path d="M580.2 467.2L584.7 464.2L593.0 452.7L596.9 448.3L612.4 445.5L616.9 446.8L617.8 446.7L615.8 445.9L614.4 443.7L610.2 440.2L610.4 439.7L612.0 440.1L603.3 428.1L597.9 423.4L566.6 385.1L558.0 372.9L539.8 342.5L538.8 341.8L537.4 341.9L520.3 351.8L505.2 355.6L497.1 360.7L490.8 367.9L485.1 378.4L464.4 420.1L455.6 433.8L449.0 445.5L449.9 446.0L455.4 439.7L453.7 446.2L453.9 446.9L469.4 449.9L496.4 449.1L510.4 452.7L528.9 451.1L531.9 451.7L549.4 460.3L569.4 467.4L578.9 467.5Z" fill="#ffff00"/>
<path d="M573.4 456.2L587.4 451.7L590.4 449.8L602.5 435.7L603.8 435.7L610.9 438.3L603.3 428.1L597.9 423.4L566.6 385.1L558.0 372.9L539.9 342.6L538.4 341.7L537.2 342.0L527.7 347.3L520.3 351.8L505.2 355.6L496.8 361.0L490.8 367.9L485.1 378.4L464.4 420.1L455.6 433.9L453.7 437.2L452.5 440.7L452.9 441.0L453.4 440.5L458.9 433.1L460.4 432.3L509.4 440.6L529.9 442.0L565.9 455.9Z" fill="#ffef00"/>
<path d="M572.4 453.4L585.9 449.8L588.4 448.7L590.4 447.1L601.9 434.0L609.6 436.6L603.2 427.9L597.9 423.4L566.6 385.1L558.0 372.9L539.9 342.6L538.4 341.7L537.2 342.0L527.7 347.3L520.3 351.8L505.2 355.6L496.8 361.0L490.8 367.9L485.1 378.4L464.4 420.1L455.6 433.9L454.6 437.2L454.9 437.4L455.4 436.9L459.9 430.9L461.4 430.4L509.9 438.2L530.4 439.9L557.9 450.6L565.9 453.1Z" fill="#ffdf00"/>
<path d="M572.4 450.7L585.4 447.5L587.9 446.6L589.4 445.4L598.7 435.7L600.4 433.7L600.9 432.4L601.9 432.5L608.3 434.9L603.2 427.9L597.9 423.4L566.6 385.1L558.0 372.9L539.9 342.6L538.4 341.7L537.2 342.0L527.7 347.3L520.3 351.8L505.2 355.6L496.8 361.0L490.8 367.9L485.1 378.4L464.4 420.1L455.9 433.8L455.9 434.5L456.4 434.6L460.4 429.3L461.9 428.5L479.4 430.8L510.4 435.7L526.4 437.0L531.4 438.0L542.4 442.6L558.4 448.4L566.9 450.5Z" fill="#ffcf00"/>
<path d="M573.4 447.7L587.4 444.5L597.9 434.5L599.5 432.7L599.9 430.7L607.0 433.1L603.2 427.9L597.9 423.4L566.6 385.1L558.0 372.9L539.9 342.6L538.4 341.7L537.2 342.0L527.7 347.3L520.3 351.8L505.2 355.6L496.8 361.0L490.8 367.9L485.1 378.4L464.4 420.1L457.4 431.0L457.1 432.2L457.4 432.4L461.4 427.2L462.9 426.6L479.9 428.5L510.4 433.2L526.4 434.6L531.9 435.9L542.9 440.7L558.4 446.0L567.4 447.8Z" fill="#ffc000"/>
<path d="M571.4 445.2L586.9 442.3L598.4 431.9L598.9 429.0L605.7 431.4L603.2 427.9L597.9 423.4L566.6 385.1L558.0 372.9L539.9 342.6L538.4 341.7L537.2 342.0L527.7 347.3L520.3 351.8L505.2 355.6L496.8 361.0L490.8 367.9L485.1 378.4L464.4 420.1L458.7 429.2L458.9 429.5L461.9 425.7L463.4 424.7L479.9 426.2L510.9 430.7L526.4 432.3L532.4 433.8L543.4 438.8L558.9 443.8L567.9 445.1Z" fill="#ffb000"/>
<path d="M573.0 442.2L586.4 440.2L597.7 430.7L597.9 427.3L604.4 429.6L603.0 427.8L597.9 423.4L566.6 385.1L558.0 372.9L539.9 342.6L538.4 341.7L537.2 342.0L527.7 347.3L520.3 351.8L505.2 355.6L496.8 361.0L490.8 367.9L485.1 378.4L464.4 420.1L460.3 426.4L462.9 423.6L464.4 422.8L480.4 423.9L510.9 428.2L526.9 430.0L532.9 431.8L543.9 436.9L558.9 441.5L567.9 442.4Z" fill="#ffa000"/>
<path d="M569.0 439.7L585.9 438.0L596.8 429.7L596.5 426.2L596.9 425.6L603.1 427.9L597.9 423.4L566.6 385.1L558.0 372.9L545.6 351.7L539.8 342.5L538.6 341.7L537.2 342.0L520.3 351.8L505.2 355.6L496.8 361.0L490.8 367.9L485.1 378.4L464.4 420.1L462.3 423.4L463.9 421.5L464.9 421.0L479.9 421.5L526.9 427.6L533.4 429.7L544.4 434.9L557.4 438.7L559.9 439.4Z" fill="#ff9000"/>
<path d="M574.8 436.7L585.4 435.8L595.9 428.7L596.1 427.7L595.5 424.2L596.4 424.1L600.5 425.6L597.9 423.4L566.6 385.1L558.0 372.9L545.6 351.7L539.8 342.5L538.6 341.7L537.2 342.0L520.3 351.8L505.2 355.6L496.8 361.0L490.8 367.9L485.1 378.4L464.5 419.9L466.4 419.0L480.4 419.2L527.4 425.3L531.9 426.7L544.9 433.0L559.4 437.0Z" fill="#ff8000"/>
<path d="M565.4 435.2L582.4 434.2L585.9 433.2L594.9 427.7L595.2 426.7L594.4 422.5L594.9 422.3L597.9 423.4L566.6 385.1L558.0 372.9L545.6 351.7L539.8 342.5L538.6 341.7L537.2 342.0L520.3 351.8L505.2 355.6L496.9 360.9L490.8 367.9L485.1 378.4L465.5 417.8L466.9 417.3L480.4 417.3L502.4 419.7L529.9 423.4L536.4 425.8L538.9 427.8L545.9 431.2L558.9 434.9Z" fill="#ff7000"/>
<path d="M571.6 433.7L582.4 432.3L585.9 431.2L593.9 426.5L594.2 425.2L593.3 421.7L593.4 420.7L596.4 421.5L566.6 385.1L558.0 372.9L545.6 351.7L539.8 342.5L538.6 341.7L537.2 342.0L520.3 351.8L505.2 355.6L496.9 360.9L490.8 367.9L485.1 378.4L466.4 415.9L480.4 415.9L502.4 417.7L536.4 422.1L537.4 422.6L541.2 426.7L545.9 429.0L550.4 430.3L552.9 431.6L562.4 433.9Z" fill="#ff6000"/>
<path d="M564.4 432.8L570.9 432.5L581.9 430.6L585.4 429.4L593.0 425.2L593.3 424.2L592.3 419.2L594.5 419.0L566.6 385.1L558.0 372.9L545.6 351.7L539.8 342.5L538.6 341.7L537.2 342.0L520.3 351.8L505.2 355.6L496.9 360.9L490.8 367.9L485.1 378.4L467.3 414.2L480.9 414.4L509.0 416.2L529.4 419.1L536.9 418.6L537.9 419.3L542.4 424.9L546.4 427.0L550.4 428.3L553.4 430.1L561.4 432.3Z" fill="#ff5000"/>
<path d="M571.1 431.2L583.4 428.2L591.9 424.1L592.3 422.7L591.1 417.7L591.7 415.5L566.6 385.1L558.0 372.9L545.6 351.7L539.8 342.5L538.6 341.7L537.2 342.0L520.3 351.8L505.2 355.6L496.9 360.9L490.8 367.9L485.1 378.4L468.1 412.5L509.4 414.1L529.4 417.0L537.4 415.1L544.4 423.7L547.4 425.3L550.4 426.2L553.4 428.3L564.4 431.4Z" fill="#ff4000"/>
<path d="M532.4 414.0L544.9 409.2L569.9 405.2L580.9 407.6L587.9 413.0L588.4 412.9L588.6 411.7L566.6 385.1L558.0 372.9L539.9 342.6L538.4 341.7L537.2 342.0L527.7 347.3L520.3 351.8L505.2 355.6L496.9 360.9L490.8 367.9L485.1 378.4L468.9 410.9L509.4 411.9L527.9 414.7ZM569.9 430.2L582.4 426.6L590.9 422.8L591.4 422.2L591.3 421.2L589.9 417.1L581.4 410.6L569.9 407.3L546.4 412.0L540.9 414.2L540.7 414.7L541.1 415.7L546.2 422.2L550.4 424.2L553.9 426.8L565.4 430.1Z" fill="#ff3000"/>
<path d="M529.9 412.7L544.9 407.4L560.9 404.3L569.4 403.4L579.4 405.0L580.9 405.7L584.9 408.7L585.4 408.7L585.6 408.0L566.6 385.1L558.0 372.9L539.9 342.6L538.4 341.7L537.2 342.0L527.7 347.3L520.3 351.8L505.2 355.6L496.9 360.9L490.8 367.9L485.1 378.4L469.7 409.3L509.4 409.8L527.9 412.7ZM569.4 429.0L581.9 424.9L589.9 421.5L590.5 420.7L589.9 418.9L579.4 413.1L569.4 409.8L565.9 410.7L546.0 417.2L546.1 418.2L547.9 420.7L554.9 425.5L567.4 429.0Z" fill="#ff2000"/>
<path d="M530.5 410.7L544.9 405.7L560.9 402.1L569.9 401.6L576.9 402.2L579.4 402.9L581.9 404.5L582.5 404.2L566.6 385.1L558.0 372.9L539.9 342.6L538.4 341.7L537.2 342.0L527.7 347.3L520.3 351.8L505.2 355.6L496.9 360.9L490.8 367.9L485.1 378.4L470.5 407.6L509.4 407.7L528.4 410.7ZM569.3 427.7L585.4 421.6L586.3 420.7L586.1 418.7L582.4 416.9L568.9 412.2L551.0 419.7L551.2 420.7L555.4 423.9Z" fill="#ff1000"/>
<path d="M530.8 408.7L544.9 403.9L559.9 400.1L570.9 399.9L578.9 400.3L579.0 400.0L566.6 385.1L558.0 372.9L539.9 342.6L538.4 341.7L537.2 342.0L527.7 347.3L520.3 351.8L505.2 355.6L496.9 360.9L490.8 367.9L485.1 378.4L471.4 405.8L509.9 405.6L528.9 408.8ZM568.9 426.4L583.9 420.9L584.8 420.2L584.8 419.2L582.9 417.9L568.9 413.5L555.8 418.7L553.4 420.2L556.4 422.6L565.4 425.0Z" fill="#ff0000"/>
<path d="M491.9 366.7L495.4 367.3L495.8 367.7L493.9 371.1L492.9 372.2L492.5 373.2L492.9 373.5L494.9 372.0L502.4 367.9L508.9 365.0L518.9 362.5L522.4 362.6L530.4 360.8L545.9 363.8L547.4 364.9L572.9 392.6L566.6 385.1L558.0 372.9L545.6 351.7L539.9 342.6L538.8 341.8L537.2 342.0L520.3 351.8L505.0 355.7L497.1 360.7ZM492.4 373.3L492.2 373.7L492.4 374.0L492.7 373.7ZM568.9 425.2L582.2 420.2L583.3 419.7L583.4 419.2L581.4 418.2L568.9 414.8L557.3 419.2L556.0 420.2L557.4 421.3L562.4 422.0Z" fill="#ee0000"/>
<path d="M492.9 365.8L496.4 366.3L498.9 363.5L500.4 362.5L514.4 359.2L516.4 359.2L521.4 360.3L529.9 358.4L534.4 358.7L540.4 360.8L545.9 361.9L564.4 382.0L558.0 372.9L539.9 342.6L538.6 341.7L537.2 342.0L520.3 351.8L505.0 355.7L497.1 360.7Z" fill="#dc0000"/>
<path d="M504.9 355.8L506.6 357.2L506.9 357.7L506.3 358.7L506.9 358.9L515.9 357.2L521.4 357.9L529.9 355.9L532.9 355.7L535.9 356.3L540.9 358.8L544.4 359.1L546.4 360.9L560.0 375.7L558.0 372.9L545.6 351.7L539.9 342.6L538.8 341.8L537.2 342.0L520.3 351.8Z" fill="#ca0000"/>
<path d="M505.5 355.5L507.9 357.3L517.4 355.6L520.9 355.5L532.4 353.0L535.9 353.5L541.4 356.8L543.4 356.6L543.9 356.9L556.7 370.6L545.6 351.7L539.9 342.6L538.8 341.8L537.2 342.0L520.3 351.8Z" fill="#b90000"/>
<path d="M553.8 365.7L539.8 342.5L539.0 341.9L538.0 341.7L527.7 347.3L520.3 351.8L517.6 352.5L514.9 354.2L515.9 354.4L520.4 353.9L535.4 350.6L540.9 354.0L541.9 353.9L542.9 354.4Z" fill="#a80000"/>
<path d="M549.1 358.7L547.9 355.7L543.2 349.2L543.7 348.7L539.8 342.5L538.6 341.7L537.2 342.0L527.7 347.3L524.5 349.2L524.4 349.8L520.3 352.2L520.9 352.5L523.4 352.2L529.4 350.8L534.9 349.0L535.9 349.1L537.4 349.4L539.9 351.0L541.4 351.4L547.9 358.1Z" fill="#960000"/>
<path d="M543.9 351.7L542.5 349.2L542.6 348.7L543.5 348.3L539.8 342.5L538.4 341.7L537.2 342.0L524.9 349.0L525.4 350.7L529.4 349.8L535.4 347.5L537.4 347.3L539.9 348.5L543.4 351.7Z" fill="#840000"/>
<path d="M527.8 348.7L530.4 348.1L535.4 345.9L537.9 345.3L541.9 347.9L543.2 347.9L539.8 342.5L539.0 341.9L538.0 341.7L525.4 348.7Z" fill="#730000"/>
</g></g></g>
</svg>
</body></html>
